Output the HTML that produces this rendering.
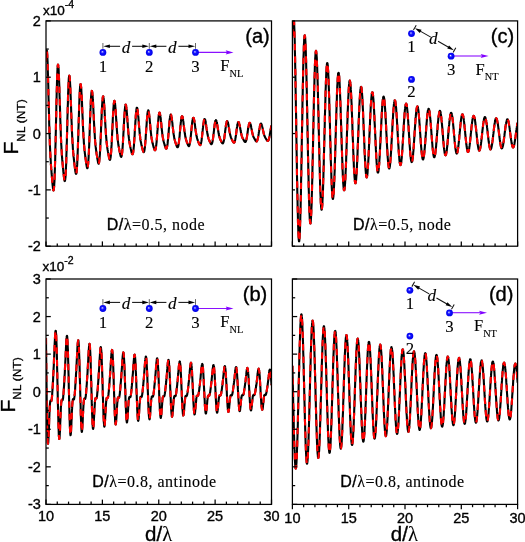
<!DOCTYPE html>
<html><head><meta charset="utf-8"><style>
html,body{margin:0;padding:0;background:#fff;}
body{width:525px;height:542px;overflow:hidden;}
svg{display:block;will-change:transform;}
text{fill:#000;stroke:#000;stroke-width:0.35px;}
.s{stroke-width:0.12px;}
</style></head><body>
<svg width="525" height="542" viewBox="0 0 525 542">
<defs><radialGradient id="bg" cx="0.5" cy="0.5" r="0.5" fx="0.4" fy="0.4"><stop offset="0" stop-color="#ffffff"/><stop offset="0.2" stop-color="#7070ff"/><stop offset="0.45" stop-color="#1010ff"/><stop offset="1" stop-color="#0000e6"/></radialGradient></defs>
<rect width="525" height="542" fill="#fff"/>
<clipPath id="ca"><rect x="46.0" y="20.9" width="225.5" height="225.29999999999998"/></clipPath>
<g clip-path="url(#ca)" fill="none" stroke-linejoin="round">
<path d="M46.0 61.5l0.1 -3.8 0.2 -3.1 0.1 -2.2 0.2 -1.5 0.1 -0.6 0.1 0.1 0.2 0.9 0.1 1.6 0.2 2.3 0.1 3 0.2 3.6 0.1 4 0.1 4.6 0.2 4.8 0.1 5.2 0.2 5.4 0.1 5.6 0.1 5.6 0.2 5.6 0.1 5.6 0.2 5.5 0.1 5.3 0.1 5 0.2 4.9 0.1 4.6 0.2 4.3 0.1 4 0.1 3.7 0.2 3.4 0.1 3.1 0.2 2.9 0.1 2.7 0.2 2.5 0.1 2.2 0.1 2.2 0.2 2 0.1 1.9 0.2 1.8 0.1 1.8 0.1 1.7 0.2 1.8 0.1 1.7 0.2 1.7 0.1 1.6 0.1 1.7 0.2 1.5 0.1 1.5 0.2 1.4 0.1 1.2 0.2 1.1 0.1 0.8 0.1 0.5 0.2 0.3 0.1 -0.2 0.2 -0.4 0.1 -1 0.1 -1.3 0.2 -1.9 0.1 -2.3 0.2 -2.8 0.1 -3.3 0.1 -3.9 0.2 -4.2 0.1 -4.8 0.2 -5.1 0.1 -5.6 0.1 -5.8 0.2 -6.1 0.1 -6.3 0.2 -6.5 0.1 -6.5 0.2 -6.4 0.1 -6.4 0.1 -6.2 0.2 -6 0.1 -5.6 0.2 -5.3 0.1 -4.8 0.1 -4.3 0.2 -3.7 0.1 -3.1 0.2 -2.5 0.1 -1.9 0.1 -1.2 0.2 -0.5 0.1 0.1 0.2 0.8 0.1 1.4 0.2 1.9 0.1 2.5 0.1 2.9 0.2 3.4 0.1 3.8 0.2 4 0.1 4.3 0.1 4.5 0.2 4.6 0.1 4.7 0.2 4.6 0.1 4.6 0.1 4.6 0.2 4.3 0.1 4.3 0.2 4 0.1 3.8 0.1 3.5 0.2 3.3 0.1 3.1 0.2 2.8 0.1 2.7 0.2 2.4 0.1 2.2 0.1 2 0.2 1.9 0.1 1.8 0.2 1.6 0.1 1.6 0.1 1.6 0.2 1.5 0.1 1.4 0.2 1.5 0.1 1.4 0.1 1.4 0.2 1.4 0.1 1.4 0.2 1.3 0.1 1.3 0.2 1.1 0.1 1 0.1 0.9 0.2 0.7 0.1 0.4 0.2 0.2 0.1 -0.1 0.1 -0.4 0.2 -0.8 0.1 -1.1 0.2 -1.6 0.1 -1.9 0.1 -2.4 0.2 -2.8 0.1 -3.2 0.2 -3.6 0.1 -4 0.1 -4.3 0.2 -4.7 0.1 -4.9 0.2 -5.1 0.1 -5.3 0.2 -5.4 0.1 -5.5 0.1 -5.4 0.2 -5.3 0.1 -5.3 0.2 -4.9 0.1 -4.8 0.1 -4.4 0.2 -4 0.1 -3.6 0.2 -3.1 0.1 -2.6 0.1 -2.1 0.2 -1.5 0.1 -1 0.2 -0.4 0.1 0.1 0.2 0.6 0.1 1.2 0.1 1.7 0.2 2 0.1 2.5 0.2 2.9 0.1 3.2 0.1 3.4 0.2 3.6 0.1 3.8 0.2 3.9 0.1 3.9 0.1 3.9 0.2 3.9 0.1 3.8 0.2 3.7 0.1 3.5 0.1 3.4 0.2 3.2 0.1 3 0.2 2.8 0.1 2.6 0.2 2.4 0.1 2.2 0.1 2 0.2 1.9 0.1 1.7 0.2 1.6 0.1 1.5 0.1 1.4 0.2 1.3 0.1 1.3 0.2 1.3 0.1 1.2 0.1 1.3 0.2 1.2 0.1 1.2 0.2 1.2 0.1 1.1 0.2 1.2 0.1 1 0.1 1 0.2 0.9 0.1 0.7 0.2 0.6 0.1 0.3 0.1 0.2 0.2 -0.1 0.1 -0.3 0.2 -0.7 0.1 -1 0.1 -1.3 0.2 -1.7 0.1 -2 0.2 -2.4 0.1 -2.8 0.1 -3 0.2 -3.4 0.1 -3.7 0.2 -4 0.1 -4.2 0.2 -4.3 0.1 -4.5 0.1 -4.6 0.2 -4.7 0.1 -4.6 0.2 -4.6 0.1 -4.4 0.1 -4.2 0.2 -4 0.1 -3.8 0.2 -3.4 0.1 -3 0.1 -2.7 0.2 -2.2 0.1 -1.7 0.2 -1.3 0.1 -0.9 0.2 -0.3 0.1 0.1 0.1 0.6 0.2 1 0.1 1.4 0.2 1.8 0.1 2.2 0.1 2.4 0.2 2.7 0.1 2.9 0.2 3.1 0.1 3.3 0.1 3.3 0.2 3.3 0.1 3.4 0.2 3.3 0.1 3.2 0.1 3.2 0.2 3 0.1 2.9 0.2 2.7 0.1 2.5 0.2 2.4 0.1 2.2 0.1 2.1 0.2 1.9 0.1 1.7 0.2 1.6 0.1 1.4 0.1 1.4 0.2 1.3 0.1 1.2 0.2 1.2 0.1 1.1 0.1 1.1 0.2 1 0.1 1.1 0.2 1 0.1 1.1 0.2 1 0.1 1 0.1 1 0.2 0.9 0.1 0.8 0.2 0.7 0.1 0.7 0.1 0.5 0.2 0.3 0.1 0.1 0.2 -0.1 0.1 -0.3 0.1 -0.6 0.2 -0.8 0.1 -1.2 0.2 -1.4 0.1 -1.8 0.1 -2 0.2 -2.4 0.1 -2.7 0.2 -2.9 0.1 -3.2 0.2 -3.4 0.1 -3.6 0.1 -3.8 0.2 -3.9 0.1 -3.9 0.2 -4 0.1 -4 0.1 -3.9 0.2 -3.8 0.1 -3.7 0.2 -3.4 0.1 -3.2 0.1 -3 0.2 -2.6 0.1 -2.2 0.2 -1.9 0.1 -1.5 0.2 -1.1 0.1 -0.7 0.1 -0.3 0.2 0.1 0.1 0.5 0.2 0.9 0.1 1.2 0.1 1.6 0.2 1.8 0.1 2.2 0.2 2.3 0.1 2.5 0.1 2.7 0.2 2.8 0.1 2.9 0.2 2.9 0.1 2.8 0.1 2.9 0.2 2.8 0.1 2.7 0.2 2.6 0.1 2.5 0.2 2.4 0.1 2.2 0.1 2 0.2 1.9 0.1 1.8 0.2 1.6 0.1 1.5 0.1 1.4 0.2 1.2 0.1 1.2 0.2 1.1 0.1 1.1 0.1 1 0.2 0.9 0.1 1 0.2 0.9 0.1 0.9 0.2 0.9 0.1 0.9 0.1 0.9 0.2 0.9 0.1 0.8 0.2 0.8 0.1 0.8 0.1 0.6 0.2 0.5 0.1 0.5 0.2 0.2 0.1 0.2 0.1 -0.1 0.2 -0.3 0.1 -0.5 0.2 -0.8 0.1 -1 0.1 -1.3 0.2 -1.5 0.1 -1.8 0.2 -2.1 0.1 -2.3 0.2 -2.5 0.1 -2.8 0.1 -3 0.2 -3.1 0.1 -3.3 0.2 -3.4 0.1 -3.5 0.1 -3.4 0.2 -3.5 0.1 -3.4 0.2 -3.3 0.1 -3.2 0.1 -3 0.2 -2.8 0.1 -2.5 0.2 -2.3 0.1 -1.9 0.2 -1.7 0.1 -1.3 0.1 -0.9 0.2 -0.6 0.1 -0.3 0.2 0.2 0.1 0.4 0.1 0.8 0.2 1.1 0.1 1.4 0.2 1.6 0.1 1.8 0.1 2.1 0.2 2.2 0.1 2.3 0.2 2.5 0.1 2.5 0.1 2.5 0.2 2.5 0.1 2.5 0.2 2.5 0.1 2.3 0.2 2.3 0.1 2.2 0.1 2 0.2 1.9 0.1 1.8 0.2 1.7 0.1 1.5 0.1 1.4 0.2 1.3 0.1 1.2 0.2 1.1 0.1 1.1 0.1 0.9 0.2 0.9 0.1 0.9 0.2 0.9 0.1 0.8 0.2 0.8 0.1 0.8 0.1 0.8 0.2 0.8 0.1 0.8 0.2 0.7 0.1 0.8 0.1 0.7 0.2 0.6 0.1 0.6 0.2 0.4 0.1 0.4 0.1 0.2 0.2 0.1 0.1 0 0.2 -0.3 0.1 -0.5 0.1 -0.6 0.2 -0.9 0.1 -1.1 0.2 -1.4 0.1 -1.6 0.2 -1.8 0.1 -2.1 0.1 -2.2 0.2 -2.5 0.1 -2.6 0.2 -2.7 0.1 -2.9 0.1 -3 0.2 -3 0.1 -3.1 0.2 -3 0.1 -3 0.1 -2.9 0.2 -2.8 0.1 -2.6 0.2 -2.5 0.1 -2.2 0.2 -2 0.1 -1.7 0.1 -1.4 0.2 -1.1 0.1 -0.9 0.2 -0.5 0.1 -0.2 0.1 0.1 0.2 0.5 0.1 0.7 0.2 0.9 0.1 1.2 0.1 1.5 0.2 1.6 0.1 1.8 0.2 2 0.1 2 0.1 2.2 0.2 2.2 0.1 2.2 0.2 2.2 0.1 2.2 0.2 2.2 0.1 2 0.1 2 0.2 1.9 0.1 1.8 0.2 1.7 0.1 1.6 0.1 1.5 0.2 1.3 0.1 1.2 0.2 1.2 0.1 1 0.1 1 0.2 0.9 0.1 0.9 0.2 0.8 0.1 0.7 0.2 0.8 0.1 0.7 0.1 0.7 0.2 0.8 0.1 0.7 0.2 0.7 0.1 0.7 0.1 0.6 0.2 0.7 0.1 0.6 0.2 0.5 0.1 0.5 0.1 0.5 0.2 0.3 0.1 0.2 0.2 0.1 0.1 -0.1 0.1 -0.2 0.2 -0.5 0.1 -0.6 0.2 -0.8 0.1 -1 0.2 -1.2 0.1 -1.4 0.1 -1.6 0.2 -1.8 0.1 -2 0.2 -2.2 0.1 -2.3 0.1 -2.5 0.2 -2.5 0.1 -2.7 0.2 -2.6 0.1 -2.7 0.1 -2.7 0.2 -2.7 0.1 -2.5 0.2 -2.5 0.1 -2.3 0.2 -2.2 0.1 -1.9 0.1 -1.8 0.2 -1.5 0.1 -1.2 0.2 -1 0.1 -0.7 0.1 -0.5 0.2 -0.1 0.1 0.1 0.2 0.3 0.1 0.7 0.1 0.8 0.2 1.1 0.1 1.3 0.2 1.5 0.1 1.6 0.1 1.7 0.2 1.8 0.1 1.9 0.2 2 0.1 2 0.2 1.9 0.1 2 0.1 1.9 0.2 1.8 0.1 1.8 0.2 1.7 0.1 1.6 0.1 1.5 0.2 1.3 0.1 1.3 0.2 1.2 0.1 1.1 0.1 1 0.2 1 0.1 0.8 0.2 0.8 0.1 0.8 0.2 0.7 0.1 0.7 0.1 0.7 0.2 0.6 0.1 0.6 0.2 0.7 0.1 0.6 0.1 0.6 0.2 0.6 0.1 0.6 0.2 0.6 0.1 0.6 0.1 0.5 0.2 0.4 0.1 0.4 0.2 0.3 0.1 0.1 0.1 0.1 0.2 -0.1 0.1 -0.2 0.2 -0.4 0.1 -0.5 0.2 -0.7 0.1 -0.9 0.1 -1.1 0.2 -1.3 0.1 -1.4 0.2 -1.6 0.1 -1.8 0.1 -2 0.2 -2 0.1 -2.2 0.2 -2.3 0.1 -2.4 0.1 -2.4 0.2 -2.4 0.1 -2.4 0.2 -2.3 0.1 -2.3 0.2 -2.2 0.1 -2.1 0.1 -1.9 0.2 -1.7 0.1 -1.6 0.2 -1.3 0.1 -1.1 0.1 -0.9 0.2 -0.6 0.1 -0.4 0.2 -0.1 0.1 0.1 0.1 0.3 0.2 0.6 0.1 0.8 0.2 1 0.1 1.1 0.1 1.3 0.2 1.5 0.1 1.5 0.2 1.6 0.1 1.8 0.2 1.7 0.1 1.8 0.1 1.7 0.2 1.7 0.1 1.7 0.2 1.7 0.1 1.6 0.1 1.5 0.2 1.4 0.1 1.3 0.2 1.2 0.1 1.2 0.1 1.1 0.2 0.9 0.1 0.9 0.2 0.9 0.1 0.7 0.2 0.7 0.1 0.7 0.1 0.7 0.2 0.6 0.1 0.6 0.2 0.6 0.1 0.5 0.1 0.6 0.2 0.6 0.1 0.5 0.2 0.6 0.1 0.5 0.1 0.5 0.2 0.5 0.1 0.5 0.2 0.3 0.1 0.4 0.1 0.2 0.2 0.2 0.1 0 0.2 0 0.1 -0.2 0.2 -0.4 0.1 -0.5 0.1 -0.6 0.2 -0.8 0.1 -1 0.2 -1.1 0.1 -1.4 0.1 -1.4 0.2 -1.6 0.1 -1.8 0.2 -1.8 0.1 -2 0.1 -2.1 0.2 -2.1 0.1 -2.1 0.2 -2.2 0.1 -2.1 0.2 -2.1 0.1 -2.1 0.1 -1.9 0.2 -1.9 0.1 -1.7 0.2 -1.6 0.1 -1.3 0.1 -1.2 0.2 -1 0.1 -0.8 0.2 -0.5 0.1 -0.4 0.1 -0.1 0.2 0.1 0.1 0.3 0.2 0.6 0.1 0.7 0.1 0.9 0.2 1 0.1 1.2 0.2 1.3 0.1 1.4 0.2 1.4 0.1 1.6 0.1 1.5 0.2 1.6 0.1 1.6 0.2 1.6 0.1 1.5 0.1 1.5 0.2 1.4 0.1 1.3 0.2 1.3 0.1 1.2 0.1 1.1 0.2 1 0.1 1 0.2 0.8 0.1 0.8 0.2 0.8 0.1 0.7 0.1 0.6 0.2 0.6 0.1 0.6 0.2 0.6 0.1 0.5 0.1 0.5 0.2 0.5 0.1 0.6 0.2 0.5 0.1 0.5 0.1 0.5 0.2 0.4 0.1 0.5 0.2 0.4 0.1 0.4 0.1 0.4 0.2 0.3 0.1 0.2 0.2 0.1 0.1 0.1 0.2 -0.1 0.1 -0.2 0.1 -0.3 0.2 -0.4 0.1 -0.6 0.2 -0.7 0.1 -0.9 0.1 -1.1 0.2 -1.2 0.1 -1.3 0.2 -1.4 0.1 -1.6 0.1 -1.7 0.2 -1.8 0.1 -1.8 0.2 -1.9 0.1 -2 0.2 -1.9 0.1 -2 0.1 -1.9 0.2 -1.8 0.1 -1.8 0.2 -1.6 0.1 -1.6 0.1 -1.4 0.2 -1.2 0.1 -1.1 0.2 -0.9 0.1 -0.6 0.1 -0.5 0.2 -0.3 0.1 -0.1 0.2 0.1 0.1 0.3 0.1 0.5 0.2 0.6 0.1 0.8 0.2 0.9 0.1 1.1 0.2 1.2 0.1 1.3 0.1 1.3 0.2 1.4 0.1 1.4 0.2 1.4 0.1 1.5 0.1 1.4 0.2 1.3 0.1 1.4 0.2 1.2 0.1 1.2 0.1 1.2 0.2 1.1 0.1 1 0.2 0.9 0.1 0.8 0.2 0.8 0.1 0.8 0.1 0.6 0.2 0.7 0.1 0.5 0.2 0.6 0.1 0.5 0.1 0.5 0.2 0.5 0.1 0.5 0.2 0.4 0.1 0.5 0.1 0.5 0.2 0.4 0.1 0.5 0.2 0.4 0.1 0.4 0.1 0.4 0.2 0.4 0.1 0.3 0.2 0.3 0.1 0.2 0.2 0.1 0.1 0 0.1 -0.1 0.2 -0.1 0.1 -0.3 0.2 -0.4 0.1 -0.6 0.1 -0.6 0.2 -0.8 0.1 -1 0.2 -1.1 0.1 -1.2 0.1 -1.3 0.2 -1.4 0.1 -1.6 0.2 -1.6 0.1 -1.7 0.2 -1.7 0.1 -1.8 0.1 -1.7 0.2 -1.8 0.1 -1.7 0.2 -1.7 0.1 -1.6 0.1 -1.5 0.2 -1.4 0.1 -1.2 0.2 -1.1 0.1 -1 0.1 -0.8 0.2 -0.6 0.1 -0.4 0.2 -0.3 0.1 -0.1 0.1 0.1 0.2 0.3 0.1 0.4 0.2 0.6 0.1 0.8 0.2 0.8 0.1 1 0.1 1.1 0.2 1.1 0.1 1.2 0.2 1.3 0.1 1.3 0.1 1.3 0.2 1.3 0.1 1.3 0.2 1.2 0.1 1.2 0.1 1.2 0.2 1.1 0.1 1 0.2 1 0.1 0.9 0.2 0.8 0.1 0.8 0.1 0.7 0.2 0.7 0.1 0.6 0.2 0.5 0.1 0.6 0.1 0.4 0.2 0.5 0.1 0.5 0.2 0.4 0.1 0.4 0.1 0.5 0.2 0.4 0.1 0.4 0.2 0.4 0.1 0.4 0.1 0.4 0.2 0.4 0.1 0.4 0.2 0.3 0.1 0.3 0.2 0.2 0.1 0.2 0.1 0.1 0.2 0 0.1 0 0.2 -0.2 0.1 -0.2 0.1 -0.4 0.2 -0.5 0.1 -0.6 0.2 -0.8 0.1 -0.9 0.1 -0.9 0.2 -1.1 0.1 -1.3 0.2 -1.3 0.1 -1.4 0.2 -1.4 0.1 -1.6 0.1 -1.5 0.2 -1.7 0.1 -1.6 0.2 -1.6 0.1 -1.5 0.1 -1.5 0.2 -1.5 0.1 -1.4 0.2 -1.2 0.1 -1.2 0.1 -1 0.2 -0.8 0.1 -0.8 0.2 -0.5 0.1 -0.4 0.1 -0.2 0.2 -0.1 0.1 0.1 0.2 0.3 0.1 0.4 0.2 0.5 0.1 0.7 0.1 0.8 0.2 0.9 0.1 1 0.2 1 0.1 1.1 0.1 1.2 0.2 1.1 0.1 1.2 0.2 1.2 0.1 1.2 0.1 1.1 0.2 1.1 0.1 1 0.2 1 0.1 1 0.2 0.9 0.1 0.8 0.1 0.8 0.2 0.7 0.1 0.6 0.2 0.6 0.1 0.6 0.1 0.5 0.2 0.5 0.1 0.4 0.2 0.4 0.1 0.5 0.1 0.4 0.2 0.3 0.1 0.4 0.2 0.4 0.1 0.4 0.1 0.4 0.2 0.4 0.1 0.3 0.2 0.4 0.1 0.3 0.2 0.3 0.1 0.3 0.1 0.2 0.2 0.1 0.1 0.1 0.2 0.1 0.1 -0.1 0.1 -0.2 0.2 -0.2 0.1 -0.4 0.2 -0.4 0.1 -0.6 0.1 -0.7 0.2 -0.8 0.1 -0.9 0.2 -1 0.1 -1.1 0.2 -1.2 0.1 -1.3 0.1 -1.3 0.2 -1.4 0.1 -1.5 0.2 -1.5 0.1 -1.4 0.1 -1.5 0.2 -1.4 0.1 -1.4 0.2 -1.3 0.1 -1.3 0.1 -1.1 0.2 -1.1 0.1 -0.9 0.2 -0.8 0.1 -0.6 0.1 -0.5 0.2 -0.4 0.1 -0.2 0.2 0 0.1 0.1 0.2 0.2 0.1 0.4 0.1 0.5 0.2 0.6 0.1 0.8 0.2 0.8 0.1 0.9 0.1 0.9 0.2 1.1 0.1 1 0.2 1.1 0.1 1.1 0.1 1.1 0.2 1 0.1 1.1 0.2 1 0.1 0.9 0.2 0.9 0.1 0.9 0.1 0.8 0.2 0.7 0.1 0.7 0.2 0.7 0.1 0.6 0.1 0.5 0.2 0.5 0.1 0.5 0.2 0.4 0.1 0.4 0.1 0.4 0.2 0.4 0.1 0.4 0.2 0.4 0.1 0.3 0.1 0.4 0.2 0.3 0.1 0.4 0.2 0.3 0.1 0.3 0.2 0.4 0.1 0.3 0.1 0.2 0.2 0.3 0.1 0.2 0.2 0.1 0.1 0.1 0.1 0 0.2 0 0.1 -0.2 0.2 -0.2 0.1 -0.3 0.1 -0.5 0.2 -0.5 0.1 -0.6 0.2 -0.8 0.1 -0.8 0.2 -0.9 0.1 -1.1 0.1 -1.1 0.2 -1.2 0.1 -1.2 0.2 -1.3 0.1 -1.3 0.1 -1.4 0.2 -1.3 0.1 -1.4 0.2 -1.3 0.1 -1.2 0.1 -1.3 0.2 -1.1 0.1 -1 0.2 -1 0.1 -0.8 0.1 -0.8 0.2 -0.5 0.1 -0.5 0.2 -0.3 0.1 -0.2 0.2 0 0.1 0.1 0.1 0.2 0.2 0.3 0.1 0.5 0.2 0.6 0.1 0.7 0.1 0.7 0.2 0.9 0.1 0.9 0.2 0.9 0.1 1 0.1 0.9 0.2 1 0.1 1 0.2 1 0.1 1 0.2 0.9 0.1 0.9 0.1 0.8 0.2 0.8 0.1 0.7 0.2 0.7 0.1 0.6 0.1 0.6 0.2 0.6 0.1 0.5 0.2 0.4 0.1 0.5 0.1 0.4 0.2 0.4 0.1 0.3 0.2 0.4 0.1 0.3 0.1 0.3 0.2 0.4 0.1 0.3 0.2 0.3 0.1 0.3 0.2 0.3 0.1 0.4 0.1 0.2 0.2 0.3 0.1 0.3 0.2 0.2 0.1 0.2 0.1 0.1 0.2 0.1 0.1 0 0.2 -0.1 0.1 -0.1 0.1 -0.2 0.2 -0.3 0.1 -0.4 0.2 -0.5 0.1 -0.6 0.2 -0.7 0.1 -0.8 0.1 -0.8 0.2 -1 0.1 -1 0.2 -1.1 0.1 -1.1 0.1 -1.2 0.2 -1.2 0.1 -1.3 0.2 -1.2 0.1 -1.3 0.1 -1.2 0.2 -1.1 0.1 -1.2 0.2 -1 0.1 -1 0.1 -0.8 0.2 -0.8 0.1 -0.7 0.2 -0.5 0.1 -0.4 0.2 -0.3 0.1 -0.2 0.1 0 0.2 0.1 0.1 0.2 0.2 0.4 0.1 0.4 0.1 0.5 0.2 0.7 0.1 0.7 0.2 0.7 0.1 0.8 0.1 0.9 0.2 0.9 0.1 0.9 0.2 0.9 0.1 0.9 0.2 0.9 0.1 0.9 0.1 0.9 0.2 0.8 0.1 0.7 0.2 0.8 0.1 0.7 0.1 0.6 0.2 0.6 0.1 0.5 0.2 0.5 0.1 0.5 0.1 0.4 0.2 0.4 0.1 0.4 0.2 0.3 0.1 0.3 0.1 0.4 0.2 0.3 0.1 0.3 0.2 0.3 0.1 0.3 0.2 0.3 0.1 0.3 0.1 0.3 0.2 0.3 0.1 0.2 0.2 0.3 0.1 0.2 0.1 0.2 0.2 0.2 0.1 0.1 0.2 0.1 0.1 0 0.1 -0.1 0.2 -0.1 0.1 -0.2 0.2 -0.3 0.1 -0.4 0.2 -0.4 0.1 -0.6 0.1 -0.6 0.2 -0.7 0.1 -0.8 0.2 -0.9 0.1 -1 0.1 -1 0.2 -1 0.1 -1.1 0.2 -1.2 0.1 -1.1 0.1 -1.2 0.2 -1.1 0.1 -1.1 0.2 -1.1 0.1 -1 0.1 -1 0.2 -0.9 0.1 -0.8 0.2 -0.7 0.1 -0.6 0.2 -0.5 0.1 -0.4 0.1 -0.2 0.2 -0.2 0.1 0 0.2 0.1 0.1 0.2 0.1 0.3 0.2 0.4 0.1 0.5 0.2 0.6 0.1 0.7 0.1 0.7 0.2 0.8 0.1 0.8 0.2 0.8 0.1 0.8 0.2 0.9 0.1 0.8 0.1 0.9 0.2 0.8 0.1 0.7 0.2 0.8 0.1 0.7 0.1 0.7 0.2 0.6 0.1 0.6 0.2 0.5 0.1 0.5 0.1 0.5 0.2 0.4 0.1 0.4 0.2 0.4 0.1 0.3 0.1 0.3 0.2 0.3 0.1 0.3 0.2 0.3 0.1 0.3 0.2 0.3 0.1 0.3 0.1 0.2 0.2 0.3 0.1 0.3 0.2 0.2 0.1 0.3 0.1 0.2 0.2 0.2 0.1 0.2 0.2 0.2 0.1 0.1 0.1 0 0.2 0.1 0.1 -0.1 0.2 -0.1 0.1 -0.2 0.2 -0.3 0.1 -0.3 0.1 -0.5 0.2 -0.5 0.1 -0.6 0.2 -0.6 0.1 -0.8 0.1 -0.8 0.2 -0.9 0.1 -0.9 0.2 -1 0.1 -1 0.1 -1.1 0.2 -1 0.1 -1.1 0.2 -1.1 0.1 -1 0.1 -1 0.2 -0.9 0.1 -0.9 0.2 -0.9 0.1 -0.7 0.2 -0.6 0.1 -0.6 0.1 -0.5 0.2 -0.3 0.1 -0.2 0.2 -0.2 0.1 0 0.1 0.1 0.2 0.2 0.1 0.3 0.2 0.4 0.1 0.5 0.1 0.5 0.2 0.6 0.1 0.7 0.2 0.7 0.1 0.7 0.2 0.8 0.1 0.8 0.1 0.8 0.2 0.7 0.1 0.8 0.2 0.8 0.1 0.7 0.1 0.7 0.2 0.6 0.1 0.7 0.2 0.5 0.1 0.6 0.1 0.5 0.2 0.4 0.1 0.5 0.2 0.4 0.1 0.3 0.1 0.4 0.2 0.3 0.1 0.3 0.2 0.3 0.1 0.2 0.2 0.3 0.1 0.3 0.1 0.2 0.2 0.3 0.1 0.2 0.2 0.3 0.1 0.3 0.1 0.2 0.2 0.2 0.1 0.2 0.2 0.2 0.1 0.2 0.1 0.1 0.2 0.1 0.1 0.1 0.2 0 0.1 0 0.2 -0.2 0.1 -0.1 0.1 -0.3 0.2 -0.3 0.1 -0.4 0.2 -0.5 0.1 -0.6 0.1 -0.6 0.2 -0.7 0.1 -0.7 0.2 -0.9 0.1 -0.8 0.1 -1 0.2 -0.9 0.1 -1 0.2 -1 0.1 -1 0.1 -1 0.2 -0.9 0.1 -0.9 0.2 -0.9 0.1 -0.8 0.2 -0.8 0.1 -0.7 0.1 -0.6 0.2 -0.5 0.1 -0.4 0.2 -0.3 0.1 -0.2 0.1 -0.2 0.2 0 0.1 0.1 0.2 0.2 0.1 0.3 0.1 0.3 0.2 0.5 0.1 0.5 0.2 0.6 0.1 0.6 0.2 0.6 0.1 0.7 0.1 0.8 0.2 0.7 0.1 0.7 0.2 0.7 0.1 0.8 0.1 0.7 0.2 0.6 0.1 0.7 0.2 0.6 0.1 0.6 0.1 0.5 0.2 0.5 0.1 0.5 0.2 0.4 0.1 0.4 0.1 0.3 0.2 0.4 0.1 0.3 0.2 0.3 0.1 0.3 0.2 0.2 0.1 0.3 0.1 0.2 0.2 0.3 0.1 0.2 0.2 0.3 0.1 0.2 0.1 0.2 0.2 0.3 0.1 0.2 0.2 0.2 0.1 0.2 0.1 0.2 0.2 0.2 0.1 0.1 0.2 0.1 0.1 0 0.2 0 0.1 0 0.1 -0.1 0.2 -0.2 0.1 -0.2 0.2 -0.4 0.1 -0.3 0.1 -0.5 0.2 -0.5 0.1 -0.6 0.2 -0.6 0.1 -0.8 0.1 -0.7 0.2 -0.8 0.1 -0.9 0.2 -0.9 0.1 -0.9 0.1 -0.9 0.2 -0.9 0.1 -1 0.2 -0.9 0.1 -0.8 0.2 -0.8 0.1 -0.8 0.1 -0.7 0.2 -0.6 0.1 -0.6 0.2 -0.5 0.1 -0.3 0.1 -0.3 0.2 -0.2 0.1 -0.1 0.2 0 0.1 0 0.1 0.2 0.2 0.3 0.1 0.3 0.2 0.4 0.1 0.5 0.2 0.5 0.1 0.6 0.1 0.6 0.2 0.7 0.1 0.7 0.2 0.6 0.1 0.7 0.1 0.7 0.2 0.7 0.1 0.6 0.2 0.6 0.1 0.6 0.1 0.6 0.2 0.5 0.1 0.5 0.2 0.5 0.1 0.4 0.1 0.4 0.2 0.4 0.1 0.3 0.2 0.4 0.1 0.2 0.2 0.3 0.1 0.3 0.1 0.2 0.2 0.3 0.1 0.2 0.2 0.2 0.1 0.3 0.1 0.2 0.2 0.2 0.1 0.2 0.2 0.2 0.1 0.3 0.1 0.2 0.2 0.1 0.1 0.2 0.2 0.2 0.1 0.1 0.2 0.1 0.1 0 0.1 0 0.2 0 0.1 -0.2 0.2 -0.1 0.1 -0.2 0.1 -0.3 0.2 -0.4 0.1 -0.4 0.2 -0.5 0.1 -0.6 0.1 -0.6 0.2 -0.6 0.1 -0.8 0.2 -0.7 0.1 -0.8 0.1 -0.9 0.2 -0.8 0.1 -0.9 0.2 -0.8 0.1 -0.9 0.2 -0.8 0.1 -0.8 0.1 -0.8 0.2 -0.7 0.1 -0.7 0.2 -0.5 0.1 -0.6" stroke="#000" stroke-width="2.1"/>
<path d="M46.0 61.5l0.1 -3.8 0.2 -3.1 0.1 -2.2 0.2 -1.5 0.1 -0.6 0.1 0.1 0.2 0.9 0.1 1.6 0.2 2.3 0.1 3 0.2 3.6 0.1 4 0.1 4.6 0.2 4.8 0.1 5.2 0.2 5.4 0.1 5.6 0.1 5.6 0.2 5.6 0.1 5.6 0.2 5.5 0.1 5.3 0.1 5 0.2 4.9 0.1 4.6 0.2 4.3 0.1 4 0.1 3.7 0.2 3.4 0.1 3.1 0.2 2.9 0.1 2.7 0.2 2.5 0.1 2.2 0.1 2.2 0.2 2 0.1 1.9 0.2 1.8 0.1 1.8 0.1 1.7 0.2 1.8 0.1 1.7 0.2 1.7 0.1 1.6 0.1 1.7 0.2 1.5 0.1 1.5 0.2 1.4 0.1 1.2 0.2 1.1 0.1 0.8 0.1 0.5 0.2 0.3 0.1 -0.2 0.2 -0.4 0.1 -1 0.1 -1.3 0.2 -1.9 0.1 -2.3 0.2 -2.8 0.1 -3.3 0.1 -3.9 0.2 -4.2 0.1 -4.8 0.2 -5.1 0.1 -5.6 0.1 -5.8 0.2 -6.1 0.1 -6.3 0.2 -6.5 0.1 -6.5 0.2 -6.4 0.1 -6.4 0.1 -6.2 0.2 -6 0.1 -5.6 0.2 -5.3 0.1 -4.8 0.1 -4.3 0.2 -3.7 0.1 -3.1 0.2 -2.5 0.1 -1.9 0.1 -1.2 0.2 -0.5 0.1 0.1 0.2 0.8 0.1 1.4 0.2 1.9 0.1 2.5 0.1 2.9 0.2 3.4 0.1 3.8 0.2 4 0.1 4.3 0.1 4.5 0.2 4.6 0.1 4.7 0.2 4.6 0.1 4.6 0.1 4.6 0.2 4.3 0.1 4.3 0.2 4 0.1 3.8 0.1 3.5 0.2 3.3 0.1 3.1 0.2 2.8 0.1 2.7 0.2 2.4 0.1 2.2 0.1 2 0.2 1.9 0.1 1.8 0.2 1.6 0.1 1.6 0.1 1.6 0.2 1.5 0.1 1.4 0.2 1.5 0.1 1.4 0.1 1.4 0.2 1.4 0.1 1.4 0.2 1.3 0.1 1.3 0.2 1.1 0.1 1 0.1 0.9 0.2 0.7 0.1 0.4 0.2 0.2 0.1 -0.1 0.1 -0.4 0.2 -0.8 0.1 -1.1 0.2 -1.6 0.1 -1.9 0.1 -2.4 0.2 -2.8 0.1 -3.2 0.2 -3.6 0.1 -4 0.1 -4.3 0.2 -4.7 0.1 -4.9 0.2 -5.1 0.1 -5.3 0.2 -5.4 0.1 -5.5 0.1 -5.4 0.2 -5.3 0.1 -5.3 0.2 -4.9 0.1 -4.8 0.1 -4.4 0.2 -4 0.1 -3.6 0.2 -3.1 0.1 -2.6 0.1 -2.1 0.2 -1.5 0.1 -1 0.2 -0.4 0.1 0.1 0.2 0.6 0.1 1.2 0.1 1.7 0.2 2 0.1 2.5 0.2 2.9 0.1 3.2 0.1 3.4 0.2 3.6 0.1 3.8 0.2 3.9 0.1 3.9 0.1 3.9 0.2 3.9 0.1 3.8 0.2 3.7 0.1 3.5 0.1 3.4 0.2 3.2 0.1 3 0.2 2.8 0.1 2.6 0.2 2.4 0.1 2.2 0.1 2 0.2 1.9 0.1 1.7 0.2 1.6 0.1 1.5 0.1 1.4 0.2 1.3 0.1 1.3 0.2 1.3 0.1 1.2 0.1 1.3 0.2 1.2 0.1 1.2 0.2 1.2 0.1 1.1 0.2 1.2 0.1 1 0.1 1 0.2 0.9 0.1 0.7 0.2 0.6 0.1 0.3 0.1 0.2 0.2 -0.1 0.1 -0.3 0.2 -0.7 0.1 -1 0.1 -1.3 0.2 -1.7 0.1 -2 0.2 -2.4 0.1 -2.8 0.1 -3 0.2 -3.4 0.1 -3.7 0.2 -4 0.1 -4.2 0.2 -4.3 0.1 -4.5 0.1 -4.6 0.2 -4.7 0.1 -4.6 0.2 -4.6 0.1 -4.4 0.1 -4.2 0.2 -4 0.1 -3.8 0.2 -3.4 0.1 -3 0.1 -2.7 0.2 -2.2 0.1 -1.7 0.2 -1.3 0.1 -0.9 0.2 -0.3 0.1 0.1 0.1 0.6 0.2 1 0.1 1.4 0.2 1.8 0.1 2.2 0.1 2.4 0.2 2.7 0.1 2.9 0.2 3.1 0.1 3.3 0.1 3.3 0.2 3.3 0.1 3.4 0.2 3.3 0.1 3.2 0.1 3.2 0.2 3 0.1 2.9 0.2 2.7 0.1 2.5 0.2 2.4 0.1 2.2 0.1 2.1 0.2 1.9 0.1 1.7 0.2 1.6 0.1 1.4 0.1 1.4 0.2 1.3 0.1 1.2 0.2 1.2 0.1 1.1 0.1 1.1 0.2 1 0.1 1.1 0.2 1 0.1 1.1 0.2 1 0.1 1 0.1 1 0.2 0.9 0.1 0.8 0.2 0.7 0.1 0.7 0.1 0.5 0.2 0.3 0.1 0.1 0.2 -0.1 0.1 -0.3 0.1 -0.6 0.2 -0.8 0.1 -1.2 0.2 -1.4 0.1 -1.8 0.1 -2 0.2 -2.4 0.1 -2.7 0.2 -2.9 0.1 -3.2 0.2 -3.4 0.1 -3.6 0.1 -3.8 0.2 -3.9 0.1 -3.9 0.2 -4 0.1 -4 0.1 -3.9 0.2 -3.8 0.1 -3.7 0.2 -3.4 0.1 -3.2 0.1 -3 0.2 -2.6 0.1 -2.2 0.2 -1.9 0.1 -1.5 0.2 -1.1 0.1 -0.7 0.1 -0.3 0.2 0.1 0.1 0.5 0.2 0.9 0.1 1.2 0.1 1.6 0.2 1.8 0.1 2.2 0.2 2.3 0.1 2.5 0.1 2.7 0.2 2.8 0.1 2.9 0.2 2.9 0.1 2.8 0.1 2.9 0.2 2.8 0.1 2.7 0.2 2.6 0.1 2.5 0.2 2.4 0.1 2.2 0.1 2 0.2 1.9 0.1 1.8 0.2 1.6 0.1 1.5 0.1 1.4 0.2 1.2 0.1 1.2 0.2 1.1 0.1 1.1 0.1 1 0.2 0.9 0.1 1 0.2 0.9 0.1 0.9 0.2 0.9 0.1 0.9 0.1 0.9 0.2 0.9 0.1 0.8 0.2 0.8 0.1 0.8 0.1 0.6 0.2 0.5 0.1 0.5 0.2 0.2 0.1 0.2 0.1 -0.1 0.2 -0.3 0.1 -0.5 0.2 -0.8 0.1 -1 0.1 -1.3 0.2 -1.5 0.1 -1.8 0.2 -2.1 0.1 -2.3 0.2 -2.5 0.1 -2.8 0.1 -3 0.2 -3.1 0.1 -3.3 0.2 -3.4 0.1 -3.5 0.1 -3.4 0.2 -3.5 0.1 -3.4 0.2 -3.3 0.1 -3.2 0.1 -3 0.2 -2.8 0.1 -2.5 0.2 -2.3 0.1 -1.9 0.2 -1.7 0.1 -1.3 0.1 -0.9 0.2 -0.6 0.1 -0.3 0.2 0.2 0.1 0.4 0.1 0.8 0.2 1.1 0.1 1.4 0.2 1.6 0.1 1.8 0.1 2.1 0.2 2.2 0.1 2.3 0.2 2.5 0.1 2.5 0.1 2.5 0.2 2.5 0.1 2.5 0.2 2.5 0.1 2.3 0.2 2.3 0.1 2.2 0.1 2 0.2 1.9 0.1 1.8 0.2 1.7 0.1 1.5 0.1 1.4 0.2 1.3 0.1 1.2 0.2 1.1 0.1 1.1 0.1 0.9 0.2 0.9 0.1 0.9 0.2 0.9 0.1 0.8 0.2 0.8 0.1 0.8 0.1 0.8 0.2 0.8 0.1 0.8 0.2 0.7 0.1 0.8 0.1 0.7 0.2 0.6 0.1 0.6 0.2 0.4 0.1 0.4 0.1 0.2 0.2 0.1 0.1 0 0.2 -0.3 0.1 -0.5 0.1 -0.6 0.2 -0.9 0.1 -1.1 0.2 -1.4 0.1 -1.6 0.2 -1.8 0.1 -2.1 0.1 -2.2 0.2 -2.5 0.1 -2.6 0.2 -2.7 0.1 -2.9 0.1 -3 0.2 -3 0.1 -3.1 0.2 -3 0.1 -3 0.1 -2.9 0.2 -2.8 0.1 -2.6 0.2 -2.5 0.1 -2.2 0.2 -2 0.1 -1.7 0.1 -1.4 0.2 -1.1 0.1 -0.9 0.2 -0.5 0.1 -0.2 0.1 0.1 0.2 0.5 0.1 0.7 0.2 0.9 0.1 1.2 0.1 1.5 0.2 1.6 0.1 1.8 0.2 2 0.1 2 0.1 2.2 0.2 2.2 0.1 2.2 0.2 2.2 0.1 2.2 0.2 2.2 0.1 2 0.1 2 0.2 1.9 0.1 1.8 0.2 1.7 0.1 1.6 0.1 1.5 0.2 1.3 0.1 1.2 0.2 1.2 0.1 1 0.1 1 0.2 0.9 0.1 0.9 0.2 0.8 0.1 0.7 0.2 0.8 0.1 0.7 0.1 0.7 0.2 0.8 0.1 0.7 0.2 0.7 0.1 0.7 0.1 0.6 0.2 0.7 0.1 0.6 0.2 0.5 0.1 0.5 0.1 0.5 0.2 0.3 0.1 0.2 0.2 0.1 0.1 -0.1 0.1 -0.2 0.2 -0.5 0.1 -0.6 0.2 -0.8 0.1 -1 0.2 -1.2 0.1 -1.4 0.1 -1.6 0.2 -1.8 0.1 -2 0.2 -2.2 0.1 -2.3 0.1 -2.5 0.2 -2.5 0.1 -2.7 0.2 -2.6 0.1 -2.7 0.1 -2.7 0.2 -2.7 0.1 -2.5 0.2 -2.5 0.1 -2.3 0.2 -2.2 0.1 -1.9 0.1 -1.8 0.2 -1.5 0.1 -1.2 0.2 -1 0.1 -0.7 0.1 -0.5 0.2 -0.1 0.1 0.1 0.2 0.3 0.1 0.7 0.1 0.8 0.2 1.1 0.1 1.3 0.2 1.5 0.1 1.6 0.1 1.7 0.2 1.8 0.1 1.9 0.2 2 0.1 2 0.2 1.9 0.1 2 0.1 1.9 0.2 1.8 0.1 1.8 0.2 1.7 0.1 1.6 0.1 1.5 0.2 1.3 0.1 1.3 0.2 1.2 0.1 1.1 0.1 1 0.2 1 0.1 0.8 0.2 0.8 0.1 0.8 0.2 0.7 0.1 0.7 0.1 0.7 0.2 0.6 0.1 0.6 0.2 0.7 0.1 0.6 0.1 0.6 0.2 0.6 0.1 0.6 0.2 0.6 0.1 0.6 0.1 0.5 0.2 0.4 0.1 0.4 0.2 0.3 0.1 0.1 0.1 0.1 0.2 -0.1 0.1 -0.2 0.2 -0.4 0.1 -0.5 0.2 -0.7 0.1 -0.9 0.1 -1.1 0.2 -1.3 0.1 -1.4 0.2 -1.6 0.1 -1.8 0.1 -2 0.2 -2 0.1 -2.2 0.2 -2.3 0.1 -2.4 0.1 -2.4 0.2 -2.4 0.1 -2.4 0.2 -2.3 0.1 -2.3 0.2 -2.2 0.1 -2.1 0.1 -1.9 0.2 -1.7 0.1 -1.6 0.2 -1.3 0.1 -1.1 0.1 -0.9 0.2 -0.6 0.1 -0.4 0.2 -0.1 0.1 0.1 0.1 0.3 0.2 0.6 0.1 0.8 0.2 1 0.1 1.1 0.1 1.3 0.2 1.5 0.1 1.5 0.2 1.6 0.1 1.8 0.2 1.7 0.1 1.8 0.1 1.7 0.2 1.7 0.1 1.7 0.2 1.7 0.1 1.6 0.1 1.5 0.2 1.4 0.1 1.3 0.2 1.2 0.1 1.2 0.1 1.1 0.2 0.9 0.1 0.9 0.2 0.9 0.1 0.7 0.2 0.7 0.1 0.7 0.1 0.7 0.2 0.6 0.1 0.6 0.2 0.6 0.1 0.5 0.1 0.6 0.2 0.6 0.1 0.5 0.2 0.6 0.1 0.5 0.1 0.5 0.2 0.5 0.1 0.5 0.2 0.3 0.1 0.4 0.1 0.2 0.2 0.2 0.1 0 0.2 0 0.1 -0.2 0.2 -0.4 0.1 -0.5 0.1 -0.6 0.2 -0.8 0.1 -1 0.2 -1.1 0.1 -1.4 0.1 -1.4 0.2 -1.6 0.1 -1.8 0.2 -1.8 0.1 -2 0.1 -2.1 0.2 -2.1 0.1 -2.1 0.2 -2.2 0.1 -2.1 0.2 -2.1 0.1 -2.1 0.1 -1.9 0.2 -1.9 0.1 -1.7 0.2 -1.6 0.1 -1.3 0.1 -1.2 0.2 -1 0.1 -0.8 0.2 -0.5 0.1 -0.4 0.1 -0.1 0.2 0.1 0.1 0.3 0.2 0.6 0.1 0.7 0.1 0.9 0.2 1 0.1 1.2 0.2 1.3 0.1 1.4 0.2 1.4 0.1 1.6 0.1 1.5 0.2 1.6 0.1 1.6 0.2 1.6 0.1 1.5 0.1 1.5 0.2 1.4 0.1 1.3 0.2 1.3 0.1 1.2 0.1 1.1 0.2 1 0.1 1 0.2 0.8 0.1 0.8 0.2 0.8 0.1 0.7 0.1 0.6 0.2 0.6 0.1 0.6 0.2 0.6 0.1 0.5 0.1 0.5 0.2 0.5 0.1 0.6 0.2 0.5 0.1 0.5 0.1 0.5 0.2 0.4 0.1 0.5 0.2 0.4 0.1 0.4 0.1 0.4 0.2 0.3 0.1 0.2 0.2 0.1 0.1 0.1 0.2 -0.1 0.1 -0.2 0.1 -0.3 0.2 -0.4 0.1 -0.6 0.2 -0.7 0.1 -0.9 0.1 -1.1 0.2 -1.2 0.1 -1.3 0.2 -1.4 0.1 -1.6 0.1 -1.7 0.2 -1.8 0.1 -1.8 0.2 -1.9 0.1 -2 0.2 -1.9 0.1 -2 0.1 -1.9 0.2 -1.8 0.1 -1.8 0.2 -1.6 0.1 -1.6 0.1 -1.4 0.2 -1.2 0.1 -1.1 0.2 -0.9 0.1 -0.6 0.1 -0.5 0.2 -0.3 0.1 -0.1 0.2 0.1 0.1 0.3 0.1 0.5 0.2 0.6 0.1 0.8 0.2 0.9 0.1 1.1 0.2 1.2 0.1 1.3 0.1 1.3 0.2 1.4 0.1 1.4 0.2 1.4 0.1 1.5 0.1 1.4 0.2 1.3 0.1 1.4 0.2 1.2 0.1 1.2 0.1 1.2 0.2 1.1 0.1 1 0.2 0.9 0.1 0.8 0.2 0.8 0.1 0.8 0.1 0.6 0.2 0.7 0.1 0.5 0.2 0.6 0.1 0.5 0.1 0.5 0.2 0.5 0.1 0.5 0.2 0.4 0.1 0.5 0.1 0.5 0.2 0.4 0.1 0.5 0.2 0.4 0.1 0.4 0.1 0.4 0.2 0.4 0.1 0.3 0.2 0.3 0.1 0.2 0.2 0.1 0.1 0 0.1 -0.1 0.2 -0.1 0.1 -0.3 0.2 -0.4 0.1 -0.6 0.1 -0.6 0.2 -0.8 0.1 -1 0.2 -1.1 0.1 -1.2 0.1 -1.3 0.2 -1.4 0.1 -1.6 0.2 -1.6 0.1 -1.7 0.2 -1.7 0.1 -1.8 0.1 -1.7 0.2 -1.8 0.1 -1.7 0.2 -1.7 0.1 -1.6 0.1 -1.5 0.2 -1.4 0.1 -1.2 0.2 -1.1 0.1 -1 0.1 -0.8 0.2 -0.6 0.1 -0.4 0.2 -0.3 0.1 -0.1 0.1 0.1 0.2 0.3 0.1 0.4 0.2 0.6 0.1 0.8 0.2 0.8 0.1 1 0.1 1.1 0.2 1.1 0.1 1.2 0.2 1.3 0.1 1.3 0.1 1.3 0.2 1.3 0.1 1.3 0.2 1.2 0.1 1.2 0.1 1.2 0.2 1.1 0.1 1 0.2 1 0.1 0.9 0.2 0.8 0.1 0.8 0.1 0.7 0.2 0.7 0.1 0.6 0.2 0.5 0.1 0.6 0.1 0.4 0.2 0.5 0.1 0.5 0.2 0.4 0.1 0.4 0.1 0.5 0.2 0.4 0.1 0.4 0.2 0.4 0.1 0.4 0.1 0.4 0.2 0.4 0.1 0.4 0.2 0.3 0.1 0.3 0.2 0.2 0.1 0.2 0.1 0.1 0.2 0 0.1 0 0.2 -0.2 0.1 -0.2 0.1 -0.4 0.2 -0.5 0.1 -0.6 0.2 -0.8 0.1 -0.9 0.1 -0.9 0.2 -1.1 0.1 -1.3 0.2 -1.3 0.1 -1.4 0.2 -1.4 0.1 -1.6 0.1 -1.5 0.2 -1.7 0.1 -1.6 0.2 -1.6 0.1 -1.5 0.1 -1.5 0.2 -1.5 0.1 -1.4 0.2 -1.2 0.1 -1.2 0.1 -1 0.2 -0.8 0.1 -0.8 0.2 -0.5 0.1 -0.4 0.1 -0.2 0.2 -0.1 0.1 0.1 0.2 0.3 0.1 0.4 0.2 0.5 0.1 0.7 0.1 0.8 0.2 0.9 0.1 1 0.2 1 0.1 1.1 0.1 1.2 0.2 1.1 0.1 1.2 0.2 1.2 0.1 1.2 0.1 1.1 0.2 1.1 0.1 1 0.2 1 0.1 1 0.2 0.9 0.1 0.8 0.1 0.8 0.2 0.7 0.1 0.6 0.2 0.6 0.1 0.6 0.1 0.5 0.2 0.5 0.1 0.4 0.2 0.4 0.1 0.5 0.1 0.4 0.2 0.3 0.1 0.4 0.2 0.4 0.1 0.4 0.1 0.4 0.2 0.4 0.1 0.3 0.2 0.4 0.1 0.3 0.2 0.3 0.1 0.3 0.1 0.2 0.2 0.1 0.1 0.1 0.2 0.1 0.1 -0.1 0.1 -0.2 0.2 -0.2 0.1 -0.4 0.2 -0.4 0.1 -0.6 0.1 -0.7 0.2 -0.8 0.1 -0.9 0.2 -1 0.1 -1.1 0.2 -1.2 0.1 -1.3 0.1 -1.3 0.2 -1.4 0.1 -1.5 0.2 -1.5 0.1 -1.4 0.1 -1.5 0.2 -1.4 0.1 -1.4 0.2 -1.3 0.1 -1.3 0.1 -1.1 0.2 -1.1 0.1 -0.9 0.2 -0.8 0.1 -0.6 0.1 -0.5 0.2 -0.4 0.1 -0.2 0.2 0 0.1 0.1 0.2 0.2 0.1 0.4 0.1 0.5 0.2 0.6 0.1 0.8 0.2 0.8 0.1 0.9 0.1 0.9 0.2 1.1 0.1 1 0.2 1.1 0.1 1.1 0.1 1.1 0.2 1 0.1 1.1 0.2 1 0.1 0.9 0.2 0.9 0.1 0.9 0.1 0.8 0.2 0.7 0.1 0.7 0.2 0.7 0.1 0.6 0.1 0.5 0.2 0.5 0.1 0.5 0.2 0.4 0.1 0.4 0.1 0.4 0.2 0.4 0.1 0.4 0.2 0.4 0.1 0.3 0.1 0.4 0.2 0.3 0.1 0.4 0.2 0.3 0.1 0.3 0.2 0.4 0.1 0.3 0.1 0.2 0.2 0.3 0.1 0.2 0.2 0.1 0.1 0.1 0.1 0 0.2 0 0.1 -0.2 0.2 -0.2 0.1 -0.3 0.1 -0.5 0.2 -0.5 0.1 -0.6 0.2 -0.8 0.1 -0.8 0.2 -0.9 0.1 -1.1 0.1 -1.1 0.2 -1.2 0.1 -1.2 0.2 -1.3 0.1 -1.3 0.1 -1.4 0.2 -1.3 0.1 -1.4 0.2 -1.3 0.1 -1.2 0.1 -1.3 0.2 -1.1 0.1 -1 0.2 -1 0.1 -0.8 0.1 -0.8 0.2 -0.5 0.1 -0.5 0.2 -0.3 0.1 -0.2 0.2 0 0.1 0.1 0.1 0.2 0.2 0.3 0.1 0.5 0.2 0.6 0.1 0.7 0.1 0.7 0.2 0.9 0.1 0.9 0.2 0.9 0.1 1 0.1 0.9 0.2 1 0.1 1 0.2 1 0.1 1 0.2 0.9 0.1 0.9 0.1 0.8 0.2 0.8 0.1 0.7 0.2 0.7 0.1 0.6 0.1 0.6 0.2 0.6 0.1 0.5 0.2 0.4 0.1 0.5 0.1 0.4 0.2 0.4 0.1 0.3 0.2 0.4 0.1 0.3 0.1 0.3 0.2 0.4 0.1 0.3 0.2 0.3 0.1 0.3 0.2 0.3 0.1 0.4 0.1 0.2 0.2 0.3 0.1 0.3 0.2 0.2 0.1 0.2 0.1 0.1 0.2 0.1 0.1 0 0.2 -0.1 0.1 -0.1 0.1 -0.2 0.2 -0.3 0.1 -0.4 0.2 -0.5 0.1 -0.6 0.2 -0.7 0.1 -0.8 0.1 -0.8 0.2 -1 0.1 -1 0.2 -1.1 0.1 -1.1 0.1 -1.2 0.2 -1.2 0.1 -1.3 0.2 -1.2 0.1 -1.3 0.1 -1.2 0.2 -1.1 0.1 -1.2 0.2 -1 0.1 -1 0.1 -0.8 0.2 -0.8 0.1 -0.7 0.2 -0.5 0.1 -0.4 0.2 -0.3 0.1 -0.2 0.1 0 0.2 0.1 0.1 0.2 0.2 0.4 0.1 0.4 0.1 0.5 0.2 0.7 0.1 0.7 0.2 0.7 0.1 0.8 0.1 0.9 0.2 0.9 0.1 0.9 0.2 0.9 0.1 0.9 0.2 0.9 0.1 0.9 0.1 0.9 0.2 0.8 0.1 0.7 0.2 0.8 0.1 0.7 0.1 0.6 0.2 0.6 0.1 0.5 0.2 0.5 0.1 0.5 0.1 0.4 0.2 0.4 0.1 0.4 0.2 0.3 0.1 0.3 0.1 0.4 0.2 0.3 0.1 0.3 0.2 0.3 0.1 0.3 0.2 0.3 0.1 0.3 0.1 0.3 0.2 0.3 0.1 0.2 0.2 0.3 0.1 0.2 0.1 0.2 0.2 0.2 0.1 0.1 0.2 0.1 0.1 0 0.1 -0.1 0.2 -0.1 0.1 -0.2 0.2 -0.3 0.1 -0.4 0.2 -0.4 0.1 -0.6 0.1 -0.6 0.2 -0.7 0.1 -0.8 0.2 -0.9 0.1 -1 0.1 -1 0.2 -1 0.1 -1.1 0.2 -1.2 0.1 -1.1 0.1 -1.2 0.2 -1.1 0.1 -1.1 0.2 -1.1 0.1 -1 0.1 -1 0.2 -0.9 0.1 -0.8 0.2 -0.7 0.1 -0.6 0.2 -0.5 0.1 -0.4 0.1 -0.2 0.2 -0.2 0.1 0 0.2 0.1 0.1 0.2 0.1 0.3 0.2 0.4 0.1 0.5 0.2 0.6 0.1 0.7 0.1 0.7 0.2 0.8 0.1 0.8 0.2 0.8 0.1 0.8 0.2 0.9 0.1 0.8 0.1 0.9 0.2 0.8 0.1 0.7 0.2 0.8 0.1 0.7 0.1 0.7 0.2 0.6 0.1 0.6 0.2 0.5 0.1 0.5 0.1 0.5 0.2 0.4 0.1 0.4 0.2 0.4 0.1 0.3 0.1 0.3 0.2 0.3 0.1 0.3 0.2 0.3 0.1 0.3 0.2 0.3 0.1 0.3 0.1 0.2 0.2 0.3 0.1 0.3 0.2 0.2 0.1 0.3 0.1 0.2 0.2 0.2 0.1 0.2 0.2 0.2 0.1 0.1 0.1 0 0.2 0.1 0.1 -0.1 0.2 -0.1 0.1 -0.2 0.2 -0.3 0.1 -0.3 0.1 -0.5 0.2 -0.5 0.1 -0.6 0.2 -0.6 0.1 -0.8 0.1 -0.8 0.2 -0.9 0.1 -0.9 0.2 -1 0.1 -1 0.1 -1.1 0.2 -1 0.1 -1.1 0.2 -1.1 0.1 -1 0.1 -1 0.2 -0.9 0.1 -0.9 0.2 -0.9 0.1 -0.7 0.2 -0.6 0.1 -0.6 0.1 -0.5 0.2 -0.3 0.1 -0.2 0.2 -0.2 0.1 0 0.1 0.1 0.2 0.2 0.1 0.3 0.2 0.4 0.1 0.5 0.1 0.5 0.2 0.6 0.1 0.7 0.2 0.7 0.1 0.7 0.2 0.8 0.1 0.8 0.1 0.8 0.2 0.7 0.1 0.8 0.2 0.8 0.1 0.7 0.1 0.7 0.2 0.6 0.1 0.7 0.2 0.5 0.1 0.6 0.1 0.5 0.2 0.4 0.1 0.5 0.2 0.4 0.1 0.3 0.1 0.4 0.2 0.3 0.1 0.3 0.2 0.3 0.1 0.2 0.2 0.3 0.1 0.3 0.1 0.2 0.2 0.3 0.1 0.2 0.2 0.3 0.1 0.3 0.1 0.2 0.2 0.2 0.1 0.2 0.2 0.2 0.1 0.2 0.1 0.1 0.2 0.1 0.1 0.1 0.2 0 0.1 0 0.2 -0.2 0.1 -0.1 0.1 -0.3 0.2 -0.3 0.1 -0.4 0.2 -0.5 0.1 -0.6 0.1 -0.6 0.2 -0.7 0.1 -0.7 0.2 -0.9 0.1 -0.8 0.1 -1 0.2 -0.9 0.1 -1 0.2 -1 0.1 -1 0.1 -1 0.2 -0.9 0.1 -0.9 0.2 -0.9 0.1 -0.8 0.2 -0.8 0.1 -0.7 0.1 -0.6 0.2 -0.5 0.1 -0.4 0.2 -0.3 0.1 -0.2 0.1 -0.2 0.2 0 0.1 0.1 0.2 0.2 0.1 0.3 0.1 0.3 0.2 0.5 0.1 0.5 0.2 0.6 0.1 0.6 0.2 0.6 0.1 0.7 0.1 0.8 0.2 0.7 0.1 0.7 0.2 0.7 0.1 0.8 0.1 0.7 0.2 0.6 0.1 0.7 0.2 0.6 0.1 0.6 0.1 0.5 0.2 0.5 0.1 0.5 0.2 0.4 0.1 0.4 0.1 0.3 0.2 0.4 0.1 0.3 0.2 0.3 0.1 0.3 0.2 0.2 0.1 0.3 0.1 0.2 0.2 0.3 0.1 0.2 0.2 0.3 0.1 0.2 0.1 0.2 0.2 0.3 0.1 0.2 0.2 0.2 0.1 0.2 0.1 0.2 0.2 0.2 0.1 0.1 0.2 0.1 0.1 0 0.2 0 0.1 0 0.1 -0.1 0.2 -0.2 0.1 -0.2 0.2 -0.4 0.1 -0.3 0.1 -0.5 0.2 -0.5 0.1 -0.6 0.2 -0.6 0.1 -0.8 0.1 -0.7 0.2 -0.8 0.1 -0.9 0.2 -0.9 0.1 -0.9 0.1 -0.9 0.2 -0.9 0.1 -1 0.2 -0.9 0.1 -0.8 0.2 -0.8 0.1 -0.8 0.1 -0.7 0.2 -0.6 0.1 -0.6 0.2 -0.5 0.1 -0.3 0.1 -0.3 0.2 -0.2 0.1 -0.1 0.2 0 0.1 0 0.1 0.2 0.2 0.3 0.1 0.3 0.2 0.4 0.1 0.5 0.2 0.5 0.1 0.6 0.1 0.6 0.2 0.7 0.1 0.7 0.2 0.6 0.1 0.7 0.1 0.7 0.2 0.7 0.1 0.6 0.2 0.6 0.1 0.6 0.1 0.6 0.2 0.5 0.1 0.5 0.2 0.5 0.1 0.4 0.1 0.4 0.2 0.4 0.1 0.3 0.2 0.4 0.1 0.2 0.2 0.3 0.1 0.3 0.1 0.2 0.2 0.3 0.1 0.2 0.2 0.2 0.1 0.3 0.1 0.2 0.2 0.2 0.1 0.2 0.2 0.2 0.1 0.3 0.1 0.2 0.2 0.1 0.1 0.2 0.2 0.2 0.1 0.1 0.2 0.1 0.1 0 0.1 0 0.2 0 0.1 -0.2 0.2 -0.1 0.1 -0.2 0.1 -0.3 0.2 -0.4 0.1 -0.4 0.2 -0.5 0.1 -0.6 0.1 -0.6 0.2 -0.6 0.1 -0.8 0.2 -0.7 0.1 -0.8 0.1 -0.9 0.2 -0.8 0.1 -0.9 0.2 -0.8 0.1 -0.9 0.2 -0.8 0.1 -0.8 0.1 -0.8 0.2 -0.7 0.1 -0.7 0.2 -0.5 0.1 -0.6" stroke="#ff0000" stroke-width="2.1" stroke-dasharray="6.4 6.1"/>
</g>
<clipPath id="cc"><rect x="292.4" y="20.9" width="225.20000000000005" height="225.29999999999998"/></clipPath>
<g clip-path="url(#cc)" fill="none" stroke-linejoin="round">
<path d="M292.4 35.6l0.1 -5 0.2 -4.4 0.1 -3.7 0.2 -3 0.1 -2.3 0.1 -1.5 0.2 -0.8 0.1 -0.1 0.2 0.7 0.1 1.4 0.1 2.1 0.2 2.8 0.1 3.4 0.2 4.2 0.1 4.7 0.2 5.3 0.1 5.9 0.1 6.4 0.2 6.9 0.1 7.3 0.2 7.7 0.1 8 0.1 8.3 0.2 8.5 0.1 8.7 0.2 8.8 0.1 8.9 0.1 8.9 0.2 8.9 0.1 8.7 0.2 8.6 0.1 8.4 0.1 8.2 0.2 7.8 0.1 7.5 0.2 7.1 0.1 6.6 0.2 6.2 0.1 5.7 0.1 5.1 0.2 4.6 0.1 3.9 0.2 3.4 0.1 2.7 0.1 2 0.2 1.4 0.1 0.8 0.2 0 0.1 -0.6 0.1 -1.2 0.2 -2 0.1 -2.5 0.2 -3.2 0.1 -3.7 0.1 -4.3 0.2 -4.9 0.1 -5.3 0.2 -5.8 0.1 -6.3 0.2 -6.6 0.1 -7 0.1 -7.3 0.2 -7.5 0.1 -7.8 0.2 -7.9 0.1 -8 0.1 -8.1 0.2 -8.1 0.1 -8 0.2 -8 0.1 -7.8 0.1 -7.7 0.2 -7.4 0.1 -7.1 0.2 -6.9 0.1 -6.4 0.1 -6.1 0.2 -5.6 0.1 -5.2 0.2 -4.6 0.1 -4.2 0.1 -3.6 0.2 -3 0.1 -2.5 0.2 -1.9 0.1 -1.2 0.2 -0.7 0.1 0 0.1 0.5 0.2 1.2 0.1 1.7 0.2 2.4 0.1 2.8 0.1 3.5 0.2 3.9 0.1 4.4 0.2 4.9 0.1 5.3 0.1 5.7 0.2 6.1 0.1 6.4 0.2 6.6 0.1 6.9 0.1 7.1 0.2 7.2 0.1 7.4 0.2 7.4 0.1 7.3 0.2 7.4 0.1 7.3 0.1 7.1 0.2 7 0.1 6.8 0.2 6.5 0.1 6.3 0.1 5.9 0.2 5.5 0.1 5.1 0.2 4.8 0.1 4.2 0.1 3.8 0.2 3.3 0.1 2.8 0.2 2.2 0.1 1.7 0.1 1.2 0.2 0.6 0.1 0 0.2 -0.5 0.1 -1.1 0.1 -1.6 0.2 -2.1 0.1 -2.6 0.2 -3.2 0.1 -3.6 0.2 -4 0.1 -4.5 0.1 -4.9 0.2 -5.2 0.1 -5.6 0.2 -5.8 0.1 -6.1 0.1 -6.4 0.2 -6.5 0.1 -6.6 0.2 -6.7 0.1 -6.8 0.1 -6.8 0.2 -6.7 0.1 -6.7 0.2 -6.6 0.1 -6.4 0.1 -6.2 0.2 -6 0.1 -5.7 0.2 -5.4 0.1 -5.1 0.2 -4.7 0.1 -4.3 0.1 -4 0.2 -3.4 0.1 -3.1 0.2 -2.5 0.1 -2.1 0.1 -1.5 0.2 -1.1 0.1 -0.5 0.2 0 0.1 0.4 0.1 1 0.2 1.5 0.1 2 0.2 2.4 0.1 2.9 0.1 3.3 0.2 3.8 0.1 4.1 0.2 4.5 0.1 4.8 0.2 5.1 0.1 5.4 0.1 5.6 0.2 5.8 0.1 6 0.2 6.1 0.1 6.2 0.1 6.2 0.2 6.3 0.1 6.2 0.2 6.1 0.1 6.1 0.1 5.9 0.2 5.7 0.1 5.5 0.2 5.3 0.1 5 0.1 4.6 0.2 4.4 0.1 4 0.2 3.6 0.1 3.2 0.1 2.8 0.2 2.3 0.1 1.9 0.2 1.4 0.1 1 0.2 0.5 0.1 0 0.1 -0.4 0.2 -1 0.1 -1.3 0.2 -1.8 0.1 -2.3 0.1 -2.7 0.2 -3 0.1 -3.5 0.2 -3.8 0.1 -4.2 0.1 -4.4 0.2 -4.7 0.1 -5 0.2 -5.2 0.1 -5.4 0.1 -5.5 0.2 -5.6 0.1 -5.7 0.2 -5.8 0.1 -5.8 0.2 -5.7 0.1 -5.7 0.1 -5.6 0.2 -5.4 0.1 -5.3 0.2 -5.1 0.1 -4.9 0.1 -4.6 0.2 -4.3 0.1 -4 0.2 -3.7 0.1 -3.3 0.1 -2.9 0.2 -2.6 0.1 -2.2 0.2 -1.7 0.1 -1.3 0.1 -0.9 0.2 -0.5 0.1 0 0.2 0.4 0.1 0.9 0.2 1.3 0.1 1.6 0.1 2.1 0.2 2.5 0.1 2.9 0.2 3.2 0.1 3.5 0.1 3.8 0.2 4.2 0.1 4.3 0.2 4.6 0.1 4.9 0.1 4.9 0.2 5.1 0.1 5.3 0.2 5.3 0.1 5.3 0.1 5.3 0.2 5.4 0.1 5.2 0.2 5.2 0.1 5 0.1 4.9 0.2 4.7 0.1 4.5 0.2 4.3 0.1 4 0.2 3.7 0.1 3.4 0.1 3.1 0.2 2.8 0.1 2.3 0.2 2 0.1 1.6 0.1 1.3 0.2 0.8 0.1 0.4 0.2 0 0.1 -0.4 0.1 -0.8 0.2 -1.2 0.1 -1.6 0.2 -1.9 0.1 -2.3 0.1 -2.7 0.2 -2.9 0.1 -3.3 0.2 -3.6 0.1 -3.8 0.2 -4.1 0.1 -4.3 0.1 -4.4 0.2 -4.7 0.1 -4.7 0.2 -4.9 0.1 -4.9 0.1 -4.9 0.2 -5 0.1 -4.9 0.2 -4.9 0.1 -4.8 0.1 -4.7 0.2 -4.6 0.1 -4.3 0.2 -4.2 0.1 -4 0.1 -3.7 0.2 -3.5 0.1 -3.1 0.2 -2.9 0.1 -2.5 0.1 -2.2 0.2 -1.9 0.1 -1.5 0.2 -1.1 0.1 -0.7 0.2 -0.4 0.1 0 0.1 0.3 0.2 0.8 0.1 1.1 0.2 1.5 0.1 1.8 0.1 2.1 0.2 2.5 0.1 2.8 0.2 3 0.1 3.4 0.1 3.5 0.2 3.8 0.1 4 0.2 4.2 0.1 4.3 0.1 4.4 0.2 4.5 0.1 4.6 0.2 4.6 0.1 4.7 0.2 4.6 0.1 4.5 0.1 4.5 0.2 4.3 0.1 4.3 0.2 4.1 0.1 3.9 0.1 3.6 0.2 3.5 0.1 3.2 0.2 3 0.1 2.6 0.1 2.4 0.2 2 0.1 1.8 0.2 1.3 0.1 1.1 0.1 0.7 0.2 0.3 0.1 0 0.2 -0.3 0.1 -0.7 0.2 -1.1 0.1 -1.3 0.1 -1.7 0.2 -2 0.1 -2.4 0.2 -2.5 0.1 -2.9 0.1 -3.1 0.2 -3.3 0.1 -3.6 0.2 -3.7 0.1 -3.9 0.1 -4 0.2 -4.2 0.1 -4.2 0.2 -4.3 0.1 -4.3 0.1 -4.3 0.2 -4.3 0.1 -4.2 0.2 -4.2 0.1 -4.1 0.1 -3.9 0.2 -3.9 0.1 -3.6 0.2 -3.4 0.1 -3.3 0.2 -3 0.1 -2.7 0.1 -2.5 0.2 -2.2 0.1 -1.9 0.2 -1.6 0.1 -1.3 0.1 -1 0.2 -0.6 0.1 -0.3 0.2 0 0.1 0.3 0.1 0.7 0.2 0.9 0.1 1.3 0.2 1.6 0.1 1.9 0.1 2.2 0.2 2.4 0.1 2.7 0.2 2.9 0.1 3.1 0.2 3.3 0.1 3.5 0.1 3.7 0.2 3.7 0.1 3.9 0.2 3.9 0.1 4.1 0.1 4 0.2 4 0.1 4.1 0.2 3.9 0.1 3.9 0.1 3.8 0.2 3.7 0.1 3.6 0.2 3.4 0.1 3.2 0.1 3 0.2 2.9 0.1 2.5 0.2 2.3 0.1 2.1 0.2 1.8 0.1 1.5 0.1 1.2 0.2 0.9 0.1 0.6 0.2 0.3 0.1 0 0.1 -0.3 0.2 -0.7 0.1 -0.9 0.2 -1.2 0.1 -1.5 0.1 -1.8 0.2 -2 0.1 -2.3 0.2 -2.5 0.1 -2.7 0.1 -3 0.2 -3.1 0.1 -3.2 0.2 -3.5 0.1 -3.5 0.1 -3.6 0.2 -3.7 0.1 -3.8 0.2 -3.8 0.1 -3.8 0.2 -3.7 0.1 -3.8 0.1 -3.6 0.2 -3.6 0.1 -3.5 0.2 -3.3 0.1 -3.2 0.1 -3 0.2 -2.8 0.1 -2.7 0.2 -2.4 0.1 -2.1 0.1 -2 0.2 -1.6 0.1 -1.4 0.2 -1.2 0.1 -0.8 0.1 -0.6 0.2 -0.2 0.1 0 0.2 0.3 0.1 0.6 0.2 0.8 0.1 1.2 0.1 1.4 0.2 1.7 0.1 1.9 0.2 2.1 0.1 2.4 0.1 2.5 0.2 2.8 0.1 2.9 0.2 3.1 0.1 3.2 0.1 3.3 0.2 3.4 0.1 3.5 0.2 3.6 0.1 3.5 0.1 3.6 0.2 3.5 0.1 3.5 0.2 3.5 0.1 3.3 0.1 3.3 0.2 3.1 0.1 3 0.2 2.9 0.1 2.6 0.2 2.5 0.1 2.2 0.1 2.1 0.2 1.8 0.1 1.5 0.2 1.4 0.1 1 0.1 0.8 0.2 0.5 0.1 0.3 0.2 0 0.1 -0.3 0.1 -0.6 0.2 -0.8 0.1 -1.1 0.2 -1.3 0.1 -1.6 0.1 -1.8 0.2 -2 0.1 -2.3 0.2 -2.4 0.1 -2.6 0.2 -2.7 0.1 -2.9 0.1 -3 0.2 -3.2 0.1 -3.2 0.2 -3.3 0.1 -3.3 0.1 -3.3 0.2 -3.4 0.1 -3.3 0.2 -3.3 0.1 -3.3 0.1 -3.1 0.2 -3.1 0.1 -2.9 0.2 -2.9 0.1 -2.6 0.1 -2.5 0.2 -2.4 0.1 -2.1 0.2 -1.9 0.1 -1.7 0.2 -1.5 0.1 -1.2 0.1 -1 0.2 -0.7 0.1 -0.5 0.2 -0.2 0.1 0 0.1 0.3 0.2 0.5 0.1 0.8 0.2 1 0.1 1.2 0.1 1.5 0.2 1.7 0.1 1.9 0.2 2.1 0.1 2.3 0.1 2.5 0.2 2.6 0.1 2.7 0.2 2.9 0.1 2.9 0.1 3.1 0.2 3.1 0.1 3.1 0.2 3.1 0.1 3.2 0.2 3.2 0.1 3.1 0.1 3 0.2 3 0.1 2.9 0.2 2.8 0.1 2.6 0.1 2.5 0.2 2.4 0.1 2.2 0.2 2 0.1 1.8 0.1 1.6 0.2 1.4 0.1 1.1 0.2 1 0.1 0.7 0.1 0.4 0.2 0.2 0.1 0 0.2 -0.3 0.1 -0.5 0.2 -0.7 0.1 -1 0.1 -1.2 0.2 -1.4 0.1 -1.6 0.2 -1.8 0.1 -2 0.1 -2.1 0.2 -2.4 0.1 -2.4 0.2 -2.6 0.1 -2.7 0.1 -2.8 0.2 -2.9 0.1 -2.9 0.2 -3 0.1 -2.9 0.1 -3 0.2 -3 0.1 -2.9 0.2 -2.9 0.1 -2.8 0.2 -2.8 0.1 -2.6 0.1 -2.5 0.2 -2.4 0.1 -2.2 0.2 -2.1 0.1 -1.8 0.1 -1.7 0.2 -1.6 0.1 -1.3 0.2 -1.1 0.1 -0.8 0.1 -0.7 0.2 -0.4 0.1 -0.2 0.2 0 0.1 0.3 0.1 0.5 0.2 0.7 0.1 0.9 0.2 1.1 0.1 1.4 0.1 1.5 0.2 1.7 0.1 1.9 0.2 2 0.1 2.2 0.2 2.4 0.1 2.4 0.1 2.6 0.2 2.6 0.1 2.7 0.2 2.8 0.1 2.8 0.1 2.8 0.2 2.8 0.1 2.8 0.2 2.8 0.1 2.7 0.1 2.7 0.2 2.6 0.1 2.5 0.2 2.3 0.1 2.3 0.1 2.1 0.2 1.9 0.1 1.8 0.2 1.6 0.1 1.5 0.2 1.2 0.1 1 0.1 0.8 0.2 0.7 0.1 0.4 0.2 0.1 0.1 0 0.1 -0.2 0.2 -0.5 0.1 -0.7 0.2 -0.8 0.1 -1.1 0.1 -1.3 0.2 -1.4 0.1 -1.7 0.2 -1.8 0.1 -1.9 0.1 -2.1 0.2 -2.2 0.1 -2.3 0.2 -2.4 0.1 -2.5 0.1 -2.6 0.2 -2.6 0.1 -2.7 0.2 -2.7 0.1 -2.6 0.2 -2.7 0.1 -2.6 0.1 -2.6 0.2 -2.5 0.1 -2.5 0.2 -2.3 0.1 -2.3 0.1 -2.1 0.2 -2 0.1 -1.8 0.2 -1.7 0.1 -1.6 0.1 -1.3 0.2 -1.2 0.1 -0.9 0.2 -0.8 0.1 -0.6 0.1 -0.4 0.2 -0.1 0.1 0 0.2 0.2 0.1 0.5 0.2 0.6 0.1 0.8 0.1 1.1 0.2 1.2 0.1 1.4 0.2 1.5 0.1 1.7 0.1 1.9 0.2 1.9 0.1 2.1 0.2 2.2 0.1 2.3 0.1 2.4 0.2 2.4 0.1 2.5 0.2 2.6 0.1 2.5 0.1 2.5 0.2 2.6 0.1 2.5 0.2 2.4 0.1 2.4 0.2 2.3 0.1 2.3 0.1 2.1 0.2 2 0.1 1.9 0.2 1.7 0.1 1.6 0.1 1.5 0.2 1.3 0.1 1.1 0.2 0.9 0.1 0.7 0.1 0.6 0.2 0.3 0.1 0.2 0.2 -0.1 0.1 -0.2 0.1 -0.4 0.2 -0.6 0.1 -0.8 0.2 -1 0.1 -1.2 0.1 -1.3 0.2 -1.4 0.1 -1.7 0.2 -1.7 0.1 -1.9 0.2 -2 0.1 -2.1 0.1 -2.2 0.2 -2.2 0.1 -2.3 0.2 -2.4 0.1 -2.4 0.1 -2.4 0.2 -2.4 0.1 -2.4 0.2 -2.4 0.1 -2.3 0.1 -2.3 0.2 -2.2 0.1 -2.1 0.2 -2.1 0.1 -1.9 0.1 -1.8 0.2 -1.6 0.1 -1.5 0.2 -1.4 0.1 -1.2 0.2 -1.1 0.1 -0.8 0.1 -0.7 0.2 -0.5 0.1 -0.4 0.2 -0.1 0.1 0 0.1 0.2 0.2 0.4 0.1 0.6 0.2 0.8 0.1 0.9 0.1 1.1 0.2 1.3 0.1 1.4 0.2 1.5 0.1 1.7 0.1 1.8 0.2 1.9 0.1 2 0.2 2.1 0.1 2.1 0.2 2.2 0.1 2.3 0.1 2.2 0.2 2.3 0.1 2.3 0.2 2.3 0.1 2.3 0.1 2.2 0.2 2.2 0.1 2.1 0.2 2 0.1 1.9 0.1 1.8 0.2 1.7 0.1 1.6 0.2 1.4 0.1 1.3 0.1 1.2 0.2 1 0.1 0.8 0.2 0.6 0.1 0.5 0.1 0.3 0.2 0.2 0.1 -0.1 0.2 -0.2 0.1 -0.4 0.2 -0.5 0.1 -0.7 0.1 -0.9 0.2 -1.1 0.1 -1.2 0.2 -1.3 0.1 -1.5 0.1 -1.6 0.2 -1.7 0.1 -1.8 0.2 -1.9 0.1 -2 0.1 -2 0.2 -2.1 0.1 -2.2 0.2 -2.2 0.1 -2.1 0.1 -2.2 0.2 -2.2 0.1 -2.2 0.2 -2.1 0.1 -2 0.2 -2 0.1 -1.9 0.1 -1.9 0.2 -1.7 0.1 -1.6 0.2 -1.5 0.1 -1.4 0.1 -1.2 0.2 -1.1 0.1 -1 0.2 -0.7 0.1 -0.7 0.1 -0.4 0.2 -0.3 0.1 -0.1 0.2 0 0.1 0.2 0.1 0.4 0.2 0.5 0.1 0.7 0.2 0.9 0.1 1 0.2 1.1 0.1 1.3 0.1 1.4 0.2 1.5 0.1 1.6 0.2 1.8 0.1 1.8 0.1 1.9 0.2 1.9 0.1 2 0.2 2.1 0.1 2.1 0.1 2 0.2 2.1 0.1 2.1 0.2 2.1 0.1 2 0.1 1.9 0.2 1.9 0.1 1.9 0.2 1.7 0.1 1.7 0.1 1.5 0.2 1.4 0.1 1.3 0.2 1.2 0.1 1 0.2 0.9 0.1 0.8 0.1 0.6 0.2 0.4 0.1 0.3 0.2 0.1 0.1 0 0.1 -0.2 0.2 -0.4 0.1 -0.5 0.2 -0.7 0.1 -0.8 0.1 -1 0.2 -1.1 0.1 -1.2 0.2 -1.3 0.1 -1.5 0.1 -1.5 0.2 -1.7 0.1 -1.7 0.2 -1.8 0.1 -1.9 0.2 -1.9 0.1 -2 0.1 -1.9 0.2 -2 0.1 -2 0.2 -2 0.1 -2 0.1 -1.9 0.2 -1.9 0.1 -1.8 0.2 -1.7 0.1 -1.7 0.1 -1.6 0.2 -1.4 0.1 -1.4 0.2 -1.2 0.1 -1.1 0.1 -1 0.2 -0.9 0.1 -0.7 0.2 -0.6 0.1 -0.4 0.1 -0.2 0.2 -0.1 0.1 0 0.2 0.2 0.1 0.3 0.2 0.5 0.1 0.7 0.1 0.8 0.2 0.9 0.1 1 0.2 1.2 0.1 1.3 0.1 1.4 0.2 1.5 0.1 1.6 0.2 1.6 0.1 1.7 0.1 1.8 0.2 1.9 0.1 1.8 0.2 1.9 0.1 1.9 0.1 1.9 0.2 1.9 0.1 1.9 0.2 1.8 0.1 1.8 0.2 1.7 0.1 1.7 0.1 1.6 0.2 1.5 0.1 1.4 0.2 1.3 0.1 1.2 0.1 1.1 0.2 0.9 0.1 0.8 0.2 0.7 0.1 0.5 0.1 0.4 0.2 0.3 0.1 0.1 0.2 -0.1 0.1 -0.2 0.1 -0.3 0.2 -0.5 0.1 -0.6 0.2 -0.8 0.1 -0.8 0.2 -1 0.1 -1.2 0.1 -1.2 0.2 -1.3 0.1 -1.5 0.2 -1.5 0.1 -1.6 0.1 -1.6 0.2 -1.7 0.1 -1.8 0.2 -1.8 0.1 -1.8 0.1 -1.8 0.2 -1.8 0.1 -1.8 0.2 -1.8 0.1 -1.8 0.1 -1.7 0.2 -1.6 0.1 -1.6 0.2 -1.5 0.1 -1.5 0.1 -1.3 0.2 -1.3 0.1 -1.1 0.2 -1 0.1 -0.9 0.2 -0.8 0.1 -0.6 0.1 -0.5 0.2 -0.4 0.1 -0.3 0.2 0 0.1 0 0.1 0.2 0.2 0.3 0.1 0.5 0.2 0.6 0.1 0.7 0.1 0.8 0.2 1 0.1 1.1 0.2 1.2 0.1 1.2 0.1 1.4 0.2 1.5 0.1 1.5 0.2 1.6 0.1 1.6 0.2 1.7 0.1 1.7 0.1 1.7 0.2 1.8 0.1 1.7 0.2 1.7 0.1 1.8 0.1 1.6 0.2 1.7 0.1 1.6 0.2 1.5 0.1 1.4 0.1 1.4 0.2 1.3 0.1 1.2 0.2 1.1 0.1 0.9 0.1 0.9 0.2 0.7 0.1 0.6 0.2 0.5 0.1 0.4 0.2 0.2 0.1 0.1 0.1 -0.1 0.2 -0.1 0.1 -0.3 0.2 -0.5 0.1 -0.6 0.1 -0.7 0.2 -0.8 0.1 -0.9 0.2 -1 0.1 -1.2 0.1 -1.2 0.2 -1.3 0.1 -1.4 0.2 -1.5 0.1 -1.5 0.1 -1.5 0.2 -1.7 0.1 -1.6 0.2 -1.7 0.1 -1.6 0.1 -1.7 0.2 -1.7 0.1 -1.6 0.2 -1.6 0.1 -1.6 0.2 -1.5 0.1 -1.5 0.1 -1.4 0.2 -1.3 0.1 -1.2 0.2 -1.1 0.1 -1.1 0.1 -0.9 0.2 -0.8 0.1 -0.7 0.2 -0.6 0.1 -0.5 0.1 -0.3 0.2 -0.2 0.1 -0.1 0.2 0 0.1 0.2 0.1 0.3 0.2 0.5 0.1 0.5 0.2 0.7 0.1 0.8 0.2 0.8 0.1 1 0.1 1.1 0.2 1.2 0.1 1.3 0.2 1.3 0.1 1.4 0.1 1.5 0.2 1.5 0.1 1.5 0.2 1.6 0.1 1.6 0.1 1.6 0.2 1.6 0.1 1.6 0.2 1.6 0.1 1.5 0.1 1.5 0.2 1.5 0.1 1.4 0.2 1.3 0.1 1.3 0.1 1.1 0.2 1.1 0.1 1 0.2 0.9 0.1 0.8 0.2 0.7 0.1 0.5 0.1 0.5 0.2 0.3 0.1 0.2 0.2 0.1 0.1 -0.1 0.1 -0.2 0.2 -0.3 0.1 -0.4 0.2 -0.5 0.1 -0.6 0.1 -0.8 0.2 -0.8 0.1 -1 0.2 -1.1 0.1 -1.1 0.1 -1.2 0.2 -1.3 0.1 -1.3 0.2 -1.4 0.1 -1.5 0.2 -1.5 0.1 -1.5 0.1 -1.5 0.2 -1.6 0.1 -1.5 0.2 -1.5 0.1 -1.5 0.1 -1.5 0.2 -1.5 0.1 -1.4 0.2 -1.3 0.1 -1.3 0.1 -1.2 0.2 -1.1 0.1 -1.1 0.2 -0.9 0.1 -0.9 0.1 -0.7 0.2 -0.7 0.1 -0.5 0.2 -0.4 0.1 -0.3 0.2 -0.2 0.1 -0.1 0.1 0.1 0.2 0.1 0.1 0.3 0.2 0.4 0.1 0.5 0.1 0.7 0.2 0.7 0.1 0.8 0.2 0.9 0.1 1 0.1 1.1 0.2 1.2 0.1 1.2 0.2 1.3 0.1 1.4 0.1 1.4 0.2 1.4 0.1 1.5 0.2 1.4 0.1 1.5 0.1 1.5 0.2 1.5 0.1 1.4 0.2 1.4 0.1 1.4 0.2 1.4 0.1 1.2 0.1 1.3 0.2 1.1 0.1 1.1 0.2 1 0.1 0.9 0.1 0.8 0.2 0.8 0.1 0.6 0.2 0.5 0.1 0.4 0.1 0.3 0.2 0.2 0.1 0 0.2 0 0.1 -0.2 0.1 -0.3 0.2 -0.3 0.1 -0.5 0.2 -0.6 0.1 -0.7 0.2 -0.8 0.1 -0.9 0.1 -1 0.2 -1 0.1 -1.2 0.2 -1.2 0.1 -1.2 0.1 -1.3 0.2 -1.3 0.1 -1.4 0.2 -1.4 0.1 -1.4 0.1 -1.5 0.2 -1.4 0.1 -1.4 0.2 -1.4 0.1 -1.4 0.1 -1.3 0.2 -1.3 0.1 -1.2 0.2 -1.2 0.1 -1.1 0.2 -1 0.1 -1 0.1 -0.9 0.2 -0.8 0.1 -0.7 0.2 -0.5 0.1 -0.5 0.1 -0.4 0.2 -0.3 0.1 -0.2 0.2 0 0.1 0 0.1 0.2 0.2 0.2 0.1 0.4 0.2 0.5 0.1 0.6 0.1 0.7 0.2 0.7 0.1 0.9 0.2 0.9 0.1 1 0.1 1.1 0.2 1.2 0.1 1.2 0.2 1.2 0.1 1.3 0.2 1.3 0.1 1.4 0.1 1.3 0.2 1.4 0.1 1.4 0.2 1.3 0.1 1.4 0.1 1.3 0.2 1.3 0.1 1.2 0.2 1.2 0.1 1.1 0.1 1.1 0.2 1 0.1 0.9 0.2 0.9 0.1 0.7 0.1 0.7 0.2 0.5 0.1 0.5 0.2 0.4 0.1 0.3 0.2 0.1 0.1 0.1 0.1 -0.1 0.2 -0.1 0.1 -0.3 0.2 -0.4 0.1 -0.4 0.1 -0.6 0.2 -0.6 0.1 -0.8 0.2 -0.8 0.1 -0.9 0.1 -1 0.2 -1 0.1 -1.1 0.2 -1.2 0.1 -1.2 0.1 -1.2 0.2 -1.3 0.1 -1.3 0.2 -1.3 0.1 -1.3 0.1 -1.4 0.2 -1.3 0.1 -1.3 0.2 -1.2 0.1 -1.3 0.2 -1.2 0.1 -1.1 0.1 -1.1 0.2 -1 0.1 -1 0.2 -0.9 0.1 -0.8 0.1 -0.7 0.2 -0.6 0.1 -0.6 0.2 -0.4 0.1 -0.4 0.1 -0.2 0.2 -0.2 0.1 0 0.2 0 0.1 0.2 0.1 0.2 0.2 0.4 0.1 0.4 0.2 0.6 0.1 0.6 0.2 0.7 0.1 0.8 0.1 0.9 0.2 0.9 0.1 1 0.2 1.1 0.1 1.1 0.1 1.2 0.2 1.2 0.1 1.2 0.2 1.2 0.1 1.3 0.1 1.3 0.2 1.3 0.1 1.2 0.2 1.3 0.1 1.2 0.1 1.2 0.2 1.1 0.1 1.1 0.2 1.1 0.1 1 0.2 0.9 0.1 0.8 0.1 0.8 0.2 0.7 0.1 0.6 0.2 0.5 0.1 0.5 0.1 0.3 0.2 0.3 0.1 0.1 0.2 0 0.1 0 0.1 -0.2 0.2 -0.2 0.1 -0.3 0.2 -0.5 0.1 -0.5 0.1 -0.6 0.2 -0.7 0.1 -0.8 0.2 -0.8 0.1 -0.9 0.1 -1 0.2 -1 0.1 -1.1 0.2 -1.1 0.1 -1.2 0.2 -1.2 0.1 -1.2 0.1 -1.2 0.2 -1.2 0.1 -1.2 0.2 -1.3 0.1 -1.2 0.1 -1.1 0.2 -1.2 0.1 -1.1 0.2 -1.1 0.1 -1 0.1 -0.9 0.2 -0.9 0.1 -0.8 0.2 -0.8 0.1 -0.6 0.1 -0.6 0.2 -0.5 0.1 -0.5 0.2 -0.3 0.1 -0.2 0.2 -0.1 0.1 -0.1 0.1 0.1 0.2 0.1 0.1 0.2 0.2 0.4 0.1 0.4 0.1 0.5 0.2 0.6 0.1 0.7 0.2 0.7 0.1 0.8 0.1 0.9 0.2 0.9 0.1 1 0.2 1.1 0.1 1.1 0.1 1.1 0.2 1.1 0.1 1.2 0.2 1.2 0.1 1.2 0.2 1.1 0.1 1.2 0.1 1.2 0.2 1.1 0.1 1.1 0.2 1.1 0.1 1 0.1 1 0.2 0.9 0.1 0.8 0.2 0.8 0.1 0.8 0.1 0.6 0.2 0.6 0.1 0.5 0.2 0.4 0.1 0.3 0.1 0.2 0.2 0.1 0.1 0.1 0.2 -0.1 0.1 -0.1 0.1 -0.3 0.2 -0.3 0.1 -0.4 0.2 -0.5 0.1 -0.6 0.2 -0.6 0.1 -0.7 0.1 -0.8 0.2 -0.9 0.1 -0.9 0.2 -0.9 0.1 -1 0.1 -1.1 0.2 -1.1 0.1 -1.1 0.2 -1.1 0.1 -1.1 0.1 -1.2 0.2 -1.1 0.1 -1.2 0.2 -1.1 0.1 -1.1 0.1 -1 0.2 -1.1 0.1 -1 0.2 -0.9 0.1 -0.9 0.2 -0.8 0.1 -0.8 0.1 -0.7 0.2 -0.6 0.1 -0.5 0.2 -0.5 0.1 -0.4 0.1 -0.3 0.2 -0.2 0.1 -0.1 0.2 -0.1 0.1 0.1 0.1 0.1 0.2 0.3 0.1 0.3 0.2 0.4 0.1 0.5 0.1 0.5 0.2 0.6 0.1 0.7 0.2 0.8 0.1 0.8 0.1 0.9 0.2 0.9 0.1 1 0.2 1 0.1 1.1 0.2 1 0.1 1.1 0.1 1.1 0.2 1.1 0.1 1.1 0.2 1.1 0.1 1.1 0.1 1 0.2 1.1 0.1 1 0.2 0.9 0.1 0.9 0.1 0.9 0.2 0.8 0.1 0.7 0.2 0.7 0.1 0.6 0.1 0.5 0.2 0.5 0.1 0.3 0.2 0.3 0.1 0.2 0.2 0.1 0.1 0.1 0.1 -0.1 0.2 -0.1 0.1 -0.2 0.2 -0.3 0.1 -0.4 0.1 -0.5 0.2 -0.5 0.1 -0.6 0.2 -0.7 0.1 -0.7 0.1 -0.8 0.2 -0.9 0.1 -0.9 0.2 -0.9 0.1 -1 0.1 -1 0.2 -1.1 0.1 -1 0.2 -1.1 0.1 -1 0.2 -1.1 0.1 -1.1 0.1 -1 0.2 -1 0.1 -1 0.2 -1 0.1 -0.9 0.1 -0.9 0.2 -0.8 0.1 -0.8 0.2 -0.7 0.1 -0.6" stroke="#000" stroke-width="2.1"/>
<path d="M292.4 35.6l0.1 -5 0.2 -4.4 0.1 -3.7 0.2 -3 0.1 -2.3 0.1 -1.5 0.2 -0.8 0.1 -0.1 0.2 0.7 0.1 1.4 0.1 2.1 0.2 2.8 0.1 3.4 0.2 4.2 0.1 4.7 0.2 5.3 0.1 5.9 0.1 6.4 0.2 6.9 0.1 7.3 0.2 7.7 0.1 8 0.1 8.3 0.2 8.5 0.1 8.7 0.2 8.8 0.1 8.9 0.1 8.9 0.2 8.9 0.1 8.7 0.2 8.6 0.1 8.4 0.1 8.2 0.2 7.8 0.1 7.5 0.2 7.1 0.1 6.6 0.2 6.2 0.1 5.7 0.1 5.1 0.2 4.6 0.1 3.9 0.2 3.4 0.1 2.7 0.1 2 0.2 1.4 0.1 0.8 0.2 0 0.1 -0.6 0.1 -1.2 0.2 -2 0.1 -2.5 0.2 -3.2 0.1 -3.7 0.1 -4.3 0.2 -4.9 0.1 -5.3 0.2 -5.8 0.1 -6.3 0.2 -6.6 0.1 -7 0.1 -7.3 0.2 -7.5 0.1 -7.8 0.2 -7.9 0.1 -8 0.1 -8.1 0.2 -8.1 0.1 -8 0.2 -8 0.1 -7.8 0.1 -7.7 0.2 -7.4 0.1 -7.1 0.2 -6.9 0.1 -6.4 0.1 -6.1 0.2 -5.6 0.1 -5.2 0.2 -4.6 0.1 -4.2 0.1 -3.6 0.2 -3 0.1 -2.5 0.2 -1.9 0.1 -1.2 0.2 -0.7 0.1 0 0.1 0.5 0.2 1.2 0.1 1.7 0.2 2.4 0.1 2.8 0.1 3.5 0.2 3.9 0.1 4.4 0.2 4.9 0.1 5.3 0.1 5.7 0.2 6.1 0.1 6.4 0.2 6.6 0.1 6.9 0.1 7.1 0.2 7.2 0.1 7.4 0.2 7.4 0.1 7.3 0.2 7.4 0.1 7.3 0.1 7.1 0.2 7 0.1 6.8 0.2 6.5 0.1 6.3 0.1 5.9 0.2 5.5 0.1 5.1 0.2 4.8 0.1 4.2 0.1 3.8 0.2 3.3 0.1 2.8 0.2 2.2 0.1 1.7 0.1 1.2 0.2 0.6 0.1 0 0.2 -0.5 0.1 -1.1 0.1 -1.6 0.2 -2.1 0.1 -2.6 0.2 -3.2 0.1 -3.6 0.2 -4 0.1 -4.5 0.1 -4.9 0.2 -5.2 0.1 -5.6 0.2 -5.8 0.1 -6.1 0.1 -6.4 0.2 -6.5 0.1 -6.6 0.2 -6.7 0.1 -6.8 0.1 -6.8 0.2 -6.7 0.1 -6.7 0.2 -6.6 0.1 -6.4 0.1 -6.2 0.2 -6 0.1 -5.7 0.2 -5.4 0.1 -5.1 0.2 -4.7 0.1 -4.3 0.1 -4 0.2 -3.4 0.1 -3.1 0.2 -2.5 0.1 -2.1 0.1 -1.5 0.2 -1.1 0.1 -0.5 0.2 0 0.1 0.4 0.1 1 0.2 1.5 0.1 2 0.2 2.4 0.1 2.9 0.1 3.3 0.2 3.8 0.1 4.1 0.2 4.5 0.1 4.8 0.2 5.1 0.1 5.4 0.1 5.6 0.2 5.8 0.1 6 0.2 6.1 0.1 6.2 0.1 6.2 0.2 6.3 0.1 6.2 0.2 6.1 0.1 6.1 0.1 5.9 0.2 5.7 0.1 5.5 0.2 5.3 0.1 5 0.1 4.6 0.2 4.4 0.1 4 0.2 3.6 0.1 3.2 0.1 2.8 0.2 2.3 0.1 1.9 0.2 1.4 0.1 1 0.2 0.5 0.1 0 0.1 -0.4 0.2 -1 0.1 -1.3 0.2 -1.8 0.1 -2.3 0.1 -2.7 0.2 -3 0.1 -3.5 0.2 -3.8 0.1 -4.2 0.1 -4.4 0.2 -4.7 0.1 -5 0.2 -5.2 0.1 -5.4 0.1 -5.5 0.2 -5.6 0.1 -5.7 0.2 -5.8 0.1 -5.8 0.2 -5.7 0.1 -5.7 0.1 -5.6 0.2 -5.4 0.1 -5.3 0.2 -5.1 0.1 -4.9 0.1 -4.6 0.2 -4.3 0.1 -4 0.2 -3.7 0.1 -3.3 0.1 -2.9 0.2 -2.6 0.1 -2.2 0.2 -1.7 0.1 -1.3 0.1 -0.9 0.2 -0.5 0.1 0 0.2 0.4 0.1 0.9 0.2 1.3 0.1 1.6 0.1 2.1 0.2 2.5 0.1 2.9 0.2 3.2 0.1 3.5 0.1 3.8 0.2 4.2 0.1 4.3 0.2 4.6 0.1 4.9 0.1 4.9 0.2 5.1 0.1 5.3 0.2 5.3 0.1 5.3 0.1 5.3 0.2 5.4 0.1 5.2 0.2 5.2 0.1 5 0.1 4.9 0.2 4.7 0.1 4.5 0.2 4.3 0.1 4 0.2 3.7 0.1 3.4 0.1 3.1 0.2 2.8 0.1 2.3 0.2 2 0.1 1.6 0.1 1.3 0.2 0.8 0.1 0.4 0.2 0 0.1 -0.4 0.1 -0.8 0.2 -1.2 0.1 -1.6 0.2 -1.9 0.1 -2.3 0.1 -2.7 0.2 -2.9 0.1 -3.3 0.2 -3.6 0.1 -3.8 0.2 -4.1 0.1 -4.3 0.1 -4.4 0.2 -4.7 0.1 -4.7 0.2 -4.9 0.1 -4.9 0.1 -4.9 0.2 -5 0.1 -4.9 0.2 -4.9 0.1 -4.8 0.1 -4.7 0.2 -4.6 0.1 -4.3 0.2 -4.2 0.1 -4 0.1 -3.7 0.2 -3.5 0.1 -3.1 0.2 -2.9 0.1 -2.5 0.1 -2.2 0.2 -1.9 0.1 -1.5 0.2 -1.1 0.1 -0.7 0.2 -0.4 0.1 0 0.1 0.3 0.2 0.8 0.1 1.1 0.2 1.5 0.1 1.8 0.1 2.1 0.2 2.5 0.1 2.8 0.2 3 0.1 3.4 0.1 3.5 0.2 3.8 0.1 4 0.2 4.2 0.1 4.3 0.1 4.4 0.2 4.5 0.1 4.6 0.2 4.6 0.1 4.7 0.2 4.6 0.1 4.5 0.1 4.5 0.2 4.3 0.1 4.3 0.2 4.1 0.1 3.9 0.1 3.6 0.2 3.5 0.1 3.2 0.2 3 0.1 2.6 0.1 2.4 0.2 2 0.1 1.8 0.2 1.3 0.1 1.1 0.1 0.7 0.2 0.3 0.1 0 0.2 -0.3 0.1 -0.7 0.2 -1.1 0.1 -1.3 0.1 -1.7 0.2 -2 0.1 -2.4 0.2 -2.5 0.1 -2.9 0.1 -3.1 0.2 -3.3 0.1 -3.6 0.2 -3.7 0.1 -3.9 0.1 -4 0.2 -4.2 0.1 -4.2 0.2 -4.3 0.1 -4.3 0.1 -4.3 0.2 -4.3 0.1 -4.2 0.2 -4.2 0.1 -4.1 0.1 -3.9 0.2 -3.9 0.1 -3.6 0.2 -3.4 0.1 -3.3 0.2 -3 0.1 -2.7 0.1 -2.5 0.2 -2.2 0.1 -1.9 0.2 -1.6 0.1 -1.3 0.1 -1 0.2 -0.6 0.1 -0.3 0.2 0 0.1 0.3 0.1 0.7 0.2 0.9 0.1 1.3 0.2 1.6 0.1 1.9 0.1 2.2 0.2 2.4 0.1 2.7 0.2 2.9 0.1 3.1 0.2 3.3 0.1 3.5 0.1 3.7 0.2 3.7 0.1 3.9 0.2 3.9 0.1 4.1 0.1 4 0.2 4 0.1 4.1 0.2 3.9 0.1 3.9 0.1 3.8 0.2 3.7 0.1 3.6 0.2 3.4 0.1 3.2 0.1 3 0.2 2.9 0.1 2.5 0.2 2.3 0.1 2.1 0.2 1.8 0.1 1.5 0.1 1.2 0.2 0.9 0.1 0.6 0.2 0.3 0.1 0 0.1 -0.3 0.2 -0.7 0.1 -0.9 0.2 -1.2 0.1 -1.5 0.1 -1.8 0.2 -2 0.1 -2.3 0.2 -2.5 0.1 -2.7 0.1 -3 0.2 -3.1 0.1 -3.2 0.2 -3.5 0.1 -3.5 0.1 -3.6 0.2 -3.7 0.1 -3.8 0.2 -3.8 0.1 -3.8 0.2 -3.7 0.1 -3.8 0.1 -3.6 0.2 -3.6 0.1 -3.5 0.2 -3.3 0.1 -3.2 0.1 -3 0.2 -2.8 0.1 -2.7 0.2 -2.4 0.1 -2.1 0.1 -2 0.2 -1.6 0.1 -1.4 0.2 -1.2 0.1 -0.8 0.1 -0.6 0.2 -0.2 0.1 0 0.2 0.3 0.1 0.6 0.2 0.8 0.1 1.2 0.1 1.4 0.2 1.7 0.1 1.9 0.2 2.1 0.1 2.4 0.1 2.5 0.2 2.8 0.1 2.9 0.2 3.1 0.1 3.2 0.1 3.3 0.2 3.4 0.1 3.5 0.2 3.6 0.1 3.5 0.1 3.6 0.2 3.5 0.1 3.5 0.2 3.5 0.1 3.3 0.1 3.3 0.2 3.1 0.1 3 0.2 2.9 0.1 2.6 0.2 2.5 0.1 2.2 0.1 2.1 0.2 1.8 0.1 1.5 0.2 1.4 0.1 1 0.1 0.8 0.2 0.5 0.1 0.3 0.2 0 0.1 -0.3 0.1 -0.6 0.2 -0.8 0.1 -1.1 0.2 -1.3 0.1 -1.6 0.1 -1.8 0.2 -2 0.1 -2.3 0.2 -2.4 0.1 -2.6 0.2 -2.7 0.1 -2.9 0.1 -3 0.2 -3.2 0.1 -3.2 0.2 -3.3 0.1 -3.3 0.1 -3.3 0.2 -3.4 0.1 -3.3 0.2 -3.3 0.1 -3.3 0.1 -3.1 0.2 -3.1 0.1 -2.9 0.2 -2.9 0.1 -2.6 0.1 -2.5 0.2 -2.4 0.1 -2.1 0.2 -1.9 0.1 -1.7 0.2 -1.5 0.1 -1.2 0.1 -1 0.2 -0.7 0.1 -0.5 0.2 -0.2 0.1 0 0.1 0.3 0.2 0.5 0.1 0.8 0.2 1 0.1 1.2 0.1 1.5 0.2 1.7 0.1 1.9 0.2 2.1 0.1 2.3 0.1 2.5 0.2 2.6 0.1 2.7 0.2 2.9 0.1 2.9 0.1 3.1 0.2 3.1 0.1 3.1 0.2 3.1 0.1 3.2 0.2 3.2 0.1 3.1 0.1 3 0.2 3 0.1 2.9 0.2 2.8 0.1 2.6 0.1 2.5 0.2 2.4 0.1 2.2 0.2 2 0.1 1.8 0.1 1.6 0.2 1.4 0.1 1.1 0.2 1 0.1 0.7 0.1 0.4 0.2 0.2 0.1 0 0.2 -0.3 0.1 -0.5 0.2 -0.7 0.1 -1 0.1 -1.2 0.2 -1.4 0.1 -1.6 0.2 -1.8 0.1 -2 0.1 -2.1 0.2 -2.4 0.1 -2.4 0.2 -2.6 0.1 -2.7 0.1 -2.8 0.2 -2.9 0.1 -2.9 0.2 -3 0.1 -2.9 0.1 -3 0.2 -3 0.1 -2.9 0.2 -2.9 0.1 -2.8 0.2 -2.8 0.1 -2.6 0.1 -2.5 0.2 -2.4 0.1 -2.2 0.2 -2.1 0.1 -1.8 0.1 -1.7 0.2 -1.6 0.1 -1.3 0.2 -1.1 0.1 -0.8 0.1 -0.7 0.2 -0.4 0.1 -0.2 0.2 0 0.1 0.3 0.1 0.5 0.2 0.7 0.1 0.9 0.2 1.1 0.1 1.4 0.1 1.5 0.2 1.7 0.1 1.9 0.2 2 0.1 2.2 0.2 2.4 0.1 2.4 0.1 2.6 0.2 2.6 0.1 2.7 0.2 2.8 0.1 2.8 0.1 2.8 0.2 2.8 0.1 2.8 0.2 2.8 0.1 2.7 0.1 2.7 0.2 2.6 0.1 2.5 0.2 2.3 0.1 2.3 0.1 2.1 0.2 1.9 0.1 1.8 0.2 1.6 0.1 1.5 0.2 1.2 0.1 1 0.1 0.8 0.2 0.7 0.1 0.4 0.2 0.1 0.1 0 0.1 -0.2 0.2 -0.5 0.1 -0.7 0.2 -0.8 0.1 -1.1 0.1 -1.3 0.2 -1.4 0.1 -1.7 0.2 -1.8 0.1 -1.9 0.1 -2.1 0.2 -2.2 0.1 -2.3 0.2 -2.4 0.1 -2.5 0.1 -2.6 0.2 -2.6 0.1 -2.7 0.2 -2.7 0.1 -2.6 0.2 -2.7 0.1 -2.6 0.1 -2.6 0.2 -2.5 0.1 -2.5 0.2 -2.3 0.1 -2.3 0.1 -2.1 0.2 -2 0.1 -1.8 0.2 -1.7 0.1 -1.6 0.1 -1.3 0.2 -1.2 0.1 -0.9 0.2 -0.8 0.1 -0.6 0.1 -0.4 0.2 -0.1 0.1 0 0.2 0.2 0.1 0.5 0.2 0.6 0.1 0.8 0.1 1.1 0.2 1.2 0.1 1.4 0.2 1.5 0.1 1.7 0.1 1.9 0.2 1.9 0.1 2.1 0.2 2.2 0.1 2.3 0.1 2.4 0.2 2.4 0.1 2.5 0.2 2.6 0.1 2.5 0.1 2.5 0.2 2.6 0.1 2.5 0.2 2.4 0.1 2.4 0.2 2.3 0.1 2.3 0.1 2.1 0.2 2 0.1 1.9 0.2 1.7 0.1 1.6 0.1 1.5 0.2 1.3 0.1 1.1 0.2 0.9 0.1 0.7 0.1 0.6 0.2 0.3 0.1 0.2 0.2 -0.1 0.1 -0.2 0.1 -0.4 0.2 -0.6 0.1 -0.8 0.2 -1 0.1 -1.2 0.1 -1.3 0.2 -1.4 0.1 -1.7 0.2 -1.7 0.1 -1.9 0.2 -2 0.1 -2.1 0.1 -2.2 0.2 -2.2 0.1 -2.3 0.2 -2.4 0.1 -2.4 0.1 -2.4 0.2 -2.4 0.1 -2.4 0.2 -2.4 0.1 -2.3 0.1 -2.3 0.2 -2.2 0.1 -2.1 0.2 -2.1 0.1 -1.9 0.1 -1.8 0.2 -1.6 0.1 -1.5 0.2 -1.4 0.1 -1.2 0.2 -1.1 0.1 -0.8 0.1 -0.7 0.2 -0.5 0.1 -0.4 0.2 -0.1 0.1 0 0.1 0.2 0.2 0.4 0.1 0.6 0.2 0.8 0.1 0.9 0.1 1.1 0.2 1.3 0.1 1.4 0.2 1.5 0.1 1.7 0.1 1.8 0.2 1.9 0.1 2 0.2 2.1 0.1 2.1 0.2 2.2 0.1 2.3 0.1 2.2 0.2 2.3 0.1 2.3 0.2 2.3 0.1 2.3 0.1 2.2 0.2 2.2 0.1 2.1 0.2 2 0.1 1.9 0.1 1.8 0.2 1.7 0.1 1.6 0.2 1.4 0.1 1.3 0.1 1.2 0.2 1 0.1 0.8 0.2 0.6 0.1 0.5 0.1 0.3 0.2 0.2 0.1 -0.1 0.2 -0.2 0.1 -0.4 0.2 -0.5 0.1 -0.7 0.1 -0.9 0.2 -1.1 0.1 -1.2 0.2 -1.3 0.1 -1.5 0.1 -1.6 0.2 -1.7 0.1 -1.8 0.2 -1.9 0.1 -2 0.1 -2 0.2 -2.1 0.1 -2.2 0.2 -2.2 0.1 -2.1 0.1 -2.2 0.2 -2.2 0.1 -2.2 0.2 -2.1 0.1 -2 0.2 -2 0.1 -1.9 0.1 -1.9 0.2 -1.7 0.1 -1.6 0.2 -1.5 0.1 -1.4 0.1 -1.2 0.2 -1.1 0.1 -1 0.2 -0.7 0.1 -0.7 0.1 -0.4 0.2 -0.3 0.1 -0.1 0.2 0 0.1 0.2 0.1 0.4 0.2 0.5 0.1 0.7 0.2 0.9 0.1 1 0.2 1.1 0.1 1.3 0.1 1.4 0.2 1.5 0.1 1.6 0.2 1.8 0.1 1.8 0.1 1.9 0.2 1.9 0.1 2 0.2 2.1 0.1 2.1 0.1 2 0.2 2.1 0.1 2.1 0.2 2.1 0.1 2 0.1 1.9 0.2 1.9 0.1 1.9 0.2 1.7 0.1 1.7 0.1 1.5 0.2 1.4 0.1 1.3 0.2 1.2 0.1 1 0.2 0.9 0.1 0.8 0.1 0.6 0.2 0.4 0.1 0.3 0.2 0.1 0.1 0 0.1 -0.2 0.2 -0.4 0.1 -0.5 0.2 -0.7 0.1 -0.8 0.1 -1 0.2 -1.1 0.1 -1.2 0.2 -1.3 0.1 -1.5 0.1 -1.5 0.2 -1.7 0.1 -1.7 0.2 -1.8 0.1 -1.9 0.2 -1.9 0.1 -2 0.1 -1.9 0.2 -2 0.1 -2 0.2 -2 0.1 -2 0.1 -1.9 0.2 -1.9 0.1 -1.8 0.2 -1.7 0.1 -1.7 0.1 -1.6 0.2 -1.4 0.1 -1.4 0.2 -1.2 0.1 -1.1 0.1 -1 0.2 -0.9 0.1 -0.7 0.2 -0.6 0.1 -0.4 0.1 -0.2 0.2 -0.1 0.1 0 0.2 0.2 0.1 0.3 0.2 0.5 0.1 0.7 0.1 0.8 0.2 0.9 0.1 1 0.2 1.2 0.1 1.3 0.1 1.4 0.2 1.5 0.1 1.6 0.2 1.6 0.1 1.7 0.1 1.8 0.2 1.9 0.1 1.8 0.2 1.9 0.1 1.9 0.1 1.9 0.2 1.9 0.1 1.9 0.2 1.8 0.1 1.8 0.2 1.7 0.1 1.7 0.1 1.6 0.2 1.5 0.1 1.4 0.2 1.3 0.1 1.2 0.1 1.1 0.2 0.9 0.1 0.8 0.2 0.7 0.1 0.5 0.1 0.4 0.2 0.3 0.1 0.1 0.2 -0.1 0.1 -0.2 0.1 -0.3 0.2 -0.5 0.1 -0.6 0.2 -0.8 0.1 -0.8 0.2 -1 0.1 -1.2 0.1 -1.2 0.2 -1.3 0.1 -1.5 0.2 -1.5 0.1 -1.6 0.1 -1.6 0.2 -1.7 0.1 -1.8 0.2 -1.8 0.1 -1.8 0.1 -1.8 0.2 -1.8 0.1 -1.8 0.2 -1.8 0.1 -1.8 0.1 -1.7 0.2 -1.6 0.1 -1.6 0.2 -1.5 0.1 -1.5 0.1 -1.3 0.2 -1.3 0.1 -1.1 0.2 -1 0.1 -0.9 0.2 -0.8 0.1 -0.6 0.1 -0.5 0.2 -0.4 0.1 -0.3 0.2 0 0.1 0 0.1 0.2 0.2 0.3 0.1 0.5 0.2 0.6 0.1 0.7 0.1 0.8 0.2 1 0.1 1.1 0.2 1.2 0.1 1.2 0.1 1.4 0.2 1.5 0.1 1.5 0.2 1.6 0.1 1.6 0.2 1.7 0.1 1.7 0.1 1.7 0.2 1.8 0.1 1.7 0.2 1.7 0.1 1.8 0.1 1.6 0.2 1.7 0.1 1.6 0.2 1.5 0.1 1.4 0.1 1.4 0.2 1.3 0.1 1.2 0.2 1.1 0.1 0.9 0.1 0.9 0.2 0.7 0.1 0.6 0.2 0.5 0.1 0.4 0.2 0.2 0.1 0.1 0.1 -0.1 0.2 -0.1 0.1 -0.3 0.2 -0.5 0.1 -0.6 0.1 -0.7 0.2 -0.8 0.1 -0.9 0.2 -1 0.1 -1.2 0.1 -1.2 0.2 -1.3 0.1 -1.4 0.2 -1.5 0.1 -1.5 0.1 -1.5 0.2 -1.7 0.1 -1.6 0.2 -1.7 0.1 -1.6 0.1 -1.7 0.2 -1.7 0.1 -1.6 0.2 -1.6 0.1 -1.6 0.2 -1.5 0.1 -1.5 0.1 -1.4 0.2 -1.3 0.1 -1.2 0.2 -1.1 0.1 -1.1 0.1 -0.9 0.2 -0.8 0.1 -0.7 0.2 -0.6 0.1 -0.5 0.1 -0.3 0.2 -0.2 0.1 -0.1 0.2 0 0.1 0.2 0.1 0.3 0.2 0.5 0.1 0.5 0.2 0.7 0.1 0.8 0.2 0.8 0.1 1 0.1 1.1 0.2 1.2 0.1 1.3 0.2 1.3 0.1 1.4 0.1 1.5 0.2 1.5 0.1 1.5 0.2 1.6 0.1 1.6 0.1 1.6 0.2 1.6 0.1 1.6 0.2 1.6 0.1 1.5 0.1 1.5 0.2 1.5 0.1 1.4 0.2 1.3 0.1 1.3 0.1 1.1 0.2 1.1 0.1 1 0.2 0.9 0.1 0.8 0.2 0.7 0.1 0.5 0.1 0.5 0.2 0.3 0.1 0.2 0.2 0.1 0.1 -0.1 0.1 -0.2 0.2 -0.3 0.1 -0.4 0.2 -0.5 0.1 -0.6 0.1 -0.8 0.2 -0.8 0.1 -1 0.2 -1.1 0.1 -1.1 0.1 -1.2 0.2 -1.3 0.1 -1.3 0.2 -1.4 0.1 -1.5 0.2 -1.5 0.1 -1.5 0.1 -1.5 0.2 -1.6 0.1 -1.5 0.2 -1.5 0.1 -1.5 0.1 -1.5 0.2 -1.5 0.1 -1.4 0.2 -1.3 0.1 -1.3 0.1 -1.2 0.2 -1.1 0.1 -1.1 0.2 -0.9 0.1 -0.9 0.1 -0.7 0.2 -0.7 0.1 -0.5 0.2 -0.4 0.1 -0.3 0.2 -0.2 0.1 -0.1 0.1 0.1 0.2 0.1 0.1 0.3 0.2 0.4 0.1 0.5 0.1 0.7 0.2 0.7 0.1 0.8 0.2 0.9 0.1 1 0.1 1.1 0.2 1.2 0.1 1.2 0.2 1.3 0.1 1.4 0.1 1.4 0.2 1.4 0.1 1.5 0.2 1.4 0.1 1.5 0.1 1.5 0.2 1.5 0.1 1.4 0.2 1.4 0.1 1.4 0.2 1.4 0.1 1.2 0.1 1.3 0.2 1.1 0.1 1.1 0.2 1 0.1 0.9 0.1 0.8 0.2 0.8 0.1 0.6 0.2 0.5 0.1 0.4 0.1 0.3 0.2 0.2 0.1 0 0.2 0 0.1 -0.2 0.1 -0.3 0.2 -0.3 0.1 -0.5 0.2 -0.6 0.1 -0.7 0.2 -0.8 0.1 -0.9 0.1 -1 0.2 -1 0.1 -1.2 0.2 -1.2 0.1 -1.2 0.1 -1.3 0.2 -1.3 0.1 -1.4 0.2 -1.4 0.1 -1.4 0.1 -1.5 0.2 -1.4 0.1 -1.4 0.2 -1.4 0.1 -1.4 0.1 -1.3 0.2 -1.3 0.1 -1.2 0.2 -1.2 0.1 -1.1 0.2 -1 0.1 -1 0.1 -0.9 0.2 -0.8 0.1 -0.7 0.2 -0.5 0.1 -0.5 0.1 -0.4 0.2 -0.3 0.1 -0.2 0.2 0 0.1 0 0.1 0.2 0.2 0.2 0.1 0.4 0.2 0.5 0.1 0.6 0.1 0.7 0.2 0.7 0.1 0.9 0.2 0.9 0.1 1 0.1 1.1 0.2 1.2 0.1 1.2 0.2 1.2 0.1 1.3 0.2 1.3 0.1 1.4 0.1 1.3 0.2 1.4 0.1 1.4 0.2 1.3 0.1 1.4 0.1 1.3 0.2 1.3 0.1 1.2 0.2 1.2 0.1 1.1 0.1 1.1 0.2 1 0.1 0.9 0.2 0.9 0.1 0.7 0.1 0.7 0.2 0.5 0.1 0.5 0.2 0.4 0.1 0.3 0.2 0.1 0.1 0.1 0.1 -0.1 0.2 -0.1 0.1 -0.3 0.2 -0.4 0.1 -0.4 0.1 -0.6 0.2 -0.6 0.1 -0.8 0.2 -0.8 0.1 -0.9 0.1 -1 0.2 -1 0.1 -1.1 0.2 -1.2 0.1 -1.2 0.1 -1.2 0.2 -1.3 0.1 -1.3 0.2 -1.3 0.1 -1.3 0.1 -1.4 0.2 -1.3 0.1 -1.3 0.2 -1.2 0.1 -1.3 0.2 -1.2 0.1 -1.1 0.1 -1.1 0.2 -1 0.1 -1 0.2 -0.9 0.1 -0.8 0.1 -0.7 0.2 -0.6 0.1 -0.6 0.2 -0.4 0.1 -0.4 0.1 -0.2 0.2 -0.2 0.1 0 0.2 0 0.1 0.2 0.1 0.2 0.2 0.4 0.1 0.4 0.2 0.6 0.1 0.6 0.2 0.7 0.1 0.8 0.1 0.9 0.2 0.9 0.1 1 0.2 1.1 0.1 1.1 0.1 1.2 0.2 1.2 0.1 1.2 0.2 1.2 0.1 1.3 0.1 1.3 0.2 1.3 0.1 1.2 0.2 1.3 0.1 1.2 0.1 1.2 0.2 1.1 0.1 1.1 0.2 1.1 0.1 1 0.2 0.9 0.1 0.8 0.1 0.8 0.2 0.7 0.1 0.6 0.2 0.5 0.1 0.5 0.1 0.3 0.2 0.3 0.1 0.1 0.2 0 0.1 0 0.1 -0.2 0.2 -0.2 0.1 -0.3 0.2 -0.5 0.1 -0.5 0.1 -0.6 0.2 -0.7 0.1 -0.8 0.2 -0.8 0.1 -0.9 0.1 -1 0.2 -1 0.1 -1.1 0.2 -1.1 0.1 -1.2 0.2 -1.2 0.1 -1.2 0.1 -1.2 0.2 -1.2 0.1 -1.2 0.2 -1.3 0.1 -1.2 0.1 -1.1 0.2 -1.2 0.1 -1.1 0.2 -1.1 0.1 -1 0.1 -0.9 0.2 -0.9 0.1 -0.8 0.2 -0.8 0.1 -0.6 0.1 -0.6 0.2 -0.5 0.1 -0.5 0.2 -0.3 0.1 -0.2 0.2 -0.1 0.1 -0.1 0.1 0.1 0.2 0.1 0.1 0.2 0.2 0.4 0.1 0.4 0.1 0.5 0.2 0.6 0.1 0.7 0.2 0.7 0.1 0.8 0.1 0.9 0.2 0.9 0.1 1 0.2 1.1 0.1 1.1 0.1 1.1 0.2 1.1 0.1 1.2 0.2 1.2 0.1 1.2 0.2 1.1 0.1 1.2 0.1 1.2 0.2 1.1 0.1 1.1 0.2 1.1 0.1 1 0.1 1 0.2 0.9 0.1 0.8 0.2 0.8 0.1 0.8 0.1 0.6 0.2 0.6 0.1 0.5 0.2 0.4 0.1 0.3 0.1 0.2 0.2 0.1 0.1 0.1 0.2 -0.1 0.1 -0.1 0.1 -0.3 0.2 -0.3 0.1 -0.4 0.2 -0.5 0.1 -0.6 0.2 -0.6 0.1 -0.7 0.1 -0.8 0.2 -0.9 0.1 -0.9 0.2 -0.9 0.1 -1 0.1 -1.1 0.2 -1.1 0.1 -1.1 0.2 -1.1 0.1 -1.1 0.1 -1.2 0.2 -1.1 0.1 -1.2 0.2 -1.1 0.1 -1.1 0.1 -1 0.2 -1.1 0.1 -1 0.2 -0.9 0.1 -0.9 0.2 -0.8 0.1 -0.8 0.1 -0.7 0.2 -0.6 0.1 -0.5 0.2 -0.5 0.1 -0.4 0.1 -0.3 0.2 -0.2 0.1 -0.1 0.2 -0.1 0.1 0.1 0.1 0.1 0.2 0.3 0.1 0.3 0.2 0.4 0.1 0.5 0.1 0.5 0.2 0.6 0.1 0.7 0.2 0.8 0.1 0.8 0.1 0.9 0.2 0.9 0.1 1 0.2 1 0.1 1.1 0.2 1 0.1 1.1 0.1 1.1 0.2 1.1 0.1 1.1 0.2 1.1 0.1 1.1 0.1 1 0.2 1.1 0.1 1 0.2 0.9 0.1 0.9 0.1 0.9 0.2 0.8 0.1 0.7 0.2 0.7 0.1 0.6 0.1 0.5 0.2 0.5 0.1 0.3 0.2 0.3 0.1 0.2 0.2 0.1 0.1 0.1 0.1 -0.1 0.2 -0.1 0.1 -0.2 0.2 -0.3 0.1 -0.4 0.1 -0.5 0.2 -0.5 0.1 -0.6 0.2 -0.7 0.1 -0.7 0.1 -0.8 0.2 -0.9 0.1 -0.9 0.2 -0.9 0.1 -1 0.1 -1 0.2 -1.1 0.1 -1 0.2 -1.1 0.1 -1 0.2 -1.1 0.1 -1.1 0.1 -1 0.2 -1 0.1 -1 0.2 -1 0.1 -0.9 0.1 -0.9 0.2 -0.8 0.1 -0.8 0.2 -0.7 0.1 -0.6" stroke="#ff0000" stroke-width="2.1" stroke-dasharray="6.4 6.1"/>
</g>
<clipPath id="cb"><rect x="46.0" y="279.0" width="225.5" height="225.39999999999998"/></clipPath>
<g clip-path="url(#cb)" fill="none" stroke-linejoin="round">
<path d="M46.0 338.1l0.1 13.1 0.2 12.6 0.1 12 0.2 11.4 0.1 10.6 0.1 9.7 0.2 8.7 0.1 7.6 0.2 6.3 0.1 5.1 0.2 3.8 0.1 2.5 0.1 1.5 0.2 0.7 0.1 -0.3 0.2 -1.1 0.1 -1.9 0.1 -2.6 0.2 -3.2 0.1 -3.6 0.2 -3.9 0.1 -4 0.1 -3.9 0.2 -3.8 0.1 -3.5 0.2 -3 0.1 -2.7 0.1 -2 0.2 -1.6 0.1 -1.1 0.2 -0.7 0.1 -0.3 0.2 0 0.1 0.2 0.1 0.2 0.2 0.2 0.1 0 0.2 -0.2 0.1 -0.4 0.1 -0.7 0.2 -1 0.1 -1.4 0.2 -1.6 0.1 -1.8 0.1 -2.1 0.2 -2.3 0.1 -2.3 0.2 -2.5 0.1 -2.6 0.2 -2.6 0.1 -2.7 0.1 -2.7 0.2 -2.8 0.1 -2.9 0.2 -3 0.1 -3.1 0.1 -3.1 0.2 -3.3 0.1 -3.4 0.2 -3.3 0.1 -3.3 0.1 -3.2 0.2 -3 0.1 -2.8 0.2 -2.3 0.1 -1.9 0.1 -1.3 0.2 -0.8 0.1 0 0.2 0.6 0.1 1.4 0.2 2.2 0.1 2.8 0.1 3.6 0.2 4.2 0.1 4.9 0.2 5.3 0.1 5.8 0.1 6.1 0.2 6.5 0.1 6.6 0.2 6.7 0.1 6.6 0.1 6.6 0.2 6.3 0.1 6 0.2 5.6 0.1 5.1 0.2 4.5 0.1 3.7 0.1 3.1 0.2 2.2 0.1 1.4 0.2 0.5 0.1 -0.2 0.1 -1.1 0.2 -1.8 0.1 -2.4 0.2 -2.9 0.1 -3.3 0.1 -3.5 0.2 -3.6 0.1 -3.6 0.2 -3.5 0.1 -3.1 0.1 -2.8 0.2 -2.3 0.1 -1.9 0.2 -1.4 0.1 -1 0.2 -0.6 0.1 -0.2 0.1 -0.1 0.2 0.2 0.1 0.2 0.2 0.1 0.1 0.1 0.1 -0.2 0.2 -0.4 0.1 -0.6 0.2 -1 0.1 -1.2 0.1 -1.5 0.2 -1.7 0.1 -1.9 0.2 -2.1 0.1 -2.2 0.2 -2.2 0.1 -2.4 0.1 -2.4 0.2 -2.4 0.1 -2.5 0.2 -2.6 0.1 -2.6 0.1 -2.8 0.2 -2.8 0.1 -2.9 0.2 -3 0.1 -3.1 0.1 -3.1 0.2 -3 0.1 -2.9 0.2 -2.8 0.1 -2.4 0.1 -2.2 0.2 -1.7 0.1 -1.2 0.2 -0.6 0.1 -0.1 0.2 0.7 0.1 1.3 0.1 2 0.2 2.6 0.1 3.3 0.2 3.9 0.1 4.4 0.1 5 0.2 5.3 0.1 5.6 0.2 5.9 0.1 6.1 0.1 6.1 0.2 6.1 0.1 6 0.2 5.8 0.1 5.5 0.2 5.1 0.1 4.7 0.1 4 0.2 3.5 0.1 2.7 0.2 2 0.1 1.3 0.1 0.5 0.2 -0.3 0.1 -1 0.2 -1.7 0.1 -2.2 0.1 -2.7 0.2 -3 0.1 -3.3 0.2 -3.3 0.1 -3.3 0.1 -3.1 0.2 -2.9 0.1 -2.6 0.2 -2.1 0.1 -1.7 0.2 -1.3 0.1 -0.9 0.1 -0.5 0.2 -0.2 0.1 0 0.2 0.1 0.1 0.2 0.1 0.2 0.2 0 0.1 -0.2 0.2 -0.3 0.1 -0.7 0.1 -0.9 0.2 -1.1 0.1 -1.4 0.2 -1.6 0.1 -1.7 0.2 -1.9 0.1 -2 0.1 -2.1 0.2 -2.2 0.1 -2.2 0.2 -2.3 0.1 -2.3 0.1 -2.3 0.2 -2.5 0.1 -2.5 0.2 -2.6 0.1 -2.7 0.1 -2.8 0.2 -2.8 0.1 -2.8 0.2 -2.8 0.1 -2.7 0.1 -2.6 0.2 -2.2 0.1 -2 0.2 -1.5 0.1 -1.1 0.2 -0.6 0.1 0 0.1 0.6 0.2 1.2 0.1 1.9 0.2 2.5 0.1 3 0.1 3.7 0.2 4.1 0.1 4.5 0.2 4.9 0.1 5.3 0.1 5.4 0.2 5.6 0.1 5.7 0.2 5.6 0.1 5.6 0.2 5.3 0.1 5.1 0.1 4.7 0.2 4.2 0.1 3.8 0.2 3.1 0.1 2.5 0.1 1.8 0.2 1.2 0.1 0.4 0.2 -0.3 0.1 -1 0.1 -1.5 0.2 -2.1 0.1 -2.5 0.2 -2.8 0.1 -3 0.1 -3.1 0.2 -3.1 0.1 -2.9 0.2 -2.6 0.1 -2.3 0.2 -2 0.1 -1.6 0.1 -1.1 0.2 -0.8 0.1 -0.5 0.2 -0.2 0.1 0.1 0.1 0.1 0.2 0.2 0.1 0.1 0.2 0 0.1 -0.2 0.1 -0.3 0.2 -0.6 0.1 -0.8 0.2 -1.1 0.1 -1.3 0.2 -1.5 0.1 -1.6 0.1 -1.8 0.2 -1.9 0.1 -1.9 0.2 -2 0.1 -2 0.1 -2.1 0.2 -2.2 0.1 -2.2 0.2 -2.2 0.1 -2.4 0.1 -2.4 0.2 -2.5 0.1 -2.6 0.2 -2.6 0.1 -2.7 0.1 -2.5 0.2 -2.5 0.1 -2.4 0.2 -2.1 0.1 -1.8 0.2 -1.4 0.1 -1 0.1 -0.5 0.2 0 0.1 0.6 0.2 1.2 0.1 1.7 0.1 2.4 0.2 2.8 0.1 3.4 0.2 3.8 0.1 4.3 0.1 4.6 0.2 4.8 0.1 5.1 0.2 5.2 0.1 5.3 0.2 5.2 0.1 5.1 0.1 5 0.2 4.7 0.1 4.3 0.2 4 0.1 3.4 0.1 2.9 0.2 2.3 0.1 1.7 0.2 1 0.1 0.3 0.1 -0.3 0.2 -0.9 0.1 -1.5 0.2 -1.9 0.1 -2.3 0.1 -2.7 0.2 -2.8 0.1 -2.8 0.2 -2.9 0.1 -2.6 0.2 -2.5 0.1 -2.1 0.1 -1.8 0.2 -1.5 0.1 -1 0.2 -0.8 0.1 -0.4 0.1 -0.1 0.2 0 0.1 0.1 0.2 0.2 0.1 0.1 0.1 0 0.2 -0.2 0.1 -0.3 0.2 -0.6 0.1 -0.8 0.2 -1 0.1 -1.2 0.1 -1.4 0.2 -1.5 0.1 -1.6 0.2 -1.8 0.1 -1.8 0.1 -1.9 0.2 -1.9 0.1 -1.9 0.2 -2 0.1 -2.1 0.1 -2.1 0.2 -2.2 0.1 -2.3 0.2 -2.3 0.1 -2.4 0.1 -2.4 0.2 -2.5 0.1 -2.4 0.2 -2.3 0.1 -2.2 0.2 -2 0.1 -1.6 0.1 -1.3 0.2 -0.9 0.1 -0.5 0.2 0.1 0.1 0.5 0.1 1.1 0.2 1.7 0.1 2.2 0.2 2.7 0.1 3.2 0.1 3.6 0.2 3.9 0.1 4.3 0.2 4.6 0.1 4.7 0.2 4.9 0.1 4.9 0.1 4.9 0.2 4.8 0.1 4.6 0.2 4.3 0.1 4.1 0.1 3.6 0.2 3.2 0.1 2.7 0.2 2.1 0.1 1.6 0.1 0.9 0.2 0.3 0.1 -0.3 0.2 -0.9 0.1 -1.4 0.1 -1.9 0.2 -2.2 0.1 -2.4 0.2 -2.6 0.1 -2.7 0.2 -2.6 0.1 -2.5 0.1 -2.3 0.2 -2 0.1 -1.7 0.2 -1.3 0.1 -1 0.1 -0.6 0.2 -0.4 0.1 -0.1 0.2 0 0.1 0.1 0.1 0.1 0.2 0.1 0.1 0 0.2 -0.1 0.1 -0.3 0.2 -0.6 0.1 -0.7 0.1 -1 0.2 -1.1 0.1 -1.3 0.2 -1.4 0.1 -1.6 0.1 -1.6 0.2 -1.7 0.1 -1.8 0.2 -1.8 0.1 -1.8 0.1 -1.9 0.2 -1.9 0.1 -2 0.2 -2 0.1 -2.2 0.1 -2.2 0.2 -2.2 0.1 -2.3 0.2 -2.3 0.1 -2.3 0.2 -2.2 0.1 -2 0.1 -1.8 0.2 -1.5 0.1 -1.3 0.2 -0.8 0.1 -0.4 0.1 0.1 0.2 0.5 0.1 1.1 0.2 1.6 0.1 2.1 0.1 2.5 0.2 3 0.1 3.4 0.2 3.7 0.1 4.1 0.2 4.2 0.1 4.5 0.1 4.6 0.2 4.6 0.1 4.5 0.2 4.5 0.1 4.3 0.1 4.1 0.2 3.8 0.1 3.4 0.2 3 0.1 2.5 0.1 1.9 0.2 1.4 0.1 0.9 0.2 0.2 0.1 -0.3 0.1 -0.9 0.2 -1.3 0.1 -1.7 0.2 -2.1 0.1 -2.3 0.2 -2.5 0.1 -2.5 0.1 -2.5 0.2 -2.3 0.1 -2.1 0.2 -1.9 0.1 -1.5 0.1 -1.3 0.2 -0.9 0.1 -0.6 0.2 -0.3 0.1 -0.1 0.1 0 0.2 0.1 0.1 0.2 0.2 0.1 0.1 0 0.2 -0.2 0.1 -0.3 0.1 -0.5 0.2 -0.7 0.1 -0.9 0.2 -1.1 0.1 -1.2 0.1 -1.4 0.2 -1.5 0.1 -1.5 0.2 -1.6 0.1 -1.7 0.1 -1.6 0.2 -1.8 0.1 -1.7 0.2 -1.8 0.1 -1.9 0.1 -1.9 0.2 -2.1 0.1 -2 0.2 -2.1 0.1 -2.2 0.2 -2.2 0.1 -2.1 0.1 -2 0.2 -1.9 0.1 -1.7 0.2 -1.5 0.1 -1.1 0.1 -0.8 0.2 -0.3 0.1 0.1 0.2 0.5 0.1 1 0.1 1.6 0.2 1.9 0.1 2.4 0.2 2.9 0.1 3.2 0.2 3.5 0.1 3.8 0.1 4.1 0.2 4.2 0.1 4.3 0.2 4.3 0.1 4.3 0.1 4.2 0.2 4.1 0.1 3.8 0.2 3.5 0.1 3.2 0.1 2.8 0.2 2.3 0.1 1.9 0.2 1.3 0.1 0.7 0.1 0.2 0.2 -0.3 0.1 -0.8 0.2 -1.3 0.1 -1.7 0.2 -1.9 0.1 -2.2 0.1 -2.4 0.2 -2.3 0.1 -2.3 0.2 -2.2 0.1 -2 0.1 -1.8 0.2 -1.4 0.1 -1.1 0.2 -0.9 0.1 -0.5 0.1 -0.3 0.2 -0.1 0.1 0 0.2 0.1 0.1 0.1 0.2 0.1 0.1 0 0.1 -0.1 0.2 -0.3 0.1 -0.5 0.2 -0.7 0.1 -0.9 0.1 -1 0.2 -1.2 0.1 -1.3 0.2 -1.3 0.1 -1.5 0.1 -1.5 0.2 -1.6 0.1 -1.6 0.2 -1.6 0.1 -1.6 0.1 -1.8 0.2 -1.7 0.1 -1.9 0.2 -1.9 0.1 -1.9 0.2 -2 0.1 -2.1 0.1 -2 0.2 -2 0.1 -1.9 0.2 -1.8 0.1 -1.6 0.1 -1.3 0.2 -1.1 0.1 -0.7 0.2 -0.3 0.1 0.1 0.1 0.5 0.2 1 0.1 1.5 0.2 1.8 0.1 2.3 0.2 2.7 0.1 3.1 0.1 3.3 0.2 3.6 0.1 3.9 0.2 3.9 0.1 4.1 0.1 4.1 0.2 4 0.1 4 0.2 3.8 0.1 3.6 0.1 3.4 0.2 3 0.1 2.6 0.2 2.2 0.1 1.7 0.1 1.2 0.2 0.6 0.1 0.2 0.2 -0.3 0.1 -0.8 0.2 -1.2 0.1 -1.6 0.1 -1.9 0.2 -2.1 0.1 -2.2 0.2 -2.2 0.1 -2.2 0.1 -2.1 0.2 -1.8 0.1 -1.7 0.2 -1.3 0.1 -1.1 0.1 -0.7 0.2 -0.6 0.1 -0.2 0.2 -0.1 0.1 0 0.2 0.1 0.1 0.1 0.1 0.1 0.2 0 0.1 -0.1 0.2 -0.3 0.1 -0.5 0.1 -0.7 0.2 -0.8 0.1 -1 0.2 -1.1 0.1 -1.2 0.1 -1.3 0.2 -1.4 0.1 -1.4 0.2 -1.5 0.1 -1.5 0.1 -1.5 0.2 -1.6 0.1 -1.7 0.2 -1.6 0.1 -1.8 0.2 -1.8 0.1 -1.8 0.1 -1.9 0.2 -2 0.1 -1.9 0.2 -1.9 0.1 -1.8 0.1 -1.7 0.2 -1.5 0.1 -1.2 0.2 -1 0.1 -0.7 0.1 -0.3 0.2 0.2 0.1 0.5 0.2 0.9 0.1 1.4 0.2 1.8 0.1 2.2 0.1 2.6 0.2 2.9 0.1 3.2 0.2 3.4 0.1 3.6 0.1 3.8 0.2 3.9 0.1 3.8 0.2 3.9 0.1 3.7 0.1 3.7 0.2 3.4 0.1 3.1 0.2 2.8 0.1 2.5 0.1 2 0.2 1.6 0.1 1.1 0.2 0.6 0.1 0.2 0.2 -0.3 0.1 -0.8 0.1 -1.2 0.2 -1.5 0.1 -1.8 0.2 -2 0.1 -2.1 0.1 -2.1 0.2 -2.1 0.1 -1.9 0.2 -1.8 0.1 -1.5 0.1 -1.3 0.2 -1 0.1 -0.7 0.2 -0.4 0.1 -0.3 0.2 -0.1 0.1 0.1 0.1 0.1 0.2 0.1 0.1 0 0.2 0 0.1 -0.1 0.1 -0.3 0.2 -0.5 0.1 -0.6 0.2 -0.8 0.1 -0.9 0.1 -1.1 0.2 -1.1 0.1 -1.3 0.2 -1.3 0.1 -1.4 0.1 -1.4 0.2 -1.4 0.1 -1.5 0.2 -1.5 0.1 -1.5 0.2 -1.6 0.1 -1.7 0.1 -1.7 0.2 -1.7 0.1 -1.8 0.2 -1.9 0.1 -1.8 0.1 -1.8 0.2 -1.7 0.1 -1.6 0.2 -1.4 0.1 -1.2 0.1 -0.9 0.2 -0.6 0.1 -0.3 0.2 0.1 0.1 0.6 0.2 0.9 0.1 1.3 0.1 1.8 0.2 2.1 0.1 2.4 0.2 2.8 0.1 3 0.1 3.3 0.2 3.4 0.1 3.6 0.2 3.7 0.1 3.7 0.1 3.6 0.2 3.6 0.1 3.4 0.2 3.2 0.1 3 0.1 2.7 0.2 2.3 0.1 1.9 0.2 1.5 0.1 1 0.2 0.6 0.1 0.1 0.1 -0.3 0.2 -0.8 0.1 -1.1 0.2 -1.5 0.1 -1.7 0.1 -1.9 0.2 -2 0.1 -2 0.2 -1.9 0.1 -1.9 0.1 -1.6 0.2 -1.5 0.1 -1.2 0.2 -0.9 0.1 -0.7 0.2 -0.4 0.1 -0.2 0.1 -0.1 0.2 0 0.1 0.1 0.2 0.1 0.1 0.1 0.1 0 0.2 -0.2 0.1 -0.3 0.2 -0.4 0.1 -0.6 0.1 -0.8 0.2 -0.8 0.1 -1.1 0.2 -1.1 0.1 -1.2 0.1 -1.2 0.2 -1.3 0.1 -1.4 0.2 -1.3 0.1 -1.4 0.2 -1.4 0.1 -1.5 0.1 -1.5 0.2 -1.6 0.1 -1.6 0.2 -1.7 0.1 -1.8 0.1 -1.7 0.2 -1.7 0.1 -1.8 0.2 -1.6 0.1 -1.5 0.1 -1.3 0.2 -1.1 0.1 -0.9 0.2 -0.6 0.1 -0.2 0.2 0.1 0.1 0.6 0.1 0.9 0.2 1.3 0.1 1.6 0.2 2 0.1 2.4 0.1 2.6 0.2 3 0.1 3.1 0.2 3.3 0.1 3.4 0.1 3.5 0.2 3.5 0.1 3.4 0.2 3.4 0.1 3.3 0.1 3.1 0.2 2.8 0.1 2.5 0.2 2.2 0.1 1.8 0.2 1.4 0.1 1 0.1 0.5 0.2 0.1 0.1 -0.4 0.2 -0.7 0.1 -1.1 0.1 -1.4 0.2 -1.6 0.1 -1.9 0.2 -1.8 0.1 -2 0.1 -1.8 0.2 -1.8 0.1 -1.6 0.2 -1.3 0.1 -1.1 0.2 -0.9 0.1 -0.6 0.1 -0.5 0.2 -0.2 0.1 0 0.2 0 0.1 0.1 0.1 0.1 0.2 0.1 0.1 0 0.2 -0.2 0.1 -0.3 0.1 -0.4 0.2 -0.6 0.1 -0.7 0.2 -0.9 0.1 -0.9 0.1 -1.1 0.2 -1.1 0.1 -1.2 0.2 -1.3 0.1 -1.3 0.2 -1.3 0.1 -1.3 0.1 -1.4 0.2 -1.4 0.1 -1.4 0.2 -1.5 0.1 -1.6 0.1 -1.6 0.2 -1.6 0.1 -1.7 0.2 -1.7 0.1 -1.6 0.1 -1.6 0.2 -1.4 0.1 -1.3 0.2 -1 0.1 -0.8 0.2 -0.5 0.1 -0.2 0.1 0.1 0.2 0.5 0.1 0.9 0.2 1.2 0.1 1.7 0.1 1.9 0.2 2.3 0.1 2.5 0.2 2.8 0.1 3 0.1 3.1 0.2 3.3 0.1 3.3 0.2 3.4 0.1 3.3 0.1 3.2 0.2 3.1 0.1 2.9 0.2 2.7 0.1 2.4 0.2 2.1 0.1 1.7 0.1 1.3 0.2 0.9 0.1 0.5 0.2 0 0.1 -0.3 0.1 -0.7 0.2 -1.1 0.1 -1.3 0.2 -1.6 0.1 -1.7 0.1 -1.9 0.2 -1.8 0.1 -1.8 0.2 -1.6 0.1 -1.5 0.2 -1.3 0.1 -1.1 0.1 -0.8 0.2 -0.6 0.1 -0.4 0.2 -0.2 0.1 0 0.1 0 0.2 0.1 0.1 0.1 0.2 0.1 0.1 -0.1 0.1 -0.1 0.2 -0.3 0.1 -0.4 0.2 -0.6 0.1 -0.7 0.1 -0.8 0.2 -0.9 0.1 -1 0.2 -1.1 0.1 -1.2 0.2 -1.2 0.1 -1.2 0.1 -1.2 0.2 -1.3 0.1 -1.3 0.2 -1.4 0.1 -1.4 0.1 -1.4 0.2 -1.5 0.1 -1.5 0.2 -1.6 0.1 -1.6 0.1 -1.6 0.2 -1.5 0.1 -1.5 0.2 -1.4 0.1 -1.2 0.2 -1 0.1 -0.8 0.1 -0.4 0.2 -0.2 0.1 0.1 0.2 0.5 0.1 0.9 0.1 1.2 0.2 1.6 0.1 1.9 0.2 2.1 0.1 2.5 0.1 2.6 0.2 2.9 0.1 3 0.2 3.1 0.1 3.2 0.1 3.2 0.2 3.2 0.1 3.1 0.2 3 0.1 2.7 0.2 2.6 0.1 2.3 0.1 1.9 0.2 1.6 0.1 1.3 0.2 0.8 0.1 0.5 0.1 0 0.2 -0.3 0.1 -0.8 0.2 -1 0.1 -1.3 0.1 -1.5 0.2 -1.7 0.1 -1.7 0.2 -1.8 0.1 -1.6 0.2 -1.6 0.1 -1.5 0.1 -1.2 0.2 -1 0.1 -0.8 0.2 -0.5 0.1 -0.4 0.1 -0.1 0.2 -0.1 0.1 0.1 0.2 0.1 0.1 0 0.1 0.1 0.2 0 0.1 -0.2 0.2 -0.3 0.1 -0.4 0.1 -0.5 0.2 -0.7 0.1 -0.8 0.2 -0.9 0.1 -1 0.2 -1 0.1 -1.1 0.1 -1.2 0.2 -1.1 0.1 -1.2 0.2 -1.2 0.1 -1.3 0.1 -1.3 0.2 -1.3 0.1 -1.4 0.2 -1.4 0.1 -1.5 0.1 -1.5 0.2 -1.6 0.1 -1.5 0.2 -1.5 0.1 -1.4 0.2 -1.3 0.1 -1.1 0.1 -1 0.2 -0.7 0.1 -0.4 0.2 -0.2 0.1 0.2 0.1 0.5 0.2 0.8 0.1 1.2 0.2 1.5 0.1 1.8 0.1 2.1 0.2 2.4 0.1 2.5 0.2 2.8 0.1 2.9 0.1 3 0.2 3 0.1 3.1 0.2 3 0.1 3 0.2 2.8 0.1 2.7 0.1 2.4 0.2 2.2 0.1 1.8 0.2 1.6 0.1 1.1 0.1 0.8 0.2 0.4 0.1 0.1 0.2 -0.4 0.1 -0.7 0.1 -1 0.2 -1.3 0.1 -1.4 0.2 -1.6 0.1 -1.7 0.2 -1.7 0.1 -1.6 0.1 -1.5 0.2 -1.3 0.1 -1.2 0.2 -1 0.1 -0.7 0.1 -0.5 0.2 -0.3 0.1 -0.2 0.2 0 0.1 0 0.1 0.1 0.2 0.1 0.1 0 0.2 0 0.1 -0.2 0.1 -0.2 0.2 -0.4 0.1 -0.6 0.2 -0.6 0.1 -0.8 0.2 -0.8 0.1 -1 0.1 -1 0.2 -1.1 0.1 -1.1 0.2 -1.1 0.1 -1.1 0.1 -1.2 0.2 -1.2 0.1 -1.2 0.2 -1.3 0.1 -1.4 0.1 -1.3 0.2 -1.5 0.1 -1.4 0.2 -1.5 0.1 -1.4 0.2 -1.5 0.1 -1.3 0.1 -1.3 0.2 -1.1 0.1 -0.9 0.2 -0.6 0.1 -0.5 0.1 -0.1 0.2 0.2 0.1 0.5 0.2 0.8 0.1 1.2 0.1 1.4 0.2 1.8 0.1 2 0.2 2.3 0.1 2.4 0.1 2.7 0.2 2.8 0.1 2.9 0.2 2.9 0.1 2.9 0.2 3 0.1 2.8 0.1 2.7 0.2 2.5 0.1 2.4 0.2 2 0.1 1.8 0.1 1.5 0.2 1.1 0.1 0.7 0.2 0.4 0.1 0 0.1 -0.4 0.2 -0.7 0.1 -0.9 0.2 -1.3 0.1 -1.4 0.2 -1.5 0.1 -1.6 0.1 -1.6 0.2 -1.6 0.1 -1.4 0.2 -1.3 0.1 -1.1 0.1 -0.9 0.2 -0.7 0.1 -0.5 0.2 -0.3 0.1 -0.2 0.1 0 0.2 0.1 0.1 0 0.2 0.1 0.1 0.1 0.1 -0.1 0.2 -0.1 0.1 -0.3 0.2 -0.4 0.1 -0.5 0.2 -0.6 0.1 -0.8 0.1 -0.8 0.2 -0.9 0.1 -1 0.2 -1 0.1 -1.1 0.1 -1 0.2 -1.1 0.1 -1.2 0.2 -1.1 0.1 -1.2 0.1 -1.3 0.2 -1.3 0.1 -1.3 0.2 -1.3 0.1 -1.4 0.2 -1.5 0.1 -1.4 0.1 -1.3 0.2 -1.3 0.1 -1.2 0.2 -1 0.1 -0.9 0.1 -0.6 0.2 -0.4 0.1 -0.1 0.2 0.1 0.1 0.5 0.1 0.8 0.2 1.2 0.1 1.4 0.2 1.7 0.1 1.9 0.1 2.2 0.2 2.4 0.1 2.6 0.2 2.6 0.1 2.8 0.2 2.8 0.1 2.9 0.1 2.8 0.2 2.7 0.1 2.6 0.2 2.4 0.1 2.2 0.1 2 0.2 1.7 0.1 1.4 0.2 1.1 0.1 0.6 0.1 0.4 0.2 0 0.1 -0.4 0.2 -0.7 0.1 -0.9 0.2 -1.2 0.1 -1.4 0.1 -1.4 0.2 -1.6 0.1 -1.5 0.2 -1.5 0.1 -1.4 0.1 -1.2 0.2 -1.1 0.1 -0.9 0.2 -0.6 0.1 -0.5 0.1 -0.3 0.2 -0.1 0.1 0 0.2 0 0.1 0.1 0.1 0.1 0.2 0 0.1 0 0.2 -0.2 0.1 -0.2 0.2 -0.4 0.1 -0.5 0.1 -0.6 0.2 -0.7 0.1 -0.9 0.2 -0.8 0.1 -1 0.1 -1 0.2 -1 0.1 -1 0.2 -1.1 0.1 -1.1 0.1 -1.1 0.2 -1.1 0.1 -1.2 0.2 -1.3 0.1 -1.2 0.2 -1.4 0.1 -1.3 0.1 -1.4 0.2 -1.3 0.1 -1.3 0.2 -1.3 0.1 -1.1 0.1 -1 0.2 -0.8 0.1 -0.6 0.2 -0.4 0.1 -0.1 0.1 0.2 0.2 0.5 0.1 0.8 0.2 1.1 0.1 1.3 0.1 1.7 0.2 1.9 0.1 2.1 0.2 2.3 0.1 2.5 0.2 2.6 0.1 2.7 0.1 2.7 0.2 2.7 0.1 2.7 0.2 2.6 0.1 2.5 0.1 2.3 0.2 2.2 0.1 1.9 0.2 1.6 0.1 1.3 0.1 1 0.2 0.6 0.1 0.3 0.2 0 0.1 -0.3 0.2 -0.7 0.1 -0.9 0.1 -1.2 0.2 -1.3 0.1 -1.4 0.2 -1.5 0.1 -1.5 0.1 -1.4 0.2 -1.4 0.1 -1.2 0.2 -1 0.1 -0.8 0.1 -0.6 0.2 -0.4 0.1 -0.3 0.2 -0.1 0.1 -0.1 0.1 0.1 0.2 0.1 0.1 0.1 0.2 0 0.1 -0.1 0.2 -0.1 0.1 -0.3 0.1 -0.3 0.2 -0.5 0.1 -0.6 0.2 -0.7 0.1 -0.8 0.1 -0.9 0.2 -0.9 0.1 -0.9 0.2 -1 0.1 -1 0.1 -1 0.2 -1.1 0.1 -1.1 0.2 -1.1 0.1 -1.1 0.2 -1.2 0.1 -1.3 0.1 -1.2 0.2 -1.3 0.1 -1.3 0.2 -1.3 0.1 -1.3 0.1 -1.2 0.2 -1.1 0.1 -0.9 0.2 -0.8 0.1 -0.6 0.1 -0.3 0.2 -0.1 0.1 0.2 0.2 0.5 0.1 0.8 0.1 1 0.2 1.4 0.1 1.6 0.2 1.8 0.1 2.1 0.2 2.2 0.1 2.4 0.1 2.5 0.2 2.6 0.1 2.6 0.2 2.6 0.1 2.6 0.1 2.5 0.2 2.4 0.1 2.3 0.2 2 0.1 1.8 0.1 1.6 0.2 1.2 0.1 1 0.2 0.6 0.1 0.3 0.2 -0.1 0.1 -0.3 0.1 -0.7 0.2 -0.9 0.1 -1.1 0.2 -1.3 0.1 -1.4 0.1 -1.4 0.2 -1.5 0.1 -1.3 0.2 -1.3 0.1 -1.1 0.1 -1 0.2 -0.8 0.1 -0.6 0.2 -0.4 0.1 -0.2 0.1 -0.2 0.2 0 0.1 0.1 0.2 0.1 0.1 0 0.2 0.1 0.1 -0.1 0.1 -0.1 0.2 -0.3 0.1 -0.4 0.2 -0.4 0.1 -0.6 0.1 -0.7 0.2 -0.8 0.1 -0.8 0.2 -0.9 0.1 -0.9 0.1 -0.9 0.2 -1 0.1 -1 0.2 -1 0.1 -1 0.2 -1.1 0.1 -1.1 0.1 -1.2 0.2 -1.2 0.1 -1.2 0.2 -1.3 0.1 -1.2 0.1 -1.3 0.2 -1.2 0.1 -1.2 0.2 -1 0.1 -0.9 0.1 -0.8 0.2 -0.5 0.1 -0.3 0.2 -0.1 0.1 0.2 0.1 0.5 0.2 0.8 0.1 1 0.2 1.3 0.1 1.6 0.2 1.8 0.1 2 0.1 2.1 0.2 2.3 0.1 2.5 0.2 2.5 0.1 2.5 0.1 2.5 0.2 2.5 0.1 2.5 0.2 2.3 0.1 2.1 0.1 2 0.2 1.7 0.1 1.5 0.2 1.2 0.1 0.9 0.2 0.6 0.1 0.2 0.1 0 0.2 -0.4 0.1 -0.6 0.2 -0.9 0.1 -1.1 0.1 -1.3 0.2 -1.3 0.1 -1.4 0.2 -1.4 0.1 -1.3 0.1 -1.2 0.2 -1.1 0.1 -0.9 0.2 -0.8 0.1 -0.5 0.1 -0.4 0.2 -0.3 0.1 -0.1 0.2 0 0.1 0.1 0.2 0.1 0.1 0 0.1 0 0.2 0 0.1 -0.2 0.2 -0.2 0.1 -0.4 0.1 -0.4 0.2 -0.6 0.1 -0.7 0.2 -0.7 0.1 -0.8 0.1 -0.8 0.2 -0.9 0.1 -1 0.2 -0.9 0.1 -1 0.2 -0.9 0.1 -1 0.1 -1.1 0.2 -1.1 0.1 -1.1 0.2 -1.1 0.1 -1.2 0.1 -1.2 0.2 -1.3 0.1 -1.2 0.2 -1.1 0.1 -1.2 0.1 -1 0.2 -0.8 0.1 -0.7 0.2 -0.6 0.1 -0.3 0.1 0 0.2 0.2 0.1 0.5 0.2 0.7 0.1 1.1 0.2 1.2 0.1 1.6 0.1 1.7 0.2 1.9 0.1 2.1 0.2 2.3 0.1 2.3" stroke="#000" stroke-width="2.1"/>
<path d="M46.0 338.1l0.1 13.1 0.2 12.6 0.1 12 0.2 11.4 0.1 10.6 0.1 9.7 0.2 8.7 0.1 7.6 0.2 6.3 0.1 5.1 0.2 3.8 0.1 2.5 0.1 1.5 0.2 0.7 0.1 -0.3 0.2 -1.1 0.1 -1.9 0.1 -2.6 0.2 -3.2 0.1 -3.6 0.2 -3.9 0.1 -4 0.1 -3.9 0.2 -3.8 0.1 -3.5 0.2 -3 0.1 -2.7 0.1 -2 0.2 -1.6 0.1 -1.1 0.2 -0.7 0.1 -0.3 0.2 0 0.1 0.2 0.1 0.2 0.2 0.2 0.1 0 0.2 -0.2 0.1 -0.4 0.1 -0.7 0.2 -1 0.1 -1.4 0.2 -1.6 0.1 -1.8 0.1 -2.1 0.2 -2.3 0.1 -2.3 0.2 -2.5 0.1 -2.6 0.2 -2.6 0.1 -2.7 0.1 -2.7 0.2 -2.8 0.1 -2.9 0.2 -3 0.1 -3.1 0.1 -3.1 0.2 -3.3 0.1 -3.4 0.2 -3.3 0.1 -3.3 0.1 -3.2 0.2 -3 0.1 -2.8 0.2 -2.3 0.1 -1.9 0.1 -1.3 0.2 -0.8 0.1 0 0.2 0.6 0.1 1.4 0.2 2.2 0.1 2.8 0.1 3.6 0.2 4.2 0.1 4.9 0.2 5.3 0.1 5.8 0.1 6.1 0.2 6.5 0.1 6.6 0.2 6.7 0.1 6.6 0.1 6.6 0.2 6.3 0.1 6 0.2 5.6 0.1 5.1 0.2 4.5 0.1 3.7 0.1 3.1 0.2 2.2 0.1 1.4 0.2 0.5 0.1 -0.2 0.1 -1.1 0.2 -1.8 0.1 -2.4 0.2 -2.9 0.1 -3.3 0.1 -3.5 0.2 -3.6 0.1 -3.6 0.2 -3.5 0.1 -3.1 0.1 -2.8 0.2 -2.3 0.1 -1.9 0.2 -1.4 0.1 -1 0.2 -0.6 0.1 -0.2 0.1 -0.1 0.2 0.2 0.1 0.2 0.2 0.1 0.1 0.1 0.1 -0.2 0.2 -0.4 0.1 -0.6 0.2 -1 0.1 -1.2 0.1 -1.5 0.2 -1.7 0.1 -1.9 0.2 -2.1 0.1 -2.2 0.2 -2.2 0.1 -2.4 0.1 -2.4 0.2 -2.4 0.1 -2.5 0.2 -2.6 0.1 -2.6 0.1 -2.8 0.2 -2.8 0.1 -2.9 0.2 -3 0.1 -3.1 0.1 -3.1 0.2 -3 0.1 -2.9 0.2 -2.8 0.1 -2.4 0.1 -2.2 0.2 -1.7 0.1 -1.2 0.2 -0.6 0.1 -0.1 0.2 0.7 0.1 1.3 0.1 2 0.2 2.6 0.1 3.3 0.2 3.9 0.1 4.4 0.1 5 0.2 5.3 0.1 5.6 0.2 5.9 0.1 6.1 0.1 6.1 0.2 6.1 0.1 6 0.2 5.8 0.1 5.5 0.2 5.1 0.1 4.7 0.1 4 0.2 3.5 0.1 2.7 0.2 2 0.1 1.3 0.1 0.5 0.2 -0.3 0.1 -1 0.2 -1.7 0.1 -2.2 0.1 -2.7 0.2 -3 0.1 -3.3 0.2 -3.3 0.1 -3.3 0.1 -3.1 0.2 -2.9 0.1 -2.6 0.2 -2.1 0.1 -1.7 0.2 -1.3 0.1 -0.9 0.1 -0.5 0.2 -0.2 0.1 0 0.2 0.1 0.1 0.2 0.1 0.2 0.2 0 0.1 -0.2 0.2 -0.3 0.1 -0.7 0.1 -0.9 0.2 -1.1 0.1 -1.4 0.2 -1.6 0.1 -1.7 0.2 -1.9 0.1 -2 0.1 -2.1 0.2 -2.2 0.1 -2.2 0.2 -2.3 0.1 -2.3 0.1 -2.3 0.2 -2.5 0.1 -2.5 0.2 -2.6 0.1 -2.7 0.1 -2.8 0.2 -2.8 0.1 -2.8 0.2 -2.8 0.1 -2.7 0.1 -2.6 0.2 -2.2 0.1 -2 0.2 -1.5 0.1 -1.1 0.2 -0.6 0.1 0 0.1 0.6 0.2 1.2 0.1 1.9 0.2 2.5 0.1 3 0.1 3.7 0.2 4.1 0.1 4.5 0.2 4.9 0.1 5.3 0.1 5.4 0.2 5.6 0.1 5.7 0.2 5.6 0.1 5.6 0.2 5.3 0.1 5.1 0.1 4.7 0.2 4.2 0.1 3.8 0.2 3.1 0.1 2.5 0.1 1.8 0.2 1.2 0.1 0.4 0.2 -0.3 0.1 -1 0.1 -1.5 0.2 -2.1 0.1 -2.5 0.2 -2.8 0.1 -3 0.1 -3.1 0.2 -3.1 0.1 -2.9 0.2 -2.6 0.1 -2.3 0.2 -2 0.1 -1.6 0.1 -1.1 0.2 -0.8 0.1 -0.5 0.2 -0.2 0.1 0.1 0.1 0.1 0.2 0.2 0.1 0.1 0.2 0 0.1 -0.2 0.1 -0.3 0.2 -0.6 0.1 -0.8 0.2 -1.1 0.1 -1.3 0.2 -1.5 0.1 -1.6 0.1 -1.8 0.2 -1.9 0.1 -1.9 0.2 -2 0.1 -2 0.1 -2.1 0.2 -2.2 0.1 -2.2 0.2 -2.2 0.1 -2.4 0.1 -2.4 0.2 -2.5 0.1 -2.6 0.2 -2.6 0.1 -2.7 0.1 -2.5 0.2 -2.5 0.1 -2.4 0.2 -2.1 0.1 -1.8 0.2 -1.4 0.1 -1 0.1 -0.5 0.2 0 0.1 0.6 0.2 1.2 0.1 1.7 0.1 2.4 0.2 2.8 0.1 3.4 0.2 3.8 0.1 4.3 0.1 4.6 0.2 4.8 0.1 5.1 0.2 5.2 0.1 5.3 0.2 5.2 0.1 5.1 0.1 5 0.2 4.7 0.1 4.3 0.2 4 0.1 3.4 0.1 2.9 0.2 2.3 0.1 1.7 0.2 1 0.1 0.3 0.1 -0.3 0.2 -0.9 0.1 -1.5 0.2 -1.9 0.1 -2.3 0.1 -2.7 0.2 -2.8 0.1 -2.8 0.2 -2.9 0.1 -2.6 0.2 -2.5 0.1 -2.1 0.1 -1.8 0.2 -1.5 0.1 -1 0.2 -0.8 0.1 -0.4 0.1 -0.1 0.2 0 0.1 0.1 0.2 0.2 0.1 0.1 0.1 0 0.2 -0.2 0.1 -0.3 0.2 -0.6 0.1 -0.8 0.2 -1 0.1 -1.2 0.1 -1.4 0.2 -1.5 0.1 -1.6 0.2 -1.8 0.1 -1.8 0.1 -1.9 0.2 -1.9 0.1 -1.9 0.2 -2 0.1 -2.1 0.1 -2.1 0.2 -2.2 0.1 -2.3 0.2 -2.3 0.1 -2.4 0.1 -2.4 0.2 -2.5 0.1 -2.4 0.2 -2.3 0.1 -2.2 0.2 -2 0.1 -1.6 0.1 -1.3 0.2 -0.9 0.1 -0.5 0.2 0.1 0.1 0.5 0.1 1.1 0.2 1.7 0.1 2.2 0.2 2.7 0.1 3.2 0.1 3.6 0.2 3.9 0.1 4.3 0.2 4.6 0.1 4.7 0.2 4.9 0.1 4.9 0.1 4.9 0.2 4.8 0.1 4.6 0.2 4.3 0.1 4.1 0.1 3.6 0.2 3.2 0.1 2.7 0.2 2.1 0.1 1.6 0.1 0.9 0.2 0.3 0.1 -0.3 0.2 -0.9 0.1 -1.4 0.1 -1.9 0.2 -2.2 0.1 -2.4 0.2 -2.6 0.1 -2.7 0.2 -2.6 0.1 -2.5 0.1 -2.3 0.2 -2 0.1 -1.7 0.2 -1.3 0.1 -1 0.1 -0.6 0.2 -0.4 0.1 -0.1 0.2 0 0.1 0.1 0.1 0.1 0.2 0.1 0.1 0 0.2 -0.1 0.1 -0.3 0.2 -0.6 0.1 -0.7 0.1 -1 0.2 -1.1 0.1 -1.3 0.2 -1.4 0.1 -1.6 0.1 -1.6 0.2 -1.7 0.1 -1.8 0.2 -1.8 0.1 -1.8 0.1 -1.9 0.2 -1.9 0.1 -2 0.2 -2 0.1 -2.2 0.1 -2.2 0.2 -2.2 0.1 -2.3 0.2 -2.3 0.1 -2.3 0.2 -2.2 0.1 -2 0.1 -1.8 0.2 -1.5 0.1 -1.3 0.2 -0.8 0.1 -0.4 0.1 0.1 0.2 0.5 0.1 1.1 0.2 1.6 0.1 2.1 0.1 2.5 0.2 3 0.1 3.4 0.2 3.7 0.1 4.1 0.2 4.2 0.1 4.5 0.1 4.6 0.2 4.6 0.1 4.5 0.2 4.5 0.1 4.3 0.1 4.1 0.2 3.8 0.1 3.4 0.2 3 0.1 2.5 0.1 1.9 0.2 1.4 0.1 0.9 0.2 0.2 0.1 -0.3 0.1 -0.9 0.2 -1.3 0.1 -1.7 0.2 -2.1 0.1 -2.3 0.2 -2.5 0.1 -2.5 0.1 -2.5 0.2 -2.3 0.1 -2.1 0.2 -1.9 0.1 -1.5 0.1 -1.3 0.2 -0.9 0.1 -0.6 0.2 -0.3 0.1 -0.1 0.1 0 0.2 0.1 0.1 0.2 0.2 0.1 0.1 0 0.2 -0.2 0.1 -0.3 0.1 -0.5 0.2 -0.7 0.1 -0.9 0.2 -1.1 0.1 -1.2 0.1 -1.4 0.2 -1.5 0.1 -1.5 0.2 -1.6 0.1 -1.7 0.1 -1.6 0.2 -1.8 0.1 -1.7 0.2 -1.8 0.1 -1.9 0.1 -1.9 0.2 -2.1 0.1 -2 0.2 -2.1 0.1 -2.2 0.2 -2.2 0.1 -2.1 0.1 -2 0.2 -1.9 0.1 -1.7 0.2 -1.5 0.1 -1.1 0.1 -0.8 0.2 -0.3 0.1 0.1 0.2 0.5 0.1 1 0.1 1.6 0.2 1.9 0.1 2.4 0.2 2.9 0.1 3.2 0.2 3.5 0.1 3.8 0.1 4.1 0.2 4.2 0.1 4.3 0.2 4.3 0.1 4.3 0.1 4.2 0.2 4.1 0.1 3.8 0.2 3.5 0.1 3.2 0.1 2.8 0.2 2.3 0.1 1.9 0.2 1.3 0.1 0.7 0.1 0.2 0.2 -0.3 0.1 -0.8 0.2 -1.3 0.1 -1.7 0.2 -1.9 0.1 -2.2 0.1 -2.4 0.2 -2.3 0.1 -2.3 0.2 -2.2 0.1 -2 0.1 -1.8 0.2 -1.4 0.1 -1.1 0.2 -0.9 0.1 -0.5 0.1 -0.3 0.2 -0.1 0.1 0 0.2 0.1 0.1 0.1 0.2 0.1 0.1 0 0.1 -0.1 0.2 -0.3 0.1 -0.5 0.2 -0.7 0.1 -0.9 0.1 -1 0.2 -1.2 0.1 -1.3 0.2 -1.3 0.1 -1.5 0.1 -1.5 0.2 -1.6 0.1 -1.6 0.2 -1.6 0.1 -1.6 0.1 -1.8 0.2 -1.7 0.1 -1.9 0.2 -1.9 0.1 -1.9 0.2 -2 0.1 -2.1 0.1 -2 0.2 -2 0.1 -1.9 0.2 -1.8 0.1 -1.6 0.1 -1.3 0.2 -1.1 0.1 -0.7 0.2 -0.3 0.1 0.1 0.1 0.5 0.2 1 0.1 1.5 0.2 1.8 0.1 2.3 0.2 2.7 0.1 3.1 0.1 3.3 0.2 3.6 0.1 3.9 0.2 3.9 0.1 4.1 0.1 4.1 0.2 4 0.1 4 0.2 3.8 0.1 3.6 0.1 3.4 0.2 3 0.1 2.6 0.2 2.2 0.1 1.7 0.1 1.2 0.2 0.6 0.1 0.2 0.2 -0.3 0.1 -0.8 0.2 -1.2 0.1 -1.6 0.1 -1.9 0.2 -2.1 0.1 -2.2 0.2 -2.2 0.1 -2.2 0.1 -2.1 0.2 -1.8 0.1 -1.7 0.2 -1.3 0.1 -1.1 0.1 -0.7 0.2 -0.6 0.1 -0.2 0.2 -0.1 0.1 0 0.2 0.1 0.1 0.1 0.1 0.1 0.2 0 0.1 -0.1 0.2 -0.3 0.1 -0.5 0.1 -0.7 0.2 -0.8 0.1 -1 0.2 -1.1 0.1 -1.2 0.1 -1.3 0.2 -1.4 0.1 -1.4 0.2 -1.5 0.1 -1.5 0.1 -1.5 0.2 -1.6 0.1 -1.7 0.2 -1.6 0.1 -1.8 0.2 -1.8 0.1 -1.8 0.1 -1.9 0.2 -2 0.1 -1.9 0.2 -1.9 0.1 -1.8 0.1 -1.7 0.2 -1.5 0.1 -1.2 0.2 -1 0.1 -0.7 0.1 -0.3 0.2 0.2 0.1 0.5 0.2 0.9 0.1 1.4 0.2 1.8 0.1 2.2 0.1 2.6 0.2 2.9 0.1 3.2 0.2 3.4 0.1 3.6 0.1 3.8 0.2 3.9 0.1 3.8 0.2 3.9 0.1 3.7 0.1 3.7 0.2 3.4 0.1 3.1 0.2 2.8 0.1 2.5 0.1 2 0.2 1.6 0.1 1.1 0.2 0.6 0.1 0.2 0.2 -0.3 0.1 -0.8 0.1 -1.2 0.2 -1.5 0.1 -1.8 0.2 -2 0.1 -2.1 0.1 -2.1 0.2 -2.1 0.1 -1.9 0.2 -1.8 0.1 -1.5 0.1 -1.3 0.2 -1 0.1 -0.7 0.2 -0.4 0.1 -0.3 0.2 -0.1 0.1 0.1 0.1 0.1 0.2 0.1 0.1 0 0.2 0 0.1 -0.1 0.1 -0.3 0.2 -0.5 0.1 -0.6 0.2 -0.8 0.1 -0.9 0.1 -1.1 0.2 -1.1 0.1 -1.3 0.2 -1.3 0.1 -1.4 0.1 -1.4 0.2 -1.4 0.1 -1.5 0.2 -1.5 0.1 -1.5 0.2 -1.6 0.1 -1.7 0.1 -1.7 0.2 -1.7 0.1 -1.8 0.2 -1.9 0.1 -1.8 0.1 -1.8 0.2 -1.7 0.1 -1.6 0.2 -1.4 0.1 -1.2 0.1 -0.9 0.2 -0.6 0.1 -0.3 0.2 0.1 0.1 0.6 0.2 0.9 0.1 1.3 0.1 1.8 0.2 2.1 0.1 2.4 0.2 2.8 0.1 3 0.1 3.3 0.2 3.4 0.1 3.6 0.2 3.7 0.1 3.7 0.1 3.6 0.2 3.6 0.1 3.4 0.2 3.2 0.1 3 0.1 2.7 0.2 2.3 0.1 1.9 0.2 1.5 0.1 1 0.2 0.6 0.1 0.1 0.1 -0.3 0.2 -0.8 0.1 -1.1 0.2 -1.5 0.1 -1.7 0.1 -1.9 0.2 -2 0.1 -2 0.2 -1.9 0.1 -1.9 0.1 -1.6 0.2 -1.5 0.1 -1.2 0.2 -0.9 0.1 -0.7 0.2 -0.4 0.1 -0.2 0.1 -0.1 0.2 0 0.1 0.1 0.2 0.1 0.1 0.1 0.1 0 0.2 -0.2 0.1 -0.3 0.2 -0.4 0.1 -0.6 0.1 -0.8 0.2 -0.8 0.1 -1.1 0.2 -1.1 0.1 -1.2 0.1 -1.2 0.2 -1.3 0.1 -1.4 0.2 -1.3 0.1 -1.4 0.2 -1.4 0.1 -1.5 0.1 -1.5 0.2 -1.6 0.1 -1.6 0.2 -1.7 0.1 -1.8 0.1 -1.7 0.2 -1.7 0.1 -1.8 0.2 -1.6 0.1 -1.5 0.1 -1.3 0.2 -1.1 0.1 -0.9 0.2 -0.6 0.1 -0.2 0.2 0.1 0.1 0.6 0.1 0.9 0.2 1.3 0.1 1.6 0.2 2 0.1 2.4 0.1 2.6 0.2 3 0.1 3.1 0.2 3.3 0.1 3.4 0.1 3.5 0.2 3.5 0.1 3.4 0.2 3.4 0.1 3.3 0.1 3.1 0.2 2.8 0.1 2.5 0.2 2.2 0.1 1.8 0.2 1.4 0.1 1 0.1 0.5 0.2 0.1 0.1 -0.4 0.2 -0.7 0.1 -1.1 0.1 -1.4 0.2 -1.6 0.1 -1.9 0.2 -1.8 0.1 -2 0.1 -1.8 0.2 -1.8 0.1 -1.6 0.2 -1.3 0.1 -1.1 0.2 -0.9 0.1 -0.6 0.1 -0.5 0.2 -0.2 0.1 0 0.2 0 0.1 0.1 0.1 0.1 0.2 0.1 0.1 0 0.2 -0.2 0.1 -0.3 0.1 -0.4 0.2 -0.6 0.1 -0.7 0.2 -0.9 0.1 -0.9 0.1 -1.1 0.2 -1.1 0.1 -1.2 0.2 -1.3 0.1 -1.3 0.2 -1.3 0.1 -1.3 0.1 -1.4 0.2 -1.4 0.1 -1.4 0.2 -1.5 0.1 -1.6 0.1 -1.6 0.2 -1.6 0.1 -1.7 0.2 -1.7 0.1 -1.6 0.1 -1.6 0.2 -1.4 0.1 -1.3 0.2 -1 0.1 -0.8 0.2 -0.5 0.1 -0.2 0.1 0.1 0.2 0.5 0.1 0.9 0.2 1.2 0.1 1.7 0.1 1.9 0.2 2.3 0.1 2.5 0.2 2.8 0.1 3 0.1 3.1 0.2 3.3 0.1 3.3 0.2 3.4 0.1 3.3 0.1 3.2 0.2 3.1 0.1 2.9 0.2 2.7 0.1 2.4 0.2 2.1 0.1 1.7 0.1 1.3 0.2 0.9 0.1 0.5 0.2 0 0.1 -0.3 0.1 -0.7 0.2 -1.1 0.1 -1.3 0.2 -1.6 0.1 -1.7 0.1 -1.9 0.2 -1.8 0.1 -1.8 0.2 -1.6 0.1 -1.5 0.2 -1.3 0.1 -1.1 0.1 -0.8 0.2 -0.6 0.1 -0.4 0.2 -0.2 0.1 0 0.1 0 0.2 0.1 0.1 0.1 0.2 0.1 0.1 -0.1 0.1 -0.1 0.2 -0.3 0.1 -0.4 0.2 -0.6 0.1 -0.7 0.1 -0.8 0.2 -0.9 0.1 -1 0.2 -1.1 0.1 -1.2 0.2 -1.2 0.1 -1.2 0.1 -1.2 0.2 -1.3 0.1 -1.3 0.2 -1.4 0.1 -1.4 0.1 -1.4 0.2 -1.5 0.1 -1.5 0.2 -1.6 0.1 -1.6 0.1 -1.6 0.2 -1.5 0.1 -1.5 0.2 -1.4 0.1 -1.2 0.2 -1 0.1 -0.8 0.1 -0.4 0.2 -0.2 0.1 0.1 0.2 0.5 0.1 0.9 0.1 1.2 0.2 1.6 0.1 1.9 0.2 2.1 0.1 2.5 0.1 2.6 0.2 2.9 0.1 3 0.2 3.1 0.1 3.2 0.1 3.2 0.2 3.2 0.1 3.1 0.2 3 0.1 2.7 0.2 2.6 0.1 2.3 0.1 1.9 0.2 1.6 0.1 1.3 0.2 0.8 0.1 0.5 0.1 0 0.2 -0.3 0.1 -0.8 0.2 -1 0.1 -1.3 0.1 -1.5 0.2 -1.7 0.1 -1.7 0.2 -1.8 0.1 -1.6 0.2 -1.6 0.1 -1.5 0.1 -1.2 0.2 -1 0.1 -0.8 0.2 -0.5 0.1 -0.4 0.1 -0.1 0.2 -0.1 0.1 0.1 0.2 0.1 0.1 0 0.1 0.1 0.2 0 0.1 -0.2 0.2 -0.3 0.1 -0.4 0.1 -0.5 0.2 -0.7 0.1 -0.8 0.2 -0.9 0.1 -1 0.2 -1 0.1 -1.1 0.1 -1.2 0.2 -1.1 0.1 -1.2 0.2 -1.2 0.1 -1.3 0.1 -1.3 0.2 -1.3 0.1 -1.4 0.2 -1.4 0.1 -1.5 0.1 -1.5 0.2 -1.6 0.1 -1.5 0.2 -1.5 0.1 -1.4 0.2 -1.3 0.1 -1.1 0.1 -1 0.2 -0.7 0.1 -0.4 0.2 -0.2 0.1 0.2 0.1 0.5 0.2 0.8 0.1 1.2 0.2 1.5 0.1 1.8 0.1 2.1 0.2 2.4 0.1 2.5 0.2 2.8 0.1 2.9 0.1 3 0.2 3 0.1 3.1 0.2 3 0.1 3 0.2 2.8 0.1 2.7 0.1 2.4 0.2 2.2 0.1 1.8 0.2 1.6 0.1 1.1 0.1 0.8 0.2 0.4 0.1 0.1 0.2 -0.4 0.1 -0.7 0.1 -1 0.2 -1.3 0.1 -1.4 0.2 -1.6 0.1 -1.7 0.2 -1.7 0.1 -1.6 0.1 -1.5 0.2 -1.3 0.1 -1.2 0.2 -1 0.1 -0.7 0.1 -0.5 0.2 -0.3 0.1 -0.2 0.2 0 0.1 0 0.1 0.1 0.2 0.1 0.1 0 0.2 0 0.1 -0.2 0.1 -0.2 0.2 -0.4 0.1 -0.6 0.2 -0.6 0.1 -0.8 0.2 -0.8 0.1 -1 0.1 -1 0.2 -1.1 0.1 -1.1 0.2 -1.1 0.1 -1.1 0.1 -1.2 0.2 -1.2 0.1 -1.2 0.2 -1.3 0.1 -1.4 0.1 -1.3 0.2 -1.5 0.1 -1.4 0.2 -1.5 0.1 -1.4 0.2 -1.5 0.1 -1.3 0.1 -1.3 0.2 -1.1 0.1 -0.9 0.2 -0.6 0.1 -0.5 0.1 -0.1 0.2 0.2 0.1 0.5 0.2 0.8 0.1 1.2 0.1 1.4 0.2 1.8 0.1 2 0.2 2.3 0.1 2.4 0.1 2.7 0.2 2.8 0.1 2.9 0.2 2.9 0.1 2.9 0.2 3 0.1 2.8 0.1 2.7 0.2 2.5 0.1 2.4 0.2 2 0.1 1.8 0.1 1.5 0.2 1.1 0.1 0.7 0.2 0.4 0.1 0 0.1 -0.4 0.2 -0.7 0.1 -0.9 0.2 -1.3 0.1 -1.4 0.2 -1.5 0.1 -1.6 0.1 -1.6 0.2 -1.6 0.1 -1.4 0.2 -1.3 0.1 -1.1 0.1 -0.9 0.2 -0.7 0.1 -0.5 0.2 -0.3 0.1 -0.2 0.1 0 0.2 0.1 0.1 0 0.2 0.1 0.1 0.1 0.1 -0.1 0.2 -0.1 0.1 -0.3 0.2 -0.4 0.1 -0.5 0.2 -0.6 0.1 -0.8 0.1 -0.8 0.2 -0.9 0.1 -1 0.2 -1 0.1 -1.1 0.1 -1 0.2 -1.1 0.1 -1.2 0.2 -1.1 0.1 -1.2 0.1 -1.3 0.2 -1.3 0.1 -1.3 0.2 -1.3 0.1 -1.4 0.2 -1.5 0.1 -1.4 0.1 -1.3 0.2 -1.3 0.1 -1.2 0.2 -1 0.1 -0.9 0.1 -0.6 0.2 -0.4 0.1 -0.1 0.2 0.1 0.1 0.5 0.1 0.8 0.2 1.2 0.1 1.4 0.2 1.7 0.1 1.9 0.1 2.2 0.2 2.4 0.1 2.6 0.2 2.6 0.1 2.8 0.2 2.8 0.1 2.9 0.1 2.8 0.2 2.7 0.1 2.6 0.2 2.4 0.1 2.2 0.1 2 0.2 1.7 0.1 1.4 0.2 1.1 0.1 0.6 0.1 0.4 0.2 0 0.1 -0.4 0.2 -0.7 0.1 -0.9 0.2 -1.2 0.1 -1.4 0.1 -1.4 0.2 -1.6 0.1 -1.5 0.2 -1.5 0.1 -1.4 0.1 -1.2 0.2 -1.1 0.1 -0.9 0.2 -0.6 0.1 -0.5 0.1 -0.3 0.2 -0.1 0.1 0 0.2 0 0.1 0.1 0.1 0.1 0.2 0 0.1 0 0.2 -0.2 0.1 -0.2 0.2 -0.4 0.1 -0.5 0.1 -0.6 0.2 -0.7 0.1 -0.9 0.2 -0.8 0.1 -1 0.1 -1 0.2 -1 0.1 -1 0.2 -1.1 0.1 -1.1 0.1 -1.1 0.2 -1.1 0.1 -1.2 0.2 -1.3 0.1 -1.2 0.2 -1.4 0.1 -1.3 0.1 -1.4 0.2 -1.3 0.1 -1.3 0.2 -1.3 0.1 -1.1 0.1 -1 0.2 -0.8 0.1 -0.6 0.2 -0.4 0.1 -0.1 0.1 0.2 0.2 0.5 0.1 0.8 0.2 1.1 0.1 1.3 0.1 1.7 0.2 1.9 0.1 2.1 0.2 2.3 0.1 2.5 0.2 2.6 0.1 2.7 0.1 2.7 0.2 2.7 0.1 2.7 0.2 2.6 0.1 2.5 0.1 2.3 0.2 2.2 0.1 1.9 0.2 1.6 0.1 1.3 0.1 1 0.2 0.6 0.1 0.3 0.2 0 0.1 -0.3 0.2 -0.7 0.1 -0.9 0.1 -1.2 0.2 -1.3 0.1 -1.4 0.2 -1.5 0.1 -1.5 0.1 -1.4 0.2 -1.4 0.1 -1.2 0.2 -1 0.1 -0.8 0.1 -0.6 0.2 -0.4 0.1 -0.3 0.2 -0.1 0.1 -0.1 0.1 0.1 0.2 0.1 0.1 0.1 0.2 0 0.1 -0.1 0.2 -0.1 0.1 -0.3 0.1 -0.3 0.2 -0.5 0.1 -0.6 0.2 -0.7 0.1 -0.8 0.1 -0.9 0.2 -0.9 0.1 -0.9 0.2 -1 0.1 -1 0.1 -1 0.2 -1.1 0.1 -1.1 0.2 -1.1 0.1 -1.1 0.2 -1.2 0.1 -1.3 0.1 -1.2 0.2 -1.3 0.1 -1.3 0.2 -1.3 0.1 -1.3 0.1 -1.2 0.2 -1.1 0.1 -0.9 0.2 -0.8 0.1 -0.6 0.1 -0.3 0.2 -0.1 0.1 0.2 0.2 0.5 0.1 0.8 0.1 1 0.2 1.4 0.1 1.6 0.2 1.8 0.1 2.1 0.2 2.2 0.1 2.4 0.1 2.5 0.2 2.6 0.1 2.6 0.2 2.6 0.1 2.6 0.1 2.5 0.2 2.4 0.1 2.3 0.2 2 0.1 1.8 0.1 1.6 0.2 1.2 0.1 1 0.2 0.6 0.1 0.3 0.2 -0.1 0.1 -0.3 0.1 -0.7 0.2 -0.9 0.1 -1.1 0.2 -1.3 0.1 -1.4 0.1 -1.4 0.2 -1.5 0.1 -1.3 0.2 -1.3 0.1 -1.1 0.1 -1 0.2 -0.8 0.1 -0.6 0.2 -0.4 0.1 -0.2 0.1 -0.2 0.2 0 0.1 0.1 0.2 0.1 0.1 0 0.2 0.1 0.1 -0.1 0.1 -0.1 0.2 -0.3 0.1 -0.4 0.2 -0.4 0.1 -0.6 0.1 -0.7 0.2 -0.8 0.1 -0.8 0.2 -0.9 0.1 -0.9 0.1 -0.9 0.2 -1 0.1 -1 0.2 -1 0.1 -1 0.2 -1.1 0.1 -1.1 0.1 -1.2 0.2 -1.2 0.1 -1.2 0.2 -1.3 0.1 -1.2 0.1 -1.3 0.2 -1.2 0.1 -1.2 0.2 -1 0.1 -0.9 0.1 -0.8 0.2 -0.5 0.1 -0.3 0.2 -0.1 0.1 0.2 0.1 0.5 0.2 0.8 0.1 1 0.2 1.3 0.1 1.6 0.2 1.8 0.1 2 0.1 2.1 0.2 2.3 0.1 2.5 0.2 2.5 0.1 2.5 0.1 2.5 0.2 2.5 0.1 2.5 0.2 2.3 0.1 2.1 0.1 2 0.2 1.7 0.1 1.5 0.2 1.2 0.1 0.9 0.2 0.6 0.1 0.2 0.1 0 0.2 -0.4 0.1 -0.6 0.2 -0.9 0.1 -1.1 0.1 -1.3 0.2 -1.3 0.1 -1.4 0.2 -1.4 0.1 -1.3 0.1 -1.2 0.2 -1.1 0.1 -0.9 0.2 -0.8 0.1 -0.5 0.1 -0.4 0.2 -0.3 0.1 -0.1 0.2 0 0.1 0.1 0.2 0.1 0.1 0 0.1 0 0.2 0 0.1 -0.2 0.2 -0.2 0.1 -0.4 0.1 -0.4 0.2 -0.6 0.1 -0.7 0.2 -0.7 0.1 -0.8 0.1 -0.8 0.2 -0.9 0.1 -1 0.2 -0.9 0.1 -1 0.2 -0.9 0.1 -1 0.1 -1.1 0.2 -1.1 0.1 -1.1 0.2 -1.1 0.1 -1.2 0.1 -1.2 0.2 -1.3 0.1 -1.2 0.2 -1.1 0.1 -1.2 0.1 -1 0.2 -0.8 0.1 -0.7 0.2 -0.6 0.1 -0.3 0.1 0 0.2 0.2 0.1 0.5 0.2 0.7 0.1 1.1 0.2 1.2 0.1 1.6 0.1 1.7 0.2 1.9 0.1 2.1 0.2 2.3 0.1 2.3" stroke="#ff0000" stroke-width="2.1" stroke-dasharray="6.4 6.1"/>
</g>
<clipPath id="cd"><rect x="292.4" y="279.0" width="225.20000000000005" height="225.39999999999998"/></clipPath>
<g clip-path="url(#cd)" fill="none" stroke-linejoin="round">
<path d="M292.4 365.7l0.1 6.1 0.2 6.2 0.1 6.2 0.2 6.3 0.1 6.2 0.1 6.2 0.2 6.1 0.1 6 0.2 5.8 0.1 5.7 0.1 5.3 0.2 5.1 0.1 4.8 0.2 4.5 0.1 4.2 0.2 3.7 0.1 3.4 0.1 2.9 0.2 2.5 0.1 2 0.2 1.6 0.1 1.1 0.1 0.8 0.2 0.2 0.1 -0.2 0.2 -0.8 0.1 -1.2 0.1 -1.6 0.2 -2.2 0.1 -2.6 0.2 -3 0.1 -3.4 0.1 -3.8 0.2 -4.2 0.1 -4.6 0.2 -4.8 0.1 -5.1 0.2 -5.4 0.1 -5.5 0.1 -5.8 0.2 -5.9 0.1 -6 0.2 -6 0.1 -6.1 0.1 -6.1 0.2 -6.1 0.1 -5.9 0.2 -5.8 0.1 -5.7 0.1 -5.5 0.2 -5.2 0.1 -5 0.2 -4.7 0.1 -4.4 0.1 -4.1 0.2 -3.6 0.1 -3.3 0.2 -2.9 0.1 -2.4 0.2 -2 0.1 -1.6 0.1 -1 0.2 -0.7 0.1 -0.1 0.2 0.3 0.1 0.8 0.1 1.3 0.2 1.7 0.1 2.2 0.2 2.5 0.1 3 0.1 3.4 0.2 3.8 0.1 4.1 0.2 4.4 0.1 4.7 0.1 5 0.2 5.2 0.1 5.4 0.2 5.6 0.1 5.7 0.1 5.8 0.2 5.8 0.1 5.9 0.2 5.8 0.1 5.9 0.2 5.7 0.1 5.6 0.1 5.4 0.2 5.3 0.1 5 0.2 4.8 0.1 4.5 0.1 4.2 0.2 3.8 0.1 3.5 0.2 3.2 0.1 2.7 0.1 2.3 0.2 1.9 0.1 1.5 0.2 1 0.1 0.6 0.1 0.1 0.2 -0.3 0.1 -0.8 0.2 -1.2 0.1 -1.7 0.2 -2.1 0.1 -2.5 0.1 -2.8 0.2 -3.3 0.1 -3.6 0.2 -3.9 0.1 -4.3 0.1 -4.5 0.2 -4.8 0.1 -5 0.2 -5.1 0.1 -5.4 0.1 -5.4 0.2 -5.6 0.1 -5.6 0.2 -5.6 0.1 -5.6 0.1 -5.6 0.2 -5.4 0.1 -5.4 0.2 -5.2 0.1 -5 0.1 -4.9 0.2 -4.5 0.1 -4.3 0.2 -4 0.1 -3.7 0.2 -3.4 0.1 -3 0.1 -2.6 0.2 -2.2 0.1 -1.8 0.2 -1.4 0.1 -0.9 0.1 -0.6 0.2 -0.1 0.1 0.4 0.2 0.7 0.1 1.2 0.1 1.6 0.2 2 0.1 2.4 0.2 2.8 0.1 3.1 0.1 3.5 0.2 3.7 0.1 4.1 0.2 4.3 0.1 4.6 0.2 4.8 0.1 5 0.1 5.1 0.2 5.2 0.1 5.4 0.2 5.3 0.1 5.4 0.1 5.4 0.2 5.3 0.1 5.3 0.2 5.1 0.1 5 0.1 4.8 0.2 4.6 0.1 4.4 0.2 4.1 0.1 3.9 0.1 3.5 0.2 3.2 0.1 2.9 0.2 2.5 0.1 2.1 0.2 1.7 0.1 1.4 0.1 0.9 0.2 0.5 0.1 0.1 0.2 -0.3 0.1 -0.8 0.1 -1.1 0.2 -1.6 0.1 -1.9 0.2 -2.3 0.1 -2.7 0.1 -3 0.2 -3.3 0.1 -3.6 0.2 -3.9 0.1 -4.2 0.1 -4.4 0.2 -4.6 0.1 -4.8 0.2 -4.9 0.1 -5 0.1 -5.1 0.2 -5.2 0.1 -5.1 0.2 -5.2 0.1 -5.1 0.2 -5.1 0.1 -4.9 0.1 -4.8 0.2 -4.6 0.1 -4.4 0.2 -4.2 0.1 -4 0.1 -3.7 0.2 -3.3 0.1 -3.1 0.2 -2.8 0.1 -2.3 0.1 -2.1 0.2 -1.6 0.1 -1.3 0.2 -0.9 0.1 -0.4 0.1 -0.1 0.2 0.3 0.1 0.7 0.2 1.1 0.1 1.5 0.2 1.9 0.1 2.2 0.1 2.6 0.2 2.8 0.1 3.3 0.2 3.5 0.1 3.7 0.1 4 0.2 4.3 0.1 4.4 0.2 4.6 0.1 4.7 0.1 4.9 0.2 4.9 0.1 4.9 0.2 5 0.1 5 0.1 4.9 0.2 4.8 0.1 4.8 0.2 4.6 0.1 4.4 0.2 4.3 0.1 4 0.1 3.8 0.2 3.6 0.1 3.2 0.2 3 0.1 2.6 0.1 2.3 0.2 1.9 0.1 1.6 0.2 1.2 0.1 0.9 0.1 0.4 0.2 0.1 0.1 -0.3 0.2 -0.7 0.1 -1.1 0.1 -1.4 0.2 -1.8 0.1 -2.2 0.2 -2.4 0.1 -2.8 0.1 -3.1 0.2 -3.4 0.1 -3.6 0.2 -3.9 0.1 -4.1 0.2 -4.2 0.1 -4.5 0.1 -4.5 0.2 -4.7 0.1 -4.7 0.2 -4.8 0.1 -4.8 0.1 -4.7 0.2 -4.8 0.1 -4.6 0.2 -4.6 0.1 -4.4 0.1 -4.3 0.2 -4.1 0.1 -3.9 0.2 -3.6 0.1 -3.4 0.1 -3.2 0.2 -2.8 0.1 -2.5 0.2 -2.2 0.1 -1.9 0.2 -1.5 0.1 -1.2 0.1 -0.8 0.2 -0.4 0.1 -0.1 0.2 0.3 0.1 0.7 0.1 1.1 0.2 1.3 0.1 1.8 0.2 2.1 0.1 2.4 0.1 2.7 0.2 2.9 0.1 3.3 0.2 3.5 0.1 3.7 0.1 4 0.2 4.1 0.1 4.3 0.2 4.4 0.1 4.5 0.1 4.5 0.2 4.6 0.1 4.7 0.2 4.6 0.1 4.5 0.2 4.5 0.1 4.4 0.1 4.3 0.2 4.1 0.1 4 0.2 3.7 0.1 3.5 0.1 3.3 0.2 3 0.1 2.8 0.2 2.4 0.1 2.1 0.1 1.8 0.2 1.5 0.1 1.1 0.2 0.7 0.1 0.5 0.1 0 0.2 -0.3 0.1 -0.7 0.2 -1 0.1 -1.3 0.2 -1.7 0.1 -2 0.1 -2.3 0.2 -2.6 0.1 -2.9 0.2 -3.2 0.1 -3.4 0.1 -3.6 0.2 -3.8 0.1 -3.9 0.2 -4.2 0.1 -4.2 0.1 -4.3 0.2 -4.5 0.1 -4.4 0.2 -4.5 0.1 -4.4 0.1 -4.4 0.2 -4.4 0.1 -4.2 0.2 -4.1 0.1 -4 0.2 -3.8 0.1 -3.6 0.1 -3.4 0.2 -3.2 0.1 -2.9 0.2 -2.6 0.1 -2.4 0.1 -2 0.2 -1.7 0.1 -1.4 0.2 -1.1 0.1 -0.7 0.1 -0.4 0.2 -0.1 0.1 0.3 0.2 0.7 0.1 1 0.1 1.3 0.2 1.6 0.1 2 0.2 2.2 0.1 2.5 0.1 2.8 0.2 3.1 0.1 3.3 0.2 3.5 0.1 3.6 0.2 3.9 0.1 4 0.1 4.1 0.2 4.2 0.1 4.2 0.2 4.3 0.1 4.4 0.1 4.3 0.2 4.2 0.1 4.2 0.2 4.1 0.1 4 0.1 3.9 0.2 3.6 0.1 3.5 0.2 3.3 0.1 3.1 0.1 2.8 0.2 2.5 0.1 2.3 0.2 1.9 0.1 1.7 0.2 1.4 0.1 1 0.1 0.7 0.2 0.3 0.1 0.1 0.2 -0.3 0.1 -0.6 0.1 -1 0.2 -1.3 0.1 -1.6 0.2 -1.8 0.1 -2.2 0.1 -2.5 0.2 -2.7 0.1 -2.9 0.2 -3.2 0.1 -3.4 0.1 -3.6 0.2 -3.7 0.1 -3.9 0.2 -3.9 0.1 -4.1 0.2 -4.1 0.1 -4.2 0.1 -4.2 0.2 -4.1 0.1 -4.1 0.2 -4.1 0.1 -4 0.1 -3.8 0.2 -3.7 0.1 -3.6 0.2 -3.4 0.1 -3.1 0.1 -3 0.2 -2.7 0.1 -2.4 0.2 -2.2 0.1 -1.9 0.1 -1.6 0.2 -1.3 0.1 -1 0.2 -0.7 0.1 -0.3 0.1 -0.1 0.2 0.3 0.1 0.6 0.2 1 0.1 1.2 0.2 1.6 0.1 1.8 0.1 2.1 0.2 2.4 0.1 2.6 0.2 2.9 0.1 3.1 0.1 3.3 0.2 3.4 0.1 3.6 0.2 3.8 0.1 3.8 0.1 4 0.2 4 0.1 4 0.2 4.1 0.1 4 0.1 4 0.2 3.9 0.1 3.9 0.2 3.7 0.1 3.6 0.2 3.4 0.1 3.3 0.1 3.1 0.2 2.8 0.1 2.6 0.2 2.4 0.1 2.1 0.1 1.9 0.2 1.5 0.1 1.3 0.2 0.9 0.1 0.7 0.1 0.3 0.2 0 0.1 -0.3 0.2 -0.6 0.1 -0.9 0.1 -1.2 0.2 -1.5 0.1 -1.8 0.2 -2 0.1 -2.4 0.1 -2.5 0.2 -2.8 0.1 -3 0.2 -3.2 0.1 -3.3 0.2 -3.5 0.1 -3.7 0.1 -3.7 0.2 -3.8 0.1 -3.9 0.2 -3.9 0.1 -3.9 0.1 -3.9 0.2 -3.9 0.1 -3.8 0.2 -3.8 0.1 -3.6 0.1 -3.5 0.2 -3.3 0.1 -3.2 0.2 -2.9 0.1 -2.8 0.1 -2.5 0.2 -2.3 0.1 -2.1 0.2 -1.7 0.1 -1.5 0.2 -1.2 0.1 -1 0.1 -0.6 0.2 -0.3 0.1 0 0.2 0.3 0.1 0.6 0.1 0.9 0.2 1.2 0.1 1.4 0.2 1.8 0.1 2 0.1 2.2 0.2 2.5 0.1 2.7 0.2 2.9 0.1 3.1 0.1 3.3 0.2 3.4 0.1 3.5 0.2 3.6 0.1 3.7 0.2 3.8 0.1 3.8 0.1 3.8 0.2 3.8 0.1 3.8 0.2 3.7 0.1 3.6 0.1 3.5 0.2 3.4 0.1 3.2 0.2 3.1 0.1 2.9 0.1 2.6 0.2 2.5 0.1 2.2 0.2 2 0.1 1.7 0.1 1.5 0.2 1.1 0.1 0.9 0.2 0.6 0.1 0.3 0.1 0 0.2 -0.3 0.1 -0.5 0.2 -0.9 0.1 -1.2 0.2 -1.4 0.1 -1.7 0.1 -1.9 0.2 -2.2 0.1 -2.4 0.2 -2.7 0.1 -2.8 0.1 -3 0.2 -3.2 0.1 -3.3 0.2 -3.4 0.1 -3.5 0.1 -3.7 0.2 -3.6 0.1 -3.7 0.2 -3.7 0.1 -3.7 0.1 -3.6 0.2 -3.6 0.1 -3.5 0.2 -3.4 0.1 -3.3 0.2 -3.2 0.1 -2.9 0.1 -2.8 0.2 -2.6 0.1 -2.4 0.2 -2.2 0.1 -1.9 0.1 -1.7 0.2 -1.4 0.1 -1.1 0.2 -0.8 0.1 -0.6 0.1 -0.3 0.2 0 0.1 0.3 0.2 0.6 0.1 0.8 0.1 1.1 0.2 1.4 0.1 1.7 0.2 1.9 0.1 2.1 0.2 2.4 0.1 2.5 0.1 2.8 0.2 2.9 0.1 3.1 0.2 3.2 0.1 3.4 0.1 3.4 0.2 3.5 0.1 3.6 0.2 3.6 0.1 3.6 0.1 3.5 0.2 3.6 0.1 3.5 0.2 3.4 0.1 3.3 0.1 3.2 0.2 3 0.1 2.9 0.2 2.8 0.1 2.5 0.1 2.3 0.2 2.1 0.1 1.8 0.2 1.7 0.1 1.3 0.2 1.1 0.1 0.8 0.1 0.6 0.2 0.3 0.1 -0.1 0.2 -0.2 0.1 -0.6 0.1 -0.8 0.2 -1.1 0.1 -1.4 0.2 -1.6 0.1 -1.9 0.1 -2 0.2 -2.3 0.1 -2.5 0.2 -2.7 0.1 -2.9 0.1 -3 0.2 -3.1 0.1 -3.3 0.2 -3.3 0.1 -3.4 0.2 -3.5 0.1 -3.5 0.1 -3.5 0.2 -3.5 0.1 -3.4 0.2 -3.4 0.1 -3.3 0.1 -3.2 0.2 -3.1 0.1 -3 0.2 -2.8 0.1 -2.6 0.1 -2.5 0.2 -2.2 0.1 -2.1 0.2 -1.8 0.1 -1.5 0.1 -1.4 0.2 -1 0.1 -0.8 0.2 -0.5 0.1 -0.3 0.1 0 0.2 0.3 0.1 0.6 0.2 0.8 0.1 1.1 0.2 1.3 0.1 1.6 0.1 1.8 0.2 2 0.1 2.2 0.2 2.5 0.1 2.6 0.1 2.8 0.2 2.9 0.1 3.1 0.2 3.1 0.1 3.3 0.1 3.3 0.2 3.4 0.1 3.4 0.2 3.4 0.1 3.4 0.1 3.3 0.2 3.4 0.1 3.2 0.2 3.1 0.1 3 0.2 2.9 0.1 2.8 0.1 2.5 0.2 2.4 0.1 2.2 0.2 2 0.1 1.7 0.1 1.5 0.2 1.3 0.1 1 0.2 0.8 0.1 0.5 0.1 0.3 0.2 -0.1 0.1 -0.2 0.2 -0.6 0.1 -0.8 0.1 -1 0.2 -1.3 0.1 -1.6 0.2 -1.7 0.1 -2 0.2 -2.2 0.1 -2.4 0.1 -2.5 0.2 -2.8 0.1 -2.8 0.2 -3 0.1 -3.1 0.1 -3.2 0.2 -3.2 0.1 -3.3 0.2 -3.3 0.1 -3.3 0.1 -3.3 0.2 -3.3 0.1 -3.2 0.2 -3.2 0.1 -3 0.1 -2.9 0.2 -2.9 0.1 -2.6 0.2 -2.5 0.1 -2.3 0.1 -2.2 0.2 -1.9 0.1 -1.7 0.2 -1.4 0.1 -1.3 0.2 -1 0.1 -0.7 0.1 -0.5 0.2 -0.2 0.1 0 0.2 0.3 0.1 0.5 0.1 0.8 0.2 1 0.1 1.3 0.2 1.5 0.1 1.7 0.1 2 0.2 2.1 0.1 2.3 0.2 2.5 0.1 2.7 0.1 2.8 0.2 2.9 0.1 3 0.2 3.1 0.1 3.1 0.2 3.2 0.1 3.3 0.1 3.2 0.2 3.2 0.1 3.2 0.2 3.2 0.1 3 0.1 3 0.2 2.9 0.1 2.7 0.2 2.6 0.1 2.4 0.1 2.3 0.2 2 0.1 1.9 0.2 1.7 0.1 1.4 0.1 1.2 0.2 1 0.1 0.7 0.2 0.5 0.1 0.2 0.2 0 0.1 -0.3 0.1 -0.6 0.2 -0.7 0.1 -1 0.2 -1.3 0.1 -1.5 0.1 -1.6 0.2 -1.9 0.1 -2.1 0.2 -2.3 0.1 -2.4 0.1 -2.6 0.2 -2.7 0.1 -2.9 0.2 -2.9 0.1 -3 0.1 -3.1 0.2 -3.2 0.1 -3.1 0.2 -3.2 0.1 -3.1 0.1 -3.1 0.2 -3.1 0.1 -3 0.2 -2.9 0.1 -2.8 0.2 -2.6 0.1 -2.6 0.1 -2.3 0.2 -2.2 0.1 -2 0.2 -1.8 0.1 -1.7 0.1 -1.3 0.2 -1.2 0.1 -1 0.2 -0.6 0.1 -0.5 0.1 -0.2 0.2 0 0.1 0.3 0.2 0.5 0.1 0.8 0.1 1 0.2 1.2 0.1 1.4 0.2 1.7 0.1 1.9 0.2 2 0.1 2.2 0.1 2.4 0.2 2.5 0.1 2.7 0.2 2.8 0.1 2.8 0.1 3 0.2 3 0.1 3 0.2 3.1 0.1 3.1 0.1 3.1 0.2 3 0.1 3 0.2 2.9 0.1 2.9 0.1 2.7 0.2 2.6 0.1 2.4 0.2 2.3 0.1 2.2 0.2 2 0.1 1.7 0.1 1.6 0.2 1.3 0.1 1.2 0.2 0.9 0.1 0.7 0.1 0.4 0.2 0.2 0.1 0 0.2 -0.3 0.1 -0.5 0.1 -0.8 0.2 -0.9 0.1 -1.2 0.2 -1.5 0.1 -1.6 0.1 -1.8 0.2 -2 0.1 -2.2 0.2 -2.3 0.1 -2.5 0.1 -2.6 0.2 -2.7 0.1 -2.8 0.2 -2.9 0.1 -2.9 0.2 -3 0.1 -3 0.1 -3 0.2 -3 0.1 -3 0.2 -2.9 0.1 -2.8 0.1 -2.8 0.2 -2.7 0.1 -2.5 0.2 -2.4 0.1 -2.2 0.1 -2.1 0.2 -1.9 0.1 -1.8 0.2 -1.5 0.1 -1.3 0.1 -1.1 0.2 -0.9 0.1 -0.7 0.2 -0.4 0.1 -0.2 0.2 0.1 0.1 0.3 0.1 0.5 0.2 0.7 0.1 1 0.2 1.1 0.1 1.4 0.1 1.6 0.2 1.8 0.1 1.9 0.2 2.2 0.1 2.2 0.1 2.5 0.2 2.5 0.1 2.7 0.2 2.7 0.1 2.8 0.1 2.9 0.2 2.9 0.1 3 0.2 2.9 0.1 2.9 0.1 2.9 0.2 2.9 0.1 2.8 0.2 2.7 0.1 2.6 0.2 2.4 0.1 2.4 0.1 2.2 0.2 2 0.1 1.9 0.2 1.7 0.1 1.5 0.1 1.2 0.2 1.1 0.1 0.9 0.2 0.6 0.1 0.4 0.1 0.2 0.2 -0.1 0.1 -0.2 0.2 -0.5 0.1 -0.8 0.1 -0.9 0.2 -1.1 0.1 -1.4 0.2 -1.6 0.1 -1.7 0.2 -1.9 0.1 -2.1 0.1 -2.2 0.2 -2.4 0.1 -2.5 0.2 -2.6 0.1 -2.7 0.1 -2.7 0.2 -2.8 0.1 -2.9 0.2 -2.9 0.1 -2.9 0.1 -2.8 0.2 -2.9 0.1 -2.7 0.2 -2.8 0.1 -2.6 0.1 -2.5 0.2 -2.4 0.1 -2.3 0.2 -2.2 0.1 -2 0.2 -1.8 0.1 -1.6 0.1 -1.5 0.2 -1.2 0.1 -1.1 0.2 -0.8 0.1 -0.6 0.1 -0.4 0.2 -0.2 0.1 0.1 0.2 0.2 0.1 0.5 0.1 0.8 0.2 0.9 0.1 1.1 0.2 1.3 0.1 1.6 0.1 1.7 0.2 1.9 0.1 2 0.2 2.2 0.1 2.3 0.1 2.4 0.2 2.6 0.1 2.6 0.2 2.7 0.1 2.8 0.2 2.8 0.1 2.8 0.1 2.8 0.2 2.8 0.1 2.8 0.2 2.7 0.1 2.7 0.1 2.5 0.2 2.5 0.1 2.4 0.2 2.2 0.1 2.1 0.1 1.9 0.2 1.8 0.1 1.6 0.2 1.4 0.1 1.3 0.1 1 0.2 0.8 0.1 0.6 0.2 0.4 0.1 0.1 0.2 0 0.1 -0.3 0.1 -0.5 0.2 -0.7 0.1 -0.9 0.2 -1.1 0.1 -1.3 0.1 -1.5 0.2 -1.7 0.1 -1.8 0.2 -2 0.1 -2.2 0.1 -2.3 0.2 -2.3 0.1 -2.5 0.2 -2.6 0.1 -2.7 0.1 -2.6 0.2 -2.8 0.1 -2.7 0.2 -2.8 0.1 -2.7 0.2 -2.7 0.1 -2.7 0.1 -2.6 0.2 -2.5 0.1 -2.4 0.2 -2.4 0.1 -2.1 0.1 -2.1 0.2 -1.9 0.1 -1.7 0.2 -1.6 0.1 -1.4 0.1 -1.2 0.2 -0.9 0.1 -0.8 0.2 -0.6 0.1 -0.4 0.1 -0.1 0.2 0 0.1 0.3 0.2 0.5 0.1 0.7 0.1 0.9 0.2 1.1 0.1 1.3 0.2 1.4 0.1 1.7 0.2 1.8 0.1 1.9 0.1 2.1 0.2 2.3 0.1 2.3 0.2 2.4 0.1 2.6 0.1 2.6 0.2 2.6 0.1 2.7 0.2 2.7 0.1 2.7 0.1 2.7 0.2 2.6 0.1 2.6 0.2 2.6 0.1 2.4 0.1 2.4 0.2 2.3 0.1 2.1 0.2 2 0.1 1.9 0.2 1.7 0.1 1.5 0.1 1.3 0.2 1.2 0.1 1 0.2 0.7 0.1 0.6 0.1 0.3 0.2 0.2 0.1 -0.1 0.2 -0.2 0.1 -0.5 0.1 -0.7 0.2 -0.9 0.1 -1.1 0.2 -1.2 0.1 -1.5 0.1 -1.6 0.2 -1.8 0.1 -1.9 0.2 -2 0.1 -2.2 0.1 -2.3 0.2 -2.4 0.1 -2.5 0.2 -2.5 0.1 -2.6 0.2 -2.6 0.1 -2.7 0.1 -2.6 0.2 -2.7 0.1 -2.6 0.2 -2.5 0.1 -2.5 0.1 -2.4 0.2 -2.3 0.1 -2.2 0.2 -2.1 0.1 -2 0.1 -1.8 0.2 -1.7 0.1 -1.5 0.2 -1.3 0.1 -1.1 0.1 -0.9 0.2 -0.8 0.1 -0.5 0.2 -0.4 0.1 -0.1 0.2 0 0.1 0.3 0.1 0.5 0.2 0.7 0.1 0.8 0.2 1.1 0.1 1.2 0.1 1.5 0.2 1.5 0.1 1.8 0.2 1.9 0.1 2 0.1 2.1 0.2 2.3 0.1 2.3 0.2 2.5 0.1 2.5 0.1 2.5 0.2 2.6 0.1 2.6 0.2 2.6 0.1 2.5 0.2 2.6 0.1 2.5 0.1 2.4 0.2 2.4 0.1 2.2 0.2 2.2 0.1 2.1 0.1 1.9 0.2 1.8 0.1 1.6 0.2 1.4 0.1 1.3 0.1 1.1 0.2 0.9 0.1 0.8 0.2 0.5 0.1 0.3 0.1 0.2 0.2 -0.1 0.1 -0.3 0.2 -0.4 0.1 -0.7 0.1 -0.9 0.2 -1 0.1 -1.2 0.2 -1.4 0.1 -1.6 0.2 -1.7 0.1 -1.8 0.1 -2 0.2 -2.1 0.1 -2.2 0.2 -2.3 0.1 -2.4 0.1 -2.5 0.2 -2.5 0.1 -2.5 0.2 -2.5 0.1 -2.6 0.1 -2.5 0.2 -2.5 0.1 -2.4 0.2 -2.4 0.1 -2.3 0.1 -2.3 0.2 -2.1 0.1 -2 0.2 -1.9 0.1 -1.7 0.2 -1.6 0.1 -1.4 0.1 -1.3 0.2 -1 0.1 -0.9 0.2 -0.7 0.1 -0.6 0.1 -0.3 0.2 -0.1 0.1 0.1 0.2 0.2 0.1 0.5 0.1 0.7 0.2 0.8 0.1 1 0.2 1.2 0.1 1.4 0.1 1.5 0.2 1.7 0.1 1.8 0.2 2 0.1 2.1 0.2 2.1 0.1 2.3 0.1 2.3 0.2 2.4 0.1 2.5 0.2 2.4 0.1 2.5 0.1 2.5 0.2 2.5 0.1 2.4 0.2 2.4 0.1 2.4 0.1 2.3 0.2 2.1 0.1 2.1 0.2 2 0.1 1.8 0.1 1.7 0.2 1.6 0.1 1.4 0.2 1.2 0.1 1.1 0.1 0.8 0.2 0.7 0.1 0.5 0.2 0.3 0.1 0.2 0.2 -0.1 0.1 -0.3 0.1 -0.5 0.2 -0.6 0.1 -0.8 0.2 -1 0.1 -1.2 0.1 -1.4 0.2 -1.5 0.1 -1.6 0.2 -1.8 0.1 -2 0.1 -2 0.2 -2.1 0.1 -2.2 0.2 -2.3 0.1 -2.4 0.1 -2.4 0.2 -2.4 0.1 -2.4 0.2 -2.5 0.1 -2.4 0.2 -2.4 0.1 -2.4 0.1 -2.3 0.2 -2.2 0.1 -2.1 0.2 -2.1 0.1 -1.9 0.1 -1.8 0.2 -1.7 0.1 -1.5 0.2 -1.3 0.1 -1.2 0.1 -1.1 0.2 -0.8 0.1 -0.7 0.2 -0.5 0.1 -0.3 0.1 -0.1 0.2 0.1 0.1 0.2 0.2 0.5 0.1 0.6 0.1 0.9 0.2 1 0.1 1.1 0.2 1.4 0.1 1.4 0.2 1.7 0.1 1.7 0.1 1.9 0.2 2 0.1 2.1 0.2 2.2 0.1 2.2 0.1 2.3 0.2 2.4 0.1 2.4 0.2 2.4 0.1 2.4 0.1 2.4 0.2 2.3 0.1 2.3 0.2 2.3 0.1 2.2 0.1 2.1 0.2 2 0.1 1.8 0.2 1.8 0.1 1.6 0.2 1.5 0.1 1.4 0.1 1.1 0.2 1.1 0.1 0.8 0.2 0.6 0.1 0.5 0.1 0.3 0.2 0.1 0.1 -0.1 0.2 -0.2 0.1 -0.5 0.1 -0.6 0.2 -0.8 0.1 -1 0.2 -1.2 0.1 -1.3 0.1 -1.4 0.2 -1.6 0.1 -1.8 0.2 -1.8 0.1 -2 0.2 -2 0.1 -2.2 0.1 -2.2 0.2 -2.3 0.1 -2.3 0.2 -2.3 0.1 -2.4 0.1 -2.3 0.2 -2.4 0.1 -2.3 0.2 -2.2 0.1 -2.2 0.1 -2.2 0.2 -2 0.1 -2 0.2 -1.8 0.1 -1.8 0.1 -1.6 0.2 -1.4 0.1 -1.3 0.2 -1.2 0.1 -1 0.1 -0.8 0.2 -0.6 0.1 -0.5 0.2 -0.3 0.1 -0.1 0.2 0.1 0.1 0.3 0.1 0.4 0.2 0.7 0.1 0.8 0.2 0.9 0.1 1.2 0.1 1.2 0.2 1.5 0.1 1.6 0.2 1.7 0.1 1.8 0.1 1.9 0.2 2 0.1 2.1 0.2 2.2 0.1 2.2 0.1 2.3 0.2 2.3 0.1 2.3 0.2 2.3 0.1 2.3 0.2 2.3 0.1 2.2 0.1 2.2 0.2 2.1 0.1 2 0.2 1.9 0.1 1.9 0.1 1.7 0.2 1.5 0.1 1.4 0.2 1.3 0.1 1.2 0.1 0.9 0.2 0.8 0.1 0.6 0.2 0.5 0.1 0.3 0.1 0.1 0.2 -0.1 0.1 -0.3 0.2 -0.4 0.1 -0.7 0.2 -0.7 0.1 -1 0.1 -1.1 0.2 -1.3 0.1 -1.4 0.2 -1.5 0.1 -1.7 0.1 -1.8 0.2 -1.9 0.1 -2 0.2 -2.1 0.1 -2.1 0.1 -2.2 0.2 -2.2 0.1 -2.3 0.2 -2.3 0.1 -2.2 0.1 -2.3 0.2 -2.2 0.1 -2.2 0.2 -2.1 0.1 -2.1 0.1 -2 0.2 -1.9 0.1 -1.7 0.2 -1.7 0.1 -1.5 0.2 -1.4 0.1 -1.3 0.1 -1.1 0.2 -0.9 0.1 -0.8 0.2 -0.6 0.1 -0.5 0.1 -0.2 0.2 -0.1 0.1 0.1 0.2 0.2 0.1 0.5 0.1 0.6 0.2 0.8 0.1 0.9 0.2 1.1 0.1 1.3 0.1 1.4 0.2 1.5 0.1 1.6 0.2 1.8 0.1 1.9 0.2 1.9 0.1 2.1 0.1 2.1 0.2 2.1 0.1 2.2 0.2 2.2 0.1 2.3 0.1 2.2 0.2 2.2 0.1 2.2 0.2 2.2 0.1 2 0.1 2.1 0.2 1.9 0.1 1.9 0.2 1.7 0.1 1.6 0.1 1.5 0.2 1.4 0.1 1.3 0.2 1 0.1 1 0.1 0.7 0.2 0.6 0.1 0.4 0.2 0.3 0.1 0.1 0.2 -0.1 0.1 -0.3 0.1 -0.4 0.2 -0.6 0.1 -0.8 0.2 -0.9 0.1 -1.1 0.1 -1.2 0.2 -1.4 0.1 -1.5 0.2 -1.6 0.1 -1.8 0.1 -1.8 0.2 -1.9 0.1 -2 0.2 -2.1 0.1 -2.1 0.1 -2.2 0.2 -2.2 0.1 -2.2 0.2 -2.2 0.1 -2.1 0.2 -2.2 0.1 -2.1 0.1 -2.1 0.2 -1.9 0.1 -2 0.2 -1.8 0.1 -1.7 0.1 -1.6 0.2 -1.5 0.1 -1.3 0.2 -1.2 0.1 -1.1 0.1 -0.9 0.2 -0.7 0.1 -0.6 0.2 -0.4 0.1 -0.3 0.1 0 0.2 0 0.1 0.3 0.2 0.4 0.1 0.6 0.2 0.8 0.1 0.9 0.1 1.1 0.2 1.2 0.1 1.4 0.2 1.5 0.1 1.6 0.1 1.7 0.2 1.8 0.1 1.9 0.2 1.9 0.1 2.1" stroke="#000" stroke-width="2.1"/>
<path d="M292.4 365.7l0.1 6.1 0.2 6.2 0.1 6.2 0.2 6.3 0.1 6.2 0.1 6.2 0.2 6.1 0.1 6 0.2 5.8 0.1 5.7 0.1 5.3 0.2 5.1 0.1 4.8 0.2 4.5 0.1 4.2 0.2 3.7 0.1 3.4 0.1 2.9 0.2 2.5 0.1 2 0.2 1.6 0.1 1.1 0.1 0.8 0.2 0.2 0.1 -0.2 0.2 -0.8 0.1 -1.2 0.1 -1.6 0.2 -2.2 0.1 -2.6 0.2 -3 0.1 -3.4 0.1 -3.8 0.2 -4.2 0.1 -4.6 0.2 -4.8 0.1 -5.1 0.2 -5.4 0.1 -5.5 0.1 -5.8 0.2 -5.9 0.1 -6 0.2 -6 0.1 -6.1 0.1 -6.1 0.2 -6.1 0.1 -5.9 0.2 -5.8 0.1 -5.7 0.1 -5.5 0.2 -5.2 0.1 -5 0.2 -4.7 0.1 -4.4 0.1 -4.1 0.2 -3.6 0.1 -3.3 0.2 -2.9 0.1 -2.4 0.2 -2 0.1 -1.6 0.1 -1 0.2 -0.7 0.1 -0.1 0.2 0.3 0.1 0.8 0.1 1.3 0.2 1.7 0.1 2.2 0.2 2.5 0.1 3 0.1 3.4 0.2 3.8 0.1 4.1 0.2 4.4 0.1 4.7 0.1 5 0.2 5.2 0.1 5.4 0.2 5.6 0.1 5.7 0.1 5.8 0.2 5.8 0.1 5.9 0.2 5.8 0.1 5.9 0.2 5.7 0.1 5.6 0.1 5.4 0.2 5.3 0.1 5 0.2 4.8 0.1 4.5 0.1 4.2 0.2 3.8 0.1 3.5 0.2 3.2 0.1 2.7 0.1 2.3 0.2 1.9 0.1 1.5 0.2 1 0.1 0.6 0.1 0.1 0.2 -0.3 0.1 -0.8 0.2 -1.2 0.1 -1.7 0.2 -2.1 0.1 -2.5 0.1 -2.8 0.2 -3.3 0.1 -3.6 0.2 -3.9 0.1 -4.3 0.1 -4.5 0.2 -4.8 0.1 -5 0.2 -5.1 0.1 -5.4 0.1 -5.4 0.2 -5.6 0.1 -5.6 0.2 -5.6 0.1 -5.6 0.1 -5.6 0.2 -5.4 0.1 -5.4 0.2 -5.2 0.1 -5 0.1 -4.9 0.2 -4.5 0.1 -4.3 0.2 -4 0.1 -3.7 0.2 -3.4 0.1 -3 0.1 -2.6 0.2 -2.2 0.1 -1.8 0.2 -1.4 0.1 -0.9 0.1 -0.6 0.2 -0.1 0.1 0.4 0.2 0.7 0.1 1.2 0.1 1.6 0.2 2 0.1 2.4 0.2 2.8 0.1 3.1 0.1 3.5 0.2 3.7 0.1 4.1 0.2 4.3 0.1 4.6 0.2 4.8 0.1 5 0.1 5.1 0.2 5.2 0.1 5.4 0.2 5.3 0.1 5.4 0.1 5.4 0.2 5.3 0.1 5.3 0.2 5.1 0.1 5 0.1 4.8 0.2 4.6 0.1 4.4 0.2 4.1 0.1 3.9 0.1 3.5 0.2 3.2 0.1 2.9 0.2 2.5 0.1 2.1 0.2 1.7 0.1 1.4 0.1 0.9 0.2 0.5 0.1 0.1 0.2 -0.3 0.1 -0.8 0.1 -1.1 0.2 -1.6 0.1 -1.9 0.2 -2.3 0.1 -2.7 0.1 -3 0.2 -3.3 0.1 -3.6 0.2 -3.9 0.1 -4.2 0.1 -4.4 0.2 -4.6 0.1 -4.8 0.2 -4.9 0.1 -5 0.1 -5.1 0.2 -5.2 0.1 -5.1 0.2 -5.2 0.1 -5.1 0.2 -5.1 0.1 -4.9 0.1 -4.8 0.2 -4.6 0.1 -4.4 0.2 -4.2 0.1 -4 0.1 -3.7 0.2 -3.3 0.1 -3.1 0.2 -2.8 0.1 -2.3 0.1 -2.1 0.2 -1.6 0.1 -1.3 0.2 -0.9 0.1 -0.4 0.1 -0.1 0.2 0.3 0.1 0.7 0.2 1.1 0.1 1.5 0.2 1.9 0.1 2.2 0.1 2.6 0.2 2.8 0.1 3.3 0.2 3.5 0.1 3.7 0.1 4 0.2 4.3 0.1 4.4 0.2 4.6 0.1 4.7 0.1 4.9 0.2 4.9 0.1 4.9 0.2 5 0.1 5 0.1 4.9 0.2 4.8 0.1 4.8 0.2 4.6 0.1 4.4 0.2 4.3 0.1 4 0.1 3.8 0.2 3.6 0.1 3.2 0.2 3 0.1 2.6 0.1 2.3 0.2 1.9 0.1 1.6 0.2 1.2 0.1 0.9 0.1 0.4 0.2 0.1 0.1 -0.3 0.2 -0.7 0.1 -1.1 0.1 -1.4 0.2 -1.8 0.1 -2.2 0.2 -2.4 0.1 -2.8 0.1 -3.1 0.2 -3.4 0.1 -3.6 0.2 -3.9 0.1 -4.1 0.2 -4.2 0.1 -4.5 0.1 -4.5 0.2 -4.7 0.1 -4.7 0.2 -4.8 0.1 -4.8 0.1 -4.7 0.2 -4.8 0.1 -4.6 0.2 -4.6 0.1 -4.4 0.1 -4.3 0.2 -4.1 0.1 -3.9 0.2 -3.6 0.1 -3.4 0.1 -3.2 0.2 -2.8 0.1 -2.5 0.2 -2.2 0.1 -1.9 0.2 -1.5 0.1 -1.2 0.1 -0.8 0.2 -0.4 0.1 -0.1 0.2 0.3 0.1 0.7 0.1 1.1 0.2 1.3 0.1 1.8 0.2 2.1 0.1 2.4 0.1 2.7 0.2 2.9 0.1 3.3 0.2 3.5 0.1 3.7 0.1 4 0.2 4.1 0.1 4.3 0.2 4.4 0.1 4.5 0.1 4.5 0.2 4.6 0.1 4.7 0.2 4.6 0.1 4.5 0.2 4.5 0.1 4.4 0.1 4.3 0.2 4.1 0.1 4 0.2 3.7 0.1 3.5 0.1 3.3 0.2 3 0.1 2.8 0.2 2.4 0.1 2.1 0.1 1.8 0.2 1.5 0.1 1.1 0.2 0.7 0.1 0.5 0.1 0 0.2 -0.3 0.1 -0.7 0.2 -1 0.1 -1.3 0.2 -1.7 0.1 -2 0.1 -2.3 0.2 -2.6 0.1 -2.9 0.2 -3.2 0.1 -3.4 0.1 -3.6 0.2 -3.8 0.1 -3.9 0.2 -4.2 0.1 -4.2 0.1 -4.3 0.2 -4.5 0.1 -4.4 0.2 -4.5 0.1 -4.4 0.1 -4.4 0.2 -4.4 0.1 -4.2 0.2 -4.1 0.1 -4 0.2 -3.8 0.1 -3.6 0.1 -3.4 0.2 -3.2 0.1 -2.9 0.2 -2.6 0.1 -2.4 0.1 -2 0.2 -1.7 0.1 -1.4 0.2 -1.1 0.1 -0.7 0.1 -0.4 0.2 -0.1 0.1 0.3 0.2 0.7 0.1 1 0.1 1.3 0.2 1.6 0.1 2 0.2 2.2 0.1 2.5 0.1 2.8 0.2 3.1 0.1 3.3 0.2 3.5 0.1 3.6 0.2 3.9 0.1 4 0.1 4.1 0.2 4.2 0.1 4.2 0.2 4.3 0.1 4.4 0.1 4.3 0.2 4.2 0.1 4.2 0.2 4.1 0.1 4 0.1 3.9 0.2 3.6 0.1 3.5 0.2 3.3 0.1 3.1 0.1 2.8 0.2 2.5 0.1 2.3 0.2 1.9 0.1 1.7 0.2 1.4 0.1 1 0.1 0.7 0.2 0.3 0.1 0.1 0.2 -0.3 0.1 -0.6 0.1 -1 0.2 -1.3 0.1 -1.6 0.2 -1.8 0.1 -2.2 0.1 -2.5 0.2 -2.7 0.1 -2.9 0.2 -3.2 0.1 -3.4 0.1 -3.6 0.2 -3.7 0.1 -3.9 0.2 -3.9 0.1 -4.1 0.2 -4.1 0.1 -4.2 0.1 -4.2 0.2 -4.1 0.1 -4.1 0.2 -4.1 0.1 -4 0.1 -3.8 0.2 -3.7 0.1 -3.6 0.2 -3.4 0.1 -3.1 0.1 -3 0.2 -2.7 0.1 -2.4 0.2 -2.2 0.1 -1.9 0.1 -1.6 0.2 -1.3 0.1 -1 0.2 -0.7 0.1 -0.3 0.1 -0.1 0.2 0.3 0.1 0.6 0.2 1 0.1 1.2 0.2 1.6 0.1 1.8 0.1 2.1 0.2 2.4 0.1 2.6 0.2 2.9 0.1 3.1 0.1 3.3 0.2 3.4 0.1 3.6 0.2 3.8 0.1 3.8 0.1 4 0.2 4 0.1 4 0.2 4.1 0.1 4 0.1 4 0.2 3.9 0.1 3.9 0.2 3.7 0.1 3.6 0.2 3.4 0.1 3.3 0.1 3.1 0.2 2.8 0.1 2.6 0.2 2.4 0.1 2.1 0.1 1.9 0.2 1.5 0.1 1.3 0.2 0.9 0.1 0.7 0.1 0.3 0.2 0 0.1 -0.3 0.2 -0.6 0.1 -0.9 0.1 -1.2 0.2 -1.5 0.1 -1.8 0.2 -2 0.1 -2.4 0.1 -2.5 0.2 -2.8 0.1 -3 0.2 -3.2 0.1 -3.3 0.2 -3.5 0.1 -3.7 0.1 -3.7 0.2 -3.8 0.1 -3.9 0.2 -3.9 0.1 -3.9 0.1 -3.9 0.2 -3.9 0.1 -3.8 0.2 -3.8 0.1 -3.6 0.1 -3.5 0.2 -3.3 0.1 -3.2 0.2 -2.9 0.1 -2.8 0.1 -2.5 0.2 -2.3 0.1 -2.1 0.2 -1.7 0.1 -1.5 0.2 -1.2 0.1 -1 0.1 -0.6 0.2 -0.3 0.1 0 0.2 0.3 0.1 0.6 0.1 0.9 0.2 1.2 0.1 1.4 0.2 1.8 0.1 2 0.1 2.2 0.2 2.5 0.1 2.7 0.2 2.9 0.1 3.1 0.1 3.3 0.2 3.4 0.1 3.5 0.2 3.6 0.1 3.7 0.2 3.8 0.1 3.8 0.1 3.8 0.2 3.8 0.1 3.8 0.2 3.7 0.1 3.6 0.1 3.5 0.2 3.4 0.1 3.2 0.2 3.1 0.1 2.9 0.1 2.6 0.2 2.5 0.1 2.2 0.2 2 0.1 1.7 0.1 1.5 0.2 1.1 0.1 0.9 0.2 0.6 0.1 0.3 0.1 0 0.2 -0.3 0.1 -0.5 0.2 -0.9 0.1 -1.2 0.2 -1.4 0.1 -1.7 0.1 -1.9 0.2 -2.2 0.1 -2.4 0.2 -2.7 0.1 -2.8 0.1 -3 0.2 -3.2 0.1 -3.3 0.2 -3.4 0.1 -3.5 0.1 -3.7 0.2 -3.6 0.1 -3.7 0.2 -3.7 0.1 -3.7 0.1 -3.6 0.2 -3.6 0.1 -3.5 0.2 -3.4 0.1 -3.3 0.2 -3.2 0.1 -2.9 0.1 -2.8 0.2 -2.6 0.1 -2.4 0.2 -2.2 0.1 -1.9 0.1 -1.7 0.2 -1.4 0.1 -1.1 0.2 -0.8 0.1 -0.6 0.1 -0.3 0.2 0 0.1 0.3 0.2 0.6 0.1 0.8 0.1 1.1 0.2 1.4 0.1 1.7 0.2 1.9 0.1 2.1 0.2 2.4 0.1 2.5 0.1 2.8 0.2 2.9 0.1 3.1 0.2 3.2 0.1 3.4 0.1 3.4 0.2 3.5 0.1 3.6 0.2 3.6 0.1 3.6 0.1 3.5 0.2 3.6 0.1 3.5 0.2 3.4 0.1 3.3 0.1 3.2 0.2 3 0.1 2.9 0.2 2.8 0.1 2.5 0.1 2.3 0.2 2.1 0.1 1.8 0.2 1.7 0.1 1.3 0.2 1.1 0.1 0.8 0.1 0.6 0.2 0.3 0.1 -0.1 0.2 -0.2 0.1 -0.6 0.1 -0.8 0.2 -1.1 0.1 -1.4 0.2 -1.6 0.1 -1.9 0.1 -2 0.2 -2.3 0.1 -2.5 0.2 -2.7 0.1 -2.9 0.1 -3 0.2 -3.1 0.1 -3.3 0.2 -3.3 0.1 -3.4 0.2 -3.5 0.1 -3.5 0.1 -3.5 0.2 -3.5 0.1 -3.4 0.2 -3.4 0.1 -3.3 0.1 -3.2 0.2 -3.1 0.1 -3 0.2 -2.8 0.1 -2.6 0.1 -2.5 0.2 -2.2 0.1 -2.1 0.2 -1.8 0.1 -1.5 0.1 -1.4 0.2 -1 0.1 -0.8 0.2 -0.5 0.1 -0.3 0.1 0 0.2 0.3 0.1 0.6 0.2 0.8 0.1 1.1 0.2 1.3 0.1 1.6 0.1 1.8 0.2 2 0.1 2.2 0.2 2.5 0.1 2.6 0.1 2.8 0.2 2.9 0.1 3.1 0.2 3.1 0.1 3.3 0.1 3.3 0.2 3.4 0.1 3.4 0.2 3.4 0.1 3.4 0.1 3.3 0.2 3.4 0.1 3.2 0.2 3.1 0.1 3 0.2 2.9 0.1 2.8 0.1 2.5 0.2 2.4 0.1 2.2 0.2 2 0.1 1.7 0.1 1.5 0.2 1.3 0.1 1 0.2 0.8 0.1 0.5 0.1 0.3 0.2 -0.1 0.1 -0.2 0.2 -0.6 0.1 -0.8 0.1 -1 0.2 -1.3 0.1 -1.6 0.2 -1.7 0.1 -2 0.2 -2.2 0.1 -2.4 0.1 -2.5 0.2 -2.8 0.1 -2.8 0.2 -3 0.1 -3.1 0.1 -3.2 0.2 -3.2 0.1 -3.3 0.2 -3.3 0.1 -3.3 0.1 -3.3 0.2 -3.3 0.1 -3.2 0.2 -3.2 0.1 -3 0.1 -2.9 0.2 -2.9 0.1 -2.6 0.2 -2.5 0.1 -2.3 0.1 -2.2 0.2 -1.9 0.1 -1.7 0.2 -1.4 0.1 -1.3 0.2 -1 0.1 -0.7 0.1 -0.5 0.2 -0.2 0.1 0 0.2 0.3 0.1 0.5 0.1 0.8 0.2 1 0.1 1.3 0.2 1.5 0.1 1.7 0.1 2 0.2 2.1 0.1 2.3 0.2 2.5 0.1 2.7 0.1 2.8 0.2 2.9 0.1 3 0.2 3.1 0.1 3.1 0.2 3.2 0.1 3.3 0.1 3.2 0.2 3.2 0.1 3.2 0.2 3.2 0.1 3 0.1 3 0.2 2.9 0.1 2.7 0.2 2.6 0.1 2.4 0.1 2.3 0.2 2 0.1 1.9 0.2 1.7 0.1 1.4 0.1 1.2 0.2 1 0.1 0.7 0.2 0.5 0.1 0.2 0.2 0 0.1 -0.3 0.1 -0.6 0.2 -0.7 0.1 -1 0.2 -1.3 0.1 -1.5 0.1 -1.6 0.2 -1.9 0.1 -2.1 0.2 -2.3 0.1 -2.4 0.1 -2.6 0.2 -2.7 0.1 -2.9 0.2 -2.9 0.1 -3 0.1 -3.1 0.2 -3.2 0.1 -3.1 0.2 -3.2 0.1 -3.1 0.1 -3.1 0.2 -3.1 0.1 -3 0.2 -2.9 0.1 -2.8 0.2 -2.6 0.1 -2.6 0.1 -2.3 0.2 -2.2 0.1 -2 0.2 -1.8 0.1 -1.7 0.1 -1.3 0.2 -1.2 0.1 -1 0.2 -0.6 0.1 -0.5 0.1 -0.2 0.2 0 0.1 0.3 0.2 0.5 0.1 0.8 0.1 1 0.2 1.2 0.1 1.4 0.2 1.7 0.1 1.9 0.2 2 0.1 2.2 0.1 2.4 0.2 2.5 0.1 2.7 0.2 2.8 0.1 2.8 0.1 3 0.2 3 0.1 3 0.2 3.1 0.1 3.1 0.1 3.1 0.2 3 0.1 3 0.2 2.9 0.1 2.9 0.1 2.7 0.2 2.6 0.1 2.4 0.2 2.3 0.1 2.2 0.2 2 0.1 1.7 0.1 1.6 0.2 1.3 0.1 1.2 0.2 0.9 0.1 0.7 0.1 0.4 0.2 0.2 0.1 0 0.2 -0.3 0.1 -0.5 0.1 -0.8 0.2 -0.9 0.1 -1.2 0.2 -1.5 0.1 -1.6 0.1 -1.8 0.2 -2 0.1 -2.2 0.2 -2.3 0.1 -2.5 0.1 -2.6 0.2 -2.7 0.1 -2.8 0.2 -2.9 0.1 -2.9 0.2 -3 0.1 -3 0.1 -3 0.2 -3 0.1 -3 0.2 -2.9 0.1 -2.8 0.1 -2.8 0.2 -2.7 0.1 -2.5 0.2 -2.4 0.1 -2.2 0.1 -2.1 0.2 -1.9 0.1 -1.8 0.2 -1.5 0.1 -1.3 0.1 -1.1 0.2 -0.9 0.1 -0.7 0.2 -0.4 0.1 -0.2 0.2 0.1 0.1 0.3 0.1 0.5 0.2 0.7 0.1 1 0.2 1.1 0.1 1.4 0.1 1.6 0.2 1.8 0.1 1.9 0.2 2.2 0.1 2.2 0.1 2.5 0.2 2.5 0.1 2.7 0.2 2.7 0.1 2.8 0.1 2.9 0.2 2.9 0.1 3 0.2 2.9 0.1 2.9 0.1 2.9 0.2 2.9 0.1 2.8 0.2 2.7 0.1 2.6 0.2 2.4 0.1 2.4 0.1 2.2 0.2 2 0.1 1.9 0.2 1.7 0.1 1.5 0.1 1.2 0.2 1.1 0.1 0.9 0.2 0.6 0.1 0.4 0.1 0.2 0.2 -0.1 0.1 -0.2 0.2 -0.5 0.1 -0.8 0.1 -0.9 0.2 -1.1 0.1 -1.4 0.2 -1.6 0.1 -1.7 0.2 -1.9 0.1 -2.1 0.1 -2.2 0.2 -2.4 0.1 -2.5 0.2 -2.6 0.1 -2.7 0.1 -2.7 0.2 -2.8 0.1 -2.9 0.2 -2.9 0.1 -2.9 0.1 -2.8 0.2 -2.9 0.1 -2.7 0.2 -2.8 0.1 -2.6 0.1 -2.5 0.2 -2.4 0.1 -2.3 0.2 -2.2 0.1 -2 0.2 -1.8 0.1 -1.6 0.1 -1.5 0.2 -1.2 0.1 -1.1 0.2 -0.8 0.1 -0.6 0.1 -0.4 0.2 -0.2 0.1 0.1 0.2 0.2 0.1 0.5 0.1 0.8 0.2 0.9 0.1 1.1 0.2 1.3 0.1 1.6 0.1 1.7 0.2 1.9 0.1 2 0.2 2.2 0.1 2.3 0.1 2.4 0.2 2.6 0.1 2.6 0.2 2.7 0.1 2.8 0.2 2.8 0.1 2.8 0.1 2.8 0.2 2.8 0.1 2.8 0.2 2.7 0.1 2.7 0.1 2.5 0.2 2.5 0.1 2.4 0.2 2.2 0.1 2.1 0.1 1.9 0.2 1.8 0.1 1.6 0.2 1.4 0.1 1.3 0.1 1 0.2 0.8 0.1 0.6 0.2 0.4 0.1 0.1 0.2 0 0.1 -0.3 0.1 -0.5 0.2 -0.7 0.1 -0.9 0.2 -1.1 0.1 -1.3 0.1 -1.5 0.2 -1.7 0.1 -1.8 0.2 -2 0.1 -2.2 0.1 -2.3 0.2 -2.3 0.1 -2.5 0.2 -2.6 0.1 -2.7 0.1 -2.6 0.2 -2.8 0.1 -2.7 0.2 -2.8 0.1 -2.7 0.2 -2.7 0.1 -2.7 0.1 -2.6 0.2 -2.5 0.1 -2.4 0.2 -2.4 0.1 -2.1 0.1 -2.1 0.2 -1.9 0.1 -1.7 0.2 -1.6 0.1 -1.4 0.1 -1.2 0.2 -0.9 0.1 -0.8 0.2 -0.6 0.1 -0.4 0.1 -0.1 0.2 0 0.1 0.3 0.2 0.5 0.1 0.7 0.1 0.9 0.2 1.1 0.1 1.3 0.2 1.4 0.1 1.7 0.2 1.8 0.1 1.9 0.1 2.1 0.2 2.3 0.1 2.3 0.2 2.4 0.1 2.6 0.1 2.6 0.2 2.6 0.1 2.7 0.2 2.7 0.1 2.7 0.1 2.7 0.2 2.6 0.1 2.6 0.2 2.6 0.1 2.4 0.1 2.4 0.2 2.3 0.1 2.1 0.2 2 0.1 1.9 0.2 1.7 0.1 1.5 0.1 1.3 0.2 1.2 0.1 1 0.2 0.7 0.1 0.6 0.1 0.3 0.2 0.2 0.1 -0.1 0.2 -0.2 0.1 -0.5 0.1 -0.7 0.2 -0.9 0.1 -1.1 0.2 -1.2 0.1 -1.5 0.1 -1.6 0.2 -1.8 0.1 -1.9 0.2 -2 0.1 -2.2 0.1 -2.3 0.2 -2.4 0.1 -2.5 0.2 -2.5 0.1 -2.6 0.2 -2.6 0.1 -2.7 0.1 -2.6 0.2 -2.7 0.1 -2.6 0.2 -2.5 0.1 -2.5 0.1 -2.4 0.2 -2.3 0.1 -2.2 0.2 -2.1 0.1 -2 0.1 -1.8 0.2 -1.7 0.1 -1.5 0.2 -1.3 0.1 -1.1 0.1 -0.9 0.2 -0.8 0.1 -0.5 0.2 -0.4 0.1 -0.1 0.2 0 0.1 0.3 0.1 0.5 0.2 0.7 0.1 0.8 0.2 1.1 0.1 1.2 0.1 1.5 0.2 1.5 0.1 1.8 0.2 1.9 0.1 2 0.1 2.1 0.2 2.3 0.1 2.3 0.2 2.5 0.1 2.5 0.1 2.5 0.2 2.6 0.1 2.6 0.2 2.6 0.1 2.5 0.2 2.6 0.1 2.5 0.1 2.4 0.2 2.4 0.1 2.2 0.2 2.2 0.1 2.1 0.1 1.9 0.2 1.8 0.1 1.6 0.2 1.4 0.1 1.3 0.1 1.1 0.2 0.9 0.1 0.8 0.2 0.5 0.1 0.3 0.1 0.2 0.2 -0.1 0.1 -0.3 0.2 -0.4 0.1 -0.7 0.1 -0.9 0.2 -1 0.1 -1.2 0.2 -1.4 0.1 -1.6 0.2 -1.7 0.1 -1.8 0.1 -2 0.2 -2.1 0.1 -2.2 0.2 -2.3 0.1 -2.4 0.1 -2.5 0.2 -2.5 0.1 -2.5 0.2 -2.5 0.1 -2.6 0.1 -2.5 0.2 -2.5 0.1 -2.4 0.2 -2.4 0.1 -2.3 0.1 -2.3 0.2 -2.1 0.1 -2 0.2 -1.9 0.1 -1.7 0.2 -1.6 0.1 -1.4 0.1 -1.3 0.2 -1 0.1 -0.9 0.2 -0.7 0.1 -0.6 0.1 -0.3 0.2 -0.1 0.1 0.1 0.2 0.2 0.1 0.5 0.1 0.7 0.2 0.8 0.1 1 0.2 1.2 0.1 1.4 0.1 1.5 0.2 1.7 0.1 1.8 0.2 2 0.1 2.1 0.2 2.1 0.1 2.3 0.1 2.3 0.2 2.4 0.1 2.5 0.2 2.4 0.1 2.5 0.1 2.5 0.2 2.5 0.1 2.4 0.2 2.4 0.1 2.4 0.1 2.3 0.2 2.1 0.1 2.1 0.2 2 0.1 1.8 0.1 1.7 0.2 1.6 0.1 1.4 0.2 1.2 0.1 1.1 0.1 0.8 0.2 0.7 0.1 0.5 0.2 0.3 0.1 0.2 0.2 -0.1 0.1 -0.3 0.1 -0.5 0.2 -0.6 0.1 -0.8 0.2 -1 0.1 -1.2 0.1 -1.4 0.2 -1.5 0.1 -1.6 0.2 -1.8 0.1 -2 0.1 -2 0.2 -2.1 0.1 -2.2 0.2 -2.3 0.1 -2.4 0.1 -2.4 0.2 -2.4 0.1 -2.4 0.2 -2.5 0.1 -2.4 0.2 -2.4 0.1 -2.4 0.1 -2.3 0.2 -2.2 0.1 -2.1 0.2 -2.1 0.1 -1.9 0.1 -1.8 0.2 -1.7 0.1 -1.5 0.2 -1.3 0.1 -1.2 0.1 -1.1 0.2 -0.8 0.1 -0.7 0.2 -0.5 0.1 -0.3 0.1 -0.1 0.2 0.1 0.1 0.2 0.2 0.5 0.1 0.6 0.1 0.9 0.2 1 0.1 1.1 0.2 1.4 0.1 1.4 0.2 1.7 0.1 1.7 0.1 1.9 0.2 2 0.1 2.1 0.2 2.2 0.1 2.2 0.1 2.3 0.2 2.4 0.1 2.4 0.2 2.4 0.1 2.4 0.1 2.4 0.2 2.3 0.1 2.3 0.2 2.3 0.1 2.2 0.1 2.1 0.2 2 0.1 1.8 0.2 1.8 0.1 1.6 0.2 1.5 0.1 1.4 0.1 1.1 0.2 1.1 0.1 0.8 0.2 0.6 0.1 0.5 0.1 0.3 0.2 0.1 0.1 -0.1 0.2 -0.2 0.1 -0.5 0.1 -0.6 0.2 -0.8 0.1 -1 0.2 -1.2 0.1 -1.3 0.1 -1.4 0.2 -1.6 0.1 -1.8 0.2 -1.8 0.1 -2 0.2 -2 0.1 -2.2 0.1 -2.2 0.2 -2.3 0.1 -2.3 0.2 -2.3 0.1 -2.4 0.1 -2.3 0.2 -2.4 0.1 -2.3 0.2 -2.2 0.1 -2.2 0.1 -2.2 0.2 -2 0.1 -2 0.2 -1.8 0.1 -1.8 0.1 -1.6 0.2 -1.4 0.1 -1.3 0.2 -1.2 0.1 -1 0.1 -0.8 0.2 -0.6 0.1 -0.5 0.2 -0.3 0.1 -0.1 0.2 0.1 0.1 0.3 0.1 0.4 0.2 0.7 0.1 0.8 0.2 0.9 0.1 1.2 0.1 1.2 0.2 1.5 0.1 1.6 0.2 1.7 0.1 1.8 0.1 1.9 0.2 2 0.1 2.1 0.2 2.2 0.1 2.2 0.1 2.3 0.2 2.3 0.1 2.3 0.2 2.3 0.1 2.3 0.2 2.3 0.1 2.2 0.1 2.2 0.2 2.1 0.1 2 0.2 1.9 0.1 1.9 0.1 1.7 0.2 1.5 0.1 1.4 0.2 1.3 0.1 1.2 0.1 0.9 0.2 0.8 0.1 0.6 0.2 0.5 0.1 0.3 0.1 0.1 0.2 -0.1 0.1 -0.3 0.2 -0.4 0.1 -0.7 0.2 -0.7 0.1 -1 0.1 -1.1 0.2 -1.3 0.1 -1.4 0.2 -1.5 0.1 -1.7 0.1 -1.8 0.2 -1.9 0.1 -2 0.2 -2.1 0.1 -2.1 0.1 -2.2 0.2 -2.2 0.1 -2.3 0.2 -2.3 0.1 -2.2 0.1 -2.3 0.2 -2.2 0.1 -2.2 0.2 -2.1 0.1 -2.1 0.1 -2 0.2 -1.9 0.1 -1.7 0.2 -1.7 0.1 -1.5 0.2 -1.4 0.1 -1.3 0.1 -1.1 0.2 -0.9 0.1 -0.8 0.2 -0.6 0.1 -0.5 0.1 -0.2 0.2 -0.1 0.1 0.1 0.2 0.2 0.1 0.5 0.1 0.6 0.2 0.8 0.1 0.9 0.2 1.1 0.1 1.3 0.1 1.4 0.2 1.5 0.1 1.6 0.2 1.8 0.1 1.9 0.2 1.9 0.1 2.1 0.1 2.1 0.2 2.1 0.1 2.2 0.2 2.2 0.1 2.3 0.1 2.2 0.2 2.2 0.1 2.2 0.2 2.2 0.1 2 0.1 2.1 0.2 1.9 0.1 1.9 0.2 1.7 0.1 1.6 0.1 1.5 0.2 1.4 0.1 1.3 0.2 1 0.1 1 0.1 0.7 0.2 0.6 0.1 0.4 0.2 0.3 0.1 0.1 0.2 -0.1 0.1 -0.3 0.1 -0.4 0.2 -0.6 0.1 -0.8 0.2 -0.9 0.1 -1.1 0.1 -1.2 0.2 -1.4 0.1 -1.5 0.2 -1.6 0.1 -1.8 0.1 -1.8 0.2 -1.9 0.1 -2 0.2 -2.1 0.1 -2.1 0.1 -2.2 0.2 -2.2 0.1 -2.2 0.2 -2.2 0.1 -2.1 0.2 -2.2 0.1 -2.1 0.1 -2.1 0.2 -1.9 0.1 -2 0.2 -1.8 0.1 -1.7 0.1 -1.6 0.2 -1.5 0.1 -1.3 0.2 -1.2 0.1 -1.1 0.1 -0.9 0.2 -0.7 0.1 -0.6 0.2 -0.4 0.1 -0.3 0.1 0 0.2 0 0.1 0.3 0.2 0.4 0.1 0.6 0.2 0.8 0.1 0.9 0.1 1.1 0.2 1.2 0.1 1.4 0.2 1.5 0.1 1.6 0.1 1.7 0.2 1.8 0.1 1.9 0.2 1.9 0.1 2.1" stroke="#ff0000" stroke-width="2.1" stroke-dasharray="6.4 6.1"/>
</g>
<rect x="46.0" y="20.9" width="225.5" height="225.29999999999998" fill="none" stroke="#000" stroke-width="1.25"/>
<line x1="46.00" y1="246.2" x2="46.00" y2="241.39999999999998" stroke="#000" stroke-width="1.25"/>
<line x1="57.27" y1="246.2" x2="57.27" y2="243.39999999999998" stroke="#000" stroke-width="1.25"/>
<line x1="68.55" y1="246.2" x2="68.55" y2="243.39999999999998" stroke="#000" stroke-width="1.25"/>
<line x1="79.82" y1="246.2" x2="79.82" y2="243.39999999999998" stroke="#000" stroke-width="1.25"/>
<line x1="91.10" y1="246.2" x2="91.10" y2="243.39999999999998" stroke="#000" stroke-width="1.25"/>
<line x1="102.38" y1="246.2" x2="102.38" y2="241.39999999999998" stroke="#000" stroke-width="1.25"/>
<line x1="113.65" y1="246.2" x2="113.65" y2="243.39999999999998" stroke="#000" stroke-width="1.25"/>
<line x1="124.92" y1="246.2" x2="124.92" y2="243.39999999999998" stroke="#000" stroke-width="1.25"/>
<line x1="136.20" y1="246.2" x2="136.20" y2="243.39999999999998" stroke="#000" stroke-width="1.25"/>
<line x1="147.48" y1="246.2" x2="147.48" y2="243.39999999999998" stroke="#000" stroke-width="1.25"/>
<line x1="158.75" y1="246.2" x2="158.75" y2="241.39999999999998" stroke="#000" stroke-width="1.25"/>
<line x1="170.03" y1="246.2" x2="170.03" y2="243.39999999999998" stroke="#000" stroke-width="1.25"/>
<line x1="181.30" y1="246.2" x2="181.30" y2="243.39999999999998" stroke="#000" stroke-width="1.25"/>
<line x1="192.58" y1="246.2" x2="192.58" y2="243.39999999999998" stroke="#000" stroke-width="1.25"/>
<line x1="203.85" y1="246.2" x2="203.85" y2="243.39999999999998" stroke="#000" stroke-width="1.25"/>
<line x1="215.12" y1="246.2" x2="215.12" y2="241.39999999999998" stroke="#000" stroke-width="1.25"/>
<line x1="226.40" y1="246.2" x2="226.40" y2="243.39999999999998" stroke="#000" stroke-width="1.25"/>
<line x1="237.67" y1="246.2" x2="237.67" y2="243.39999999999998" stroke="#000" stroke-width="1.25"/>
<line x1="248.95" y1="246.2" x2="248.95" y2="243.39999999999998" stroke="#000" stroke-width="1.25"/>
<line x1="260.23" y1="246.2" x2="260.23" y2="243.39999999999998" stroke="#000" stroke-width="1.25"/>
<line x1="271.50" y1="246.2" x2="271.50" y2="241.39999999999998" stroke="#000" stroke-width="1.25"/>
<line x1="46.0" y1="246.20" x2="50.8" y2="246.20" stroke="#000" stroke-width="1.25"/>
<line x1="46.0" y1="218.04" x2="48.8" y2="218.04" stroke="#000" stroke-width="1.25"/>
<line x1="46.0" y1="189.88" x2="50.8" y2="189.88" stroke="#000" stroke-width="1.25"/>
<line x1="46.0" y1="161.71" x2="48.8" y2="161.71" stroke="#000" stroke-width="1.25"/>
<line x1="46.0" y1="133.55" x2="50.8" y2="133.55" stroke="#000" stroke-width="1.25"/>
<line x1="46.0" y1="105.39" x2="48.8" y2="105.39" stroke="#000" stroke-width="1.25"/>
<line x1="46.0" y1="77.22" x2="50.8" y2="77.22" stroke="#000" stroke-width="1.25"/>
<line x1="46.0" y1="49.06" x2="48.8" y2="49.06" stroke="#000" stroke-width="1.25"/>
<line x1="46.0" y1="20.90" x2="50.8" y2="20.90" stroke="#000" stroke-width="1.25"/>
<rect x="292.4" y="20.9" width="225.20000000000005" height="225.29999999999998" fill="none" stroke="#000" stroke-width="1.25"/>
<line x1="292.40" y1="246.2" x2="292.40" y2="241.39999999999998" stroke="#000" stroke-width="1.25"/>
<line x1="303.66" y1="246.2" x2="303.66" y2="243.39999999999998" stroke="#000" stroke-width="1.25"/>
<line x1="314.92" y1="246.2" x2="314.92" y2="243.39999999999998" stroke="#000" stroke-width="1.25"/>
<line x1="326.18" y1="246.2" x2="326.18" y2="243.39999999999998" stroke="#000" stroke-width="1.25"/>
<line x1="337.44" y1="246.2" x2="337.44" y2="243.39999999999998" stroke="#000" stroke-width="1.25"/>
<line x1="348.70" y1="246.2" x2="348.70" y2="241.39999999999998" stroke="#000" stroke-width="1.25"/>
<line x1="359.96" y1="246.2" x2="359.96" y2="243.39999999999998" stroke="#000" stroke-width="1.25"/>
<line x1="371.22" y1="246.2" x2="371.22" y2="243.39999999999998" stroke="#000" stroke-width="1.25"/>
<line x1="382.48" y1="246.2" x2="382.48" y2="243.39999999999998" stroke="#000" stroke-width="1.25"/>
<line x1="393.74" y1="246.2" x2="393.74" y2="243.39999999999998" stroke="#000" stroke-width="1.25"/>
<line x1="405.00" y1="246.2" x2="405.00" y2="241.39999999999998" stroke="#000" stroke-width="1.25"/>
<line x1="416.26" y1="246.2" x2="416.26" y2="243.39999999999998" stroke="#000" stroke-width="1.25"/>
<line x1="427.52" y1="246.2" x2="427.52" y2="243.39999999999998" stroke="#000" stroke-width="1.25"/>
<line x1="438.78" y1="246.2" x2="438.78" y2="243.39999999999998" stroke="#000" stroke-width="1.25"/>
<line x1="450.04" y1="246.2" x2="450.04" y2="243.39999999999998" stroke="#000" stroke-width="1.25"/>
<line x1="461.30" y1="246.2" x2="461.30" y2="241.39999999999998" stroke="#000" stroke-width="1.25"/>
<line x1="472.56" y1="246.2" x2="472.56" y2="243.39999999999998" stroke="#000" stroke-width="1.25"/>
<line x1="483.82" y1="246.2" x2="483.82" y2="243.39999999999998" stroke="#000" stroke-width="1.25"/>
<line x1="495.08" y1="246.2" x2="495.08" y2="243.39999999999998" stroke="#000" stroke-width="1.25"/>
<line x1="506.34" y1="246.2" x2="506.34" y2="243.39999999999998" stroke="#000" stroke-width="1.25"/>
<line x1="517.60" y1="246.2" x2="517.60" y2="241.39999999999998" stroke="#000" stroke-width="1.25"/>
<line x1="292.4" y1="246.20" x2="295.0" y2="246.20" stroke="#000" stroke-width="1.25"/>
<line x1="292.4" y1="189.88" x2="295.0" y2="189.88" stroke="#000" stroke-width="1.25"/>
<line x1="292.4" y1="133.55" x2="295.0" y2="133.55" stroke="#000" stroke-width="1.25"/>
<line x1="292.4" y1="77.22" x2="295.0" y2="77.22" stroke="#000" stroke-width="1.25"/>
<line x1="292.4" y1="20.90" x2="295.0" y2="20.90" stroke="#000" stroke-width="1.25"/>
<rect x="46.0" y="279.0" width="225.5" height="225.39999999999998" fill="none" stroke="#000" stroke-width="1.25"/>
<line x1="46.00" y1="504.4" x2="46.00" y2="499.59999999999997" stroke="#000" stroke-width="1.25"/>
<line x1="57.27" y1="504.4" x2="57.27" y2="501.59999999999997" stroke="#000" stroke-width="1.25"/>
<line x1="68.55" y1="504.4" x2="68.55" y2="501.59999999999997" stroke="#000" stroke-width="1.25"/>
<line x1="79.82" y1="504.4" x2="79.82" y2="501.59999999999997" stroke="#000" stroke-width="1.25"/>
<line x1="91.10" y1="504.4" x2="91.10" y2="501.59999999999997" stroke="#000" stroke-width="1.25"/>
<line x1="102.38" y1="504.4" x2="102.38" y2="499.59999999999997" stroke="#000" stroke-width="1.25"/>
<line x1="113.65" y1="504.4" x2="113.65" y2="501.59999999999997" stroke="#000" stroke-width="1.25"/>
<line x1="124.92" y1="504.4" x2="124.92" y2="501.59999999999997" stroke="#000" stroke-width="1.25"/>
<line x1="136.20" y1="504.4" x2="136.20" y2="501.59999999999997" stroke="#000" stroke-width="1.25"/>
<line x1="147.48" y1="504.4" x2="147.48" y2="501.59999999999997" stroke="#000" stroke-width="1.25"/>
<line x1="158.75" y1="504.4" x2="158.75" y2="499.59999999999997" stroke="#000" stroke-width="1.25"/>
<line x1="170.03" y1="504.4" x2="170.03" y2="501.59999999999997" stroke="#000" stroke-width="1.25"/>
<line x1="181.30" y1="504.4" x2="181.30" y2="501.59999999999997" stroke="#000" stroke-width="1.25"/>
<line x1="192.58" y1="504.4" x2="192.58" y2="501.59999999999997" stroke="#000" stroke-width="1.25"/>
<line x1="203.85" y1="504.4" x2="203.85" y2="501.59999999999997" stroke="#000" stroke-width="1.25"/>
<line x1="215.12" y1="504.4" x2="215.12" y2="499.59999999999997" stroke="#000" stroke-width="1.25"/>
<line x1="226.40" y1="504.4" x2="226.40" y2="501.59999999999997" stroke="#000" stroke-width="1.25"/>
<line x1="237.67" y1="504.4" x2="237.67" y2="501.59999999999997" stroke="#000" stroke-width="1.25"/>
<line x1="248.95" y1="504.4" x2="248.95" y2="501.59999999999997" stroke="#000" stroke-width="1.25"/>
<line x1="260.23" y1="504.4" x2="260.23" y2="501.59999999999997" stroke="#000" stroke-width="1.25"/>
<line x1="271.50" y1="504.4" x2="271.50" y2="499.59999999999997" stroke="#000" stroke-width="1.25"/>
<line x1="46.0" y1="504.40" x2="50.8" y2="504.40" stroke="#000" stroke-width="1.25"/>
<line x1="46.0" y1="485.62" x2="48.8" y2="485.62" stroke="#000" stroke-width="1.25"/>
<line x1="46.0" y1="466.83" x2="50.8" y2="466.83" stroke="#000" stroke-width="1.25"/>
<line x1="46.0" y1="448.05" x2="48.8" y2="448.05" stroke="#000" stroke-width="1.25"/>
<line x1="46.0" y1="429.27" x2="50.8" y2="429.27" stroke="#000" stroke-width="1.25"/>
<line x1="46.0" y1="410.48" x2="48.8" y2="410.48" stroke="#000" stroke-width="1.25"/>
<line x1="46.0" y1="391.70" x2="50.8" y2="391.70" stroke="#000" stroke-width="1.25"/>
<line x1="46.0" y1="372.92" x2="48.8" y2="372.92" stroke="#000" stroke-width="1.25"/>
<line x1="46.0" y1="354.13" x2="50.8" y2="354.13" stroke="#000" stroke-width="1.25"/>
<line x1="46.0" y1="335.35" x2="48.8" y2="335.35" stroke="#000" stroke-width="1.25"/>
<line x1="46.0" y1="316.57" x2="50.8" y2="316.57" stroke="#000" stroke-width="1.25"/>
<line x1="46.0" y1="297.78" x2="48.8" y2="297.78" stroke="#000" stroke-width="1.25"/>
<line x1="46.0" y1="279.00" x2="50.8" y2="279.00" stroke="#000" stroke-width="1.25"/>
<rect x="292.4" y="279.0" width="225.20000000000005" height="225.39999999999998" fill="none" stroke="#000" stroke-width="1.25"/>
<line x1="292.40" y1="504.4" x2="292.40" y2="509.2" stroke="#000" stroke-width="1.25"/>
<line x1="303.66" y1="504.4" x2="303.66" y2="507.2" stroke="#000" stroke-width="1.25"/>
<line x1="314.92" y1="504.4" x2="314.92" y2="507.2" stroke="#000" stroke-width="1.25"/>
<line x1="326.18" y1="504.4" x2="326.18" y2="507.2" stroke="#000" stroke-width="1.25"/>
<line x1="337.44" y1="504.4" x2="337.44" y2="507.2" stroke="#000" stroke-width="1.25"/>
<line x1="348.70" y1="504.4" x2="348.70" y2="509.2" stroke="#000" stroke-width="1.25"/>
<line x1="359.96" y1="504.4" x2="359.96" y2="507.2" stroke="#000" stroke-width="1.25"/>
<line x1="371.22" y1="504.4" x2="371.22" y2="507.2" stroke="#000" stroke-width="1.25"/>
<line x1="382.48" y1="504.4" x2="382.48" y2="507.2" stroke="#000" stroke-width="1.25"/>
<line x1="393.74" y1="504.4" x2="393.74" y2="507.2" stroke="#000" stroke-width="1.25"/>
<line x1="405.00" y1="504.4" x2="405.00" y2="509.2" stroke="#000" stroke-width="1.25"/>
<line x1="416.26" y1="504.4" x2="416.26" y2="507.2" stroke="#000" stroke-width="1.25"/>
<line x1="427.52" y1="504.4" x2="427.52" y2="507.2" stroke="#000" stroke-width="1.25"/>
<line x1="438.78" y1="504.4" x2="438.78" y2="507.2" stroke="#000" stroke-width="1.25"/>
<line x1="450.04" y1="504.4" x2="450.04" y2="507.2" stroke="#000" stroke-width="1.25"/>
<line x1="461.30" y1="504.4" x2="461.30" y2="509.2" stroke="#000" stroke-width="1.25"/>
<line x1="472.56" y1="504.4" x2="472.56" y2="507.2" stroke="#000" stroke-width="1.25"/>
<line x1="483.82" y1="504.4" x2="483.82" y2="507.2" stroke="#000" stroke-width="1.25"/>
<line x1="495.08" y1="504.4" x2="495.08" y2="507.2" stroke="#000" stroke-width="1.25"/>
<line x1="506.34" y1="504.4" x2="506.34" y2="507.2" stroke="#000" stroke-width="1.25"/>
<line x1="517.60" y1="504.4" x2="517.60" y2="509.2" stroke="#000" stroke-width="1.25"/>
<line x1="292.4" y1="504.40" x2="297.2" y2="504.40" stroke="#000" stroke-width="1.25"/>
<line x1="292.4" y1="485.62" x2="295.2" y2="485.62" stroke="#000" stroke-width="1.25"/>
<line x1="292.4" y1="466.83" x2="297.2" y2="466.83" stroke="#000" stroke-width="1.25"/>
<line x1="292.4" y1="448.05" x2="295.2" y2="448.05" stroke="#000" stroke-width="1.25"/>
<line x1="292.4" y1="429.27" x2="297.2" y2="429.27" stroke="#000" stroke-width="1.25"/>
<line x1="292.4" y1="410.48" x2="295.2" y2="410.48" stroke="#000" stroke-width="1.25"/>
<line x1="292.4" y1="391.70" x2="297.2" y2="391.70" stroke="#000" stroke-width="1.25"/>
<line x1="292.4" y1="372.92" x2="295.2" y2="372.92" stroke="#000" stroke-width="1.25"/>
<line x1="292.4" y1="354.13" x2="297.2" y2="354.13" stroke="#000" stroke-width="1.25"/>
<line x1="292.4" y1="335.35" x2="295.2" y2="335.35" stroke="#000" stroke-width="1.25"/>
<line x1="292.4" y1="316.57" x2="297.2" y2="316.57" stroke="#000" stroke-width="1.25"/>
<line x1="292.4" y1="297.78" x2="295.2" y2="297.78" stroke="#000" stroke-width="1.25"/>
<line x1="292.4" y1="279.00" x2="297.2" y2="279.00" stroke="#000" stroke-width="1.25"/>
<text x="40.9" y="251.20" text-anchor="end" font-family="Liberation Sans, sans-serif" font-size="14.5">-2</text>
<text x="40.9" y="194.88" text-anchor="end" font-family="Liberation Sans, sans-serif" font-size="14.5">-1</text>
<text x="40.9" y="138.55" text-anchor="end" font-family="Liberation Sans, sans-serif" font-size="14.5">0</text>
<text x="40.9" y="82.22" text-anchor="end" font-family="Liberation Sans, sans-serif" font-size="14.5">1</text>
<text x="40.9" y="25.90" text-anchor="end" font-family="Liberation Sans, sans-serif" font-size="14.5">2</text>
<text x="40.9" y="509.40" text-anchor="end" font-family="Liberation Sans, sans-serif" font-size="14.5">-3</text>
<text x="40.9" y="471.83" text-anchor="end" font-family="Liberation Sans, sans-serif" font-size="14.5">-2</text>
<text x="40.9" y="434.27" text-anchor="end" font-family="Liberation Sans, sans-serif" font-size="14.5">-1</text>
<text x="40.9" y="396.70" text-anchor="end" font-family="Liberation Sans, sans-serif" font-size="14.5">0</text>
<text x="40.9" y="359.13" text-anchor="end" font-family="Liberation Sans, sans-serif" font-size="14.5">1</text>
<text x="40.9" y="321.57" text-anchor="end" font-family="Liberation Sans, sans-serif" font-size="14.5">2</text>
<text x="40.9" y="284.00" text-anchor="end" font-family="Liberation Sans, sans-serif" font-size="14.5">3</text>
<text x="46.00" y="520.9" text-anchor="middle" font-family="Liberation Sans, sans-serif" font-size="14.5">10</text>
<text x="102.38" y="520.9" text-anchor="middle" font-family="Liberation Sans, sans-serif" font-size="14.5">15</text>
<text x="158.75" y="520.9" text-anchor="middle" font-family="Liberation Sans, sans-serif" font-size="14.5">20</text>
<text x="215.12" y="520.9" text-anchor="middle" font-family="Liberation Sans, sans-serif" font-size="14.5">25</text>
<text x="271.50" y="520.9" text-anchor="middle" font-family="Liberation Sans, sans-serif" font-size="14.5">30</text>
<text x="292.40" y="523.4" text-anchor="middle" font-family="Liberation Sans, sans-serif" font-size="14.5">10</text>
<text x="348.70" y="523.4" text-anchor="middle" font-family="Liberation Sans, sans-serif" font-size="14.5">15</text>
<text x="405.00" y="523.4" text-anchor="middle" font-family="Liberation Sans, sans-serif" font-size="14.5">20</text>
<text x="461.30" y="523.4" text-anchor="middle" font-family="Liberation Sans, sans-serif" font-size="14.5">25</text>
<text x="517.60" y="523.4" text-anchor="middle" font-family="Liberation Sans, sans-serif" font-size="14.5">30</text>
<text x="43" y="15.4" font-family="Liberation Sans, sans-serif" font-size="13.5">x10<tspan font-size="10.5" dy="-7.8">-4</tspan></text>
<text x="42.5" y="271" font-family="Liberation Sans, sans-serif" font-size="13.5">x10<tspan font-size="10.5" dy="-7">-2</tspan></text>
<text transform="translate(257.5,43.3) scale(1.03,1)" text-anchor="middle" font-family="Liberation Sans, sans-serif" font-size="19.5">(a)</text>
<text transform="translate(502.5,42.8) scale(1.03,1)" text-anchor="middle" font-family="Liberation Sans, sans-serif" font-size="19.5">(c)</text>
<text transform="translate(255.0,301.3) scale(1.03,1)" text-anchor="middle" font-family="Liberation Sans, sans-serif" font-size="19.5">(b)</text>
<text transform="translate(501.2,300.8) scale(1.03,1)" text-anchor="middle" font-family="Liberation Sans, sans-serif" font-size="19.5">(d)</text>
<text x="106.8" y="229.8" font-size="16" letter-spacing="0.5"><tspan font-family="Liberation Sans, sans-serif">D/</tspan><tspan font-family="Liberation Serif, serif" class="s">λ=0.5, node</tspan></text>
<text x="353.0" y="229.6" font-size="16" letter-spacing="0.5"><tspan font-family="Liberation Sans, sans-serif">D/</tspan><tspan font-family="Liberation Serif, serif" class="s">λ=0.5, node</tspan></text>
<text x="92.2" y="486.6" font-size="16" letter-spacing="0.5"><tspan font-family="Liberation Sans, sans-serif">D/</tspan><tspan font-family="Liberation Serif, serif" class="s">λ=0.8, antinode</tspan></text>
<text x="340.2" y="486.6" font-size="16" letter-spacing="0.5"><tspan font-family="Liberation Sans, sans-serif">D/</tspan><tspan font-family="Liberation Serif, serif" class="s">λ=0.8, antinode</tspan></text>
<text x="158.6" y="540.5" text-anchor="middle" font-size="20.5"><tspan font-family="Liberation Sans, sans-serif">d/</tspan><tspan font-family="Liberation Serif, serif" class="s">λ</tspan></text>
<text x="404.4" y="540.5" text-anchor="middle" font-size="20.5"><tspan font-family="Liberation Sans, sans-serif">d/</tspan><tspan font-family="Liberation Serif, serif" class="s">λ</tspan></text>
<text transform="translate(18.0,154.6) rotate(-90)" font-family="Liberation Sans, sans-serif" font-size="21">F<tspan font-size="11.5" dy="7" letter-spacing="0.35">NL (NT)</tspan></text>
<text transform="translate(14.9,412.6) rotate(-90)" font-family="Liberation Sans, sans-serif" font-size="21">F<tspan font-size="11.5" dy="5.6" letter-spacing="0.35">NL (NT)</tspan></text>
<line x1="102.9" y1="43.0" x2="102.9" y2="48.8" stroke="#555" stroke-width="0.9"/>
<line x1="149.3" y1="43.0" x2="149.3" y2="48.8" stroke="#555" stroke-width="0.9"/>
<line x1="195.5" y1="43.0" x2="195.5" y2="48.8" stroke="#555" stroke-width="0.9"/>
<line x1="108.9" y1="46.3" x2="120.1" y2="46.3" stroke="#111" stroke-width="1.05"/>
<line x1="132.1" y1="46.3" x2="143.3" y2="46.3" stroke="#111" stroke-width="1.05"/>
<path d="M103.3,46.3 L109.9,44.5 L109.9,48.1Z" fill="#000"/>
<path d="M148.9,46.3 L142.3,44.5 L142.3,48.1Z" fill="#000"/>
<text x="126.1" y="52.5" text-anchor="middle" font-family="Liberation Serif, serif" class="s" font-style="italic" font-size="17.2">d</text>
<line x1="155.3" y1="46.3" x2="166.4" y2="46.3" stroke="#111" stroke-width="1.05"/>
<line x1="178.4" y1="46.3" x2="189.5" y2="46.3" stroke="#111" stroke-width="1.05"/>
<path d="M149.7,46.3 L156.3,44.5 L156.3,48.1Z" fill="#000"/>
<path d="M195.1,46.3 L188.5,44.5 L188.5,48.1Z" fill="#000"/>
<text x="172.4" y="52.5" text-anchor="middle" font-family="Liberation Serif, serif" class="s" font-style="italic" font-size="17.2">d</text>
<line x1="195.5" y1="52.4" x2="227.5" y2="52.4" stroke="#8a10ff" stroke-width="1.1"/>
<path d="M233.5,52.4 L225.7,50.3 L227.0,52.4 L225.7,54.5Z" fill="#8000ff"/>
<circle cx="102.9" cy="52.4" r="3.4" fill="url(#bg)"/>
<circle cx="149.3" cy="52.4" r="3.4" fill="url(#bg)"/>
<circle cx="195.5" cy="52.4" r="3.4" fill="url(#bg)"/>
<text x="102.9" y="71.8" text-anchor="middle" font-family="Liberation Serif, serif" class="s" font-size="16.8">1</text>
<text x="149.3" y="71.8" text-anchor="middle" font-family="Liberation Serif, serif" class="s" font-size="16.8">2</text>
<text x="195.5" y="71.8" text-anchor="middle" font-family="Liberation Serif, serif" class="s" font-size="16.8">3</text>
<text x="220.3" y="71.0" font-family="Liberation Serif, serif" class="s" font-size="16.5">F<tspan font-size="10.3" dy="5.5">NL</tspan></text>
<line x1="102.9" y1="299.1" x2="102.9" y2="304.9" stroke="#555" stroke-width="0.9"/>
<line x1="149.3" y1="299.1" x2="149.3" y2="304.9" stroke="#555" stroke-width="0.9"/>
<line x1="195.5" y1="299.1" x2="195.5" y2="304.9" stroke="#555" stroke-width="0.9"/>
<line x1="108.9" y1="302.4" x2="120.1" y2="302.4" stroke="#111" stroke-width="1.05"/>
<line x1="132.1" y1="302.4" x2="143.3" y2="302.4" stroke="#111" stroke-width="1.05"/>
<path d="M103.3,302.4 L109.9,300.6 L109.9,304.2Z" fill="#000"/>
<path d="M148.9,302.4 L142.3,300.6 L142.3,304.2Z" fill="#000"/>
<text x="126.1" y="308.6" text-anchor="middle" font-family="Liberation Serif, serif" class="s" font-style="italic" font-size="17.2">d</text>
<line x1="155.3" y1="302.4" x2="166.4" y2="302.4" stroke="#111" stroke-width="1.05"/>
<line x1="178.4" y1="302.4" x2="189.5" y2="302.4" stroke="#111" stroke-width="1.05"/>
<path d="M149.7,302.4 L156.3,300.6 L156.3,304.2Z" fill="#000"/>
<path d="M195.1,302.4 L188.5,300.6 L188.5,304.2Z" fill="#000"/>
<text x="172.4" y="308.6" text-anchor="middle" font-family="Liberation Serif, serif" class="s" font-style="italic" font-size="17.2">d</text>
<line x1="195.5" y1="308.5" x2="227.5" y2="308.5" stroke="#8a10ff" stroke-width="1.1"/>
<path d="M233.5,308.5 L225.7,306.4 L227.0,308.5 L225.7,310.6Z" fill="#8000ff"/>
<circle cx="102.9" cy="308.5" r="3.4" fill="url(#bg)"/>
<circle cx="149.3" cy="308.5" r="3.4" fill="url(#bg)"/>
<circle cx="195.5" cy="308.5" r="3.4" fill="url(#bg)"/>
<text x="102.9" y="327.9" text-anchor="middle" font-family="Liberation Serif, serif" class="s" font-size="16.8">1</text>
<text x="149.3" y="327.9" text-anchor="middle" font-family="Liberation Serif, serif" class="s" font-size="16.8">2</text>
<text x="195.5" y="327.9" text-anchor="middle" font-family="Liberation Serif, serif" class="s" font-size="16.8">3</text>
<text x="220.3" y="327.1" font-family="Liberation Serif, serif" class="s" font-size="16.5">F<tspan font-size="10.3" dy="5.5">NL</tspan></text>
<line x1="413.48" y1="29.93" x2="416.21" y2="25.15" stroke="#111" stroke-width="1.05"/>
<line x1="453.08" y1="52.53" x2="455.81" y2="47.75" stroke="#111" stroke-width="1.05"/>
<line x1="419.83" y1="30.90" x2="430.77" y2="37.15" stroke="#111" stroke-width="1.05"/>
<line x1="438.07" y1="41.31" x2="449.01" y2="47.55" stroke="#111" stroke-width="1.05"/>
<path d="M414.97,28.13 L421.59,29.83 L419.81,32.96Z" fill="#000"/>
<path d="M453.88,50.33 L449.04,45.50 L447.25,48.62Z" fill="#000"/>
<text x="433.42" y="44.43" text-anchor="middle" font-family="Liberation Serif, serif" class="s" font-style="italic" font-size="17.2">d</text>
<line x1="451.1" y1="56.0" x2="482.1" y2="56.0" stroke="#8a10ff" stroke-width="1.1"/>
<path d="M488.6,56.0 L480.6,54.0 L482.1,56.0 L480.6,58.0Z" fill="#8000ff"/>
<circle cx="411.5" cy="33.6" r="3.4" fill="url(#bg)"/>
<circle cx="451.1" cy="56.2" r="3.4" fill="url(#bg)"/>
<circle cx="411.5" cy="79.4" r="3.4" fill="url(#bg)"/>
<text x="411.5" y="52.4" text-anchor="middle" font-family="Liberation Serif, serif" class="s" font-size="16.8">1</text>
<text x="451.1" y="74.8" text-anchor="middle" font-family="Liberation Serif, serif" class="s" font-size="16.8">3</text>
<text x="411.5" y="97.4" text-anchor="middle" font-family="Liberation Serif, serif" class="s" font-size="16.8">2</text>
<text x="475.6" y="74.6" font-family="Liberation Serif, serif" class="s" font-size="16.5">F<tspan font-size="10.3" dy="5.5">NT</tspan></text>
<line x1="411.88" y1="286.63" x2="414.61" y2="281.85" stroke="#111" stroke-width="1.05"/>
<line x1="451.48" y1="309.23" x2="454.21" y2="304.45" stroke="#111" stroke-width="1.05"/>
<line x1="418.23" y1="287.60" x2="429.17" y2="293.85" stroke="#111" stroke-width="1.05"/>
<line x1="436.47" y1="298.01" x2="447.41" y2="304.25" stroke="#111" stroke-width="1.05"/>
<path d="M413.37,284.83 L419.99,286.53 L418.21,289.66Z" fill="#000"/>
<path d="M452.28,307.03 L447.44,302.20 L445.65,305.32Z" fill="#000"/>
<text x="431.82" y="301.13" text-anchor="middle" font-family="Liberation Serif, serif" class="s" font-style="italic" font-size="17.2">d</text>
<line x1="449.5" y1="312.7" x2="480.5" y2="312.7" stroke="#8a10ff" stroke-width="1.1"/>
<path d="M487.0,312.7 L479.0,310.7 L480.5,312.7 L479.0,314.7Z" fill="#8000ff"/>
<circle cx="409.9" cy="290.3" r="3.4" fill="url(#bg)"/>
<circle cx="449.5" cy="312.9" r="3.4" fill="url(#bg)"/>
<circle cx="409.9" cy="336.1" r="3.4" fill="url(#bg)"/>
<text x="409.9" y="309.1" text-anchor="middle" font-family="Liberation Serif, serif" class="s" font-size="16.8">1</text>
<text x="449.5" y="331.5" text-anchor="middle" font-family="Liberation Serif, serif" class="s" font-size="16.8">3</text>
<text x="409.9" y="354.1" text-anchor="middle" font-family="Liberation Serif, serif" class="s" font-size="16.8">2</text>
<text x="474.0" y="331.3" font-family="Liberation Serif, serif" class="s" font-size="16.5">F<tspan font-size="10.3" dy="5.5">NT</tspan></text>
</svg>
</body></html>
